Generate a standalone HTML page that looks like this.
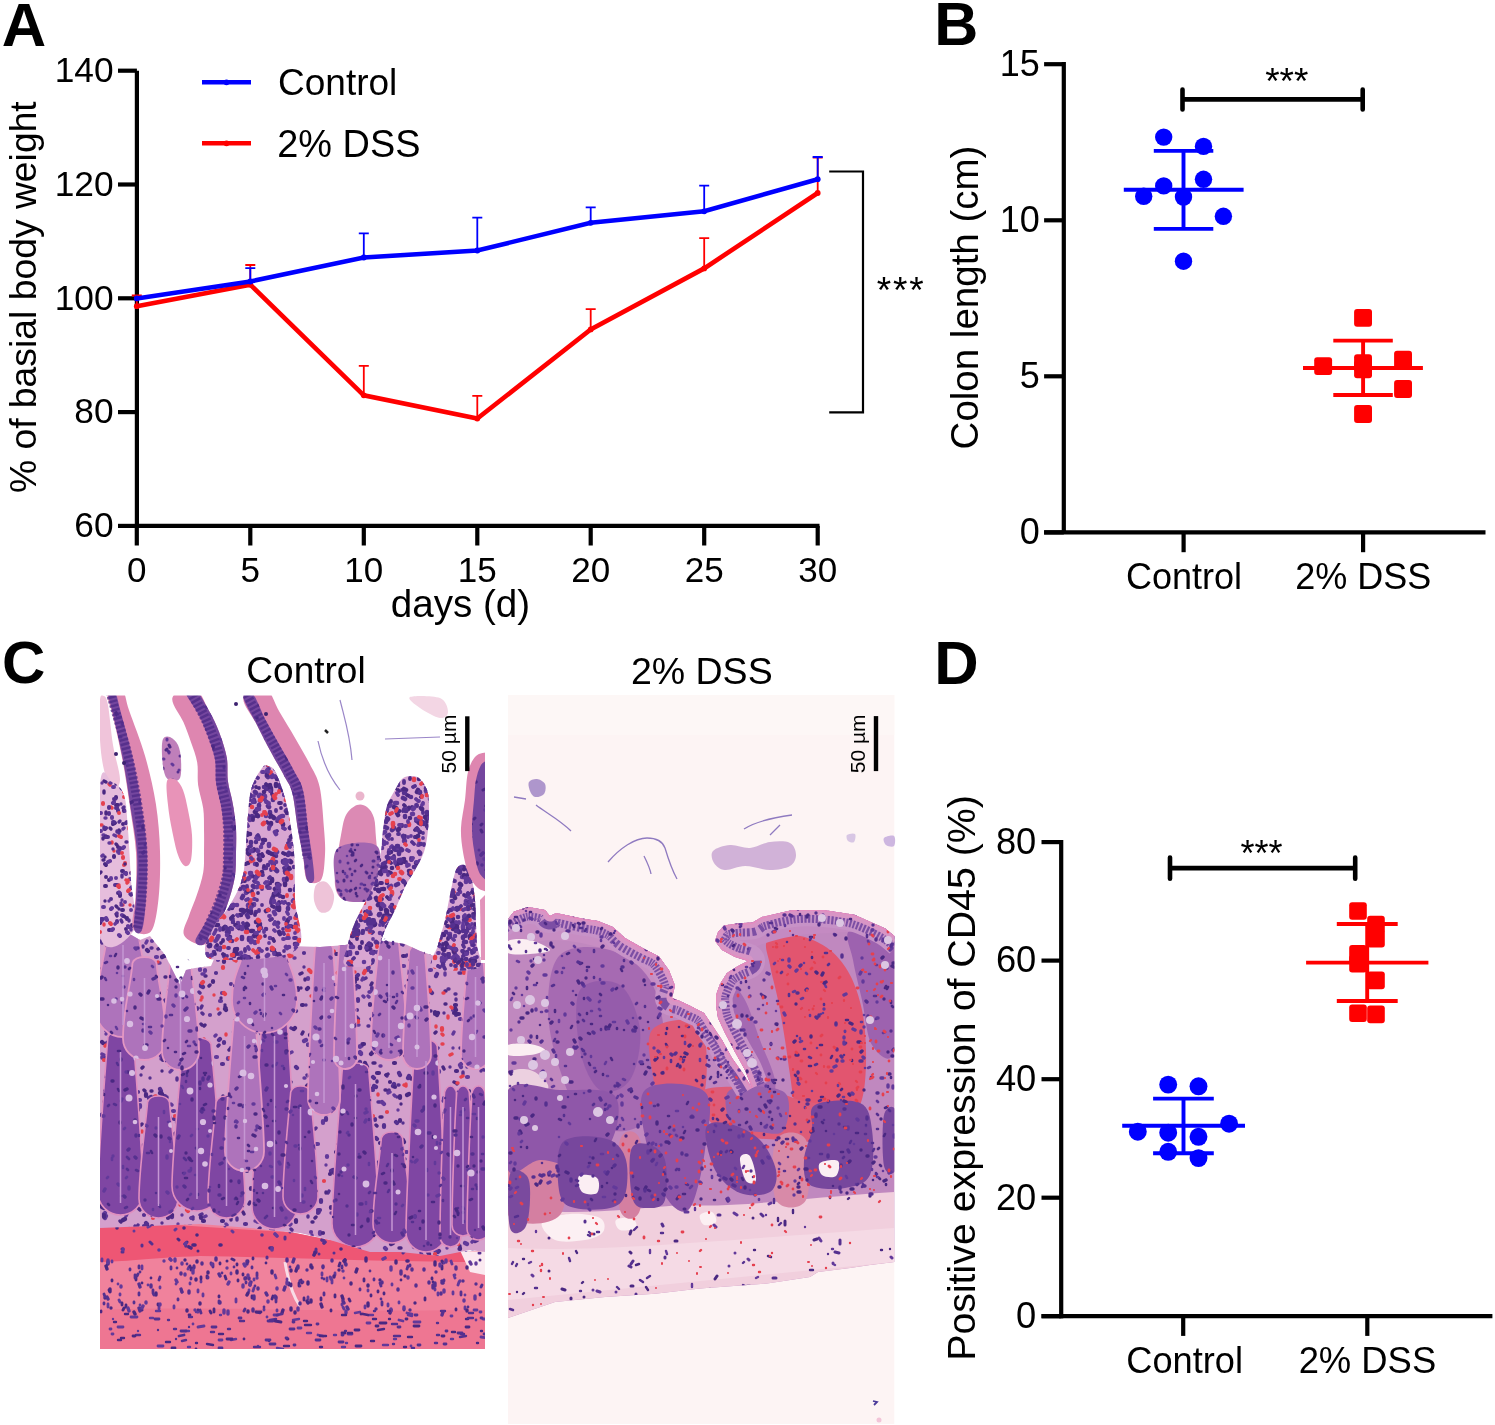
<!DOCTYPE html>
<html><head><meta charset="utf-8"><title>Figure</title>
<style>
html,body{margin:0;padding:0;background:#fff;width:1495px;height:1425px;overflow:hidden}
svg{display:block;will-change:transform}
text{font-family:"Liberation Sans",sans-serif;fill:#000}
</style></head>
<body>
<svg width="1495" height="1425" viewBox="0 0 1495 1425">
<rect width="1495" height="1425" fill="#fff"/>
<defs><clipPath id="c1"><path d="M100 1226L150 1225L200 1222L250 1226L290 1232L330 1240L380 1246L430 1249L485 1252L485 1349L100 1349Z"/></clipPath><clipPath id="c2"><path d="M100 930L128 933L140 940L150 936L165 955L180 985L186 970L195 968L211 966L220 945L240 938L270 940L290 946L320 947L345 945L360 942L385 941L405 944L420 951L440 958L460 963L485 963L485 1252L470 1250L440 1256L400 1252L370 1252L330 1240L300 1233L250 1228L200 1224L150 1226L100 1228Z"/></clipPath><clipPath id="c3"><path d="M107.9 1037C105.9 1062 98 1162.5 98 1192.5C98 1204.9 108.1 1215 120.5 1215C132.9 1215 143 1204.9 143 1192.5C143 1162.5 135.1 1062 133.1 1037C130.1 1029 110.9 1029 107.9 1037Z"/><path d="M147.6 1102C145.6 1127 139 1168.5 139 1198.5C139 1209.3 147.7 1218 158.5 1218C169.3 1218 178 1209.3 178 1198.5C178 1168.5 171.4 1127 169.4 1102C166.4 1094 150.6 1094 147.6 1102Z"/><path d="M183 1044C181 1069 172 1156 172 1186C172 1199.8 183.2 1211 197 1211C210.8 1211 222 1199.8 222 1186C222 1156 213 1069 211 1044C208 1036 186 1036 183 1044Z"/><path d="M216.1 1102C214.1 1127 208 1169.5 208 1199.5C208 1209.7 216.3 1218 226.5 1218C236.7 1218 245 1209.7 245 1199.5C245 1169.5 238.9 1127 236.9 1102C233.9 1094 219.1 1094 216.1 1102Z"/><path d="M261.9 1021C259.9 1046 252 1176.5 252 1206.5C252 1218.9 262.1 1229 274.5 1229C286.9 1229 297 1218.9 297 1206.5C297 1176.5 289.1 1046 287.1 1021C284.1 1013 264.9 1013 261.9 1021Z"/><path d="M290.7 1092C288.7 1117 283 1166.5 283 1196.5C283 1206.2 290.8 1214 300.5 1214C310.2 1214 318 1206.2 318 1196.5C318 1166.5 312.3 1117 310.3 1092C307.3 1084 293.7 1084 290.7 1092Z"/><path d="M342.3 1069C340.3 1094 332 1193.5 332 1223.5C332 1236.5 342.5 1247 355.5 1247C368.5 1247 379 1236.5 379 1223.5C379 1193.5 370.7 1094 368.7 1069C365.7 1061 345.3 1061 342.3 1069Z"/><path d="M381.4 1138C379.4 1163 373 1194 373 1224C373 1234.5 381.5 1243 392 1243C402.5 1243 411 1234.5 411 1224C411 1194 404.6 1163 402.6 1138C399.6 1130 384.4 1130 381.4 1138Z"/><path d="M414.8 1046C412.8 1071 406 1202 406 1232C406 1243 415 1252 426 1252C437 1252 446 1243 446 1232C446 1202 439.2 1071 437.2 1046C434.2 1038 417.8 1038 414.8 1046Z"/><path d="M444.6 1092C442.6 1117 440 1206.5 440 1236.5C440 1242.3 444.7 1247 450.5 1247C456.3 1247 461 1242.3 461 1236.5C461 1206.5 458.4 1117 456.4 1092C453.4 1084 447.6 1084 444.6 1092Z"/><path d="M456.8 1092C454.8 1117 452 1195 452 1225C452 1231.1 456.9 1236 463 1236C469.1 1236 474 1231.1 474 1225C474 1195 471.2 1117 469.2 1092C466.2 1084 459.8 1084 456.8 1092Z"/><path d="M472.1 1092C470.1 1117 467 1198.5 467 1228.5C467 1234.9 472.1 1240 478.5 1240C484.9 1240 490 1234.9 490 1228.5C490 1198.5 486.9 1117 484.9 1092C481.9 1084 475.1 1084 472.1 1092Z"/><path d="M107.9 930C105.9 955 96 980 96 1010C96 1024.9 108.1 1037 123 1037C137.9 1037 150 1024.9 150 1010C150 980 140.1 955 138.1 930C135.1 922 110.9 922 107.9 930Z"/><path d="M132.5 963C130.5 988 123 1008.5 123 1038.5C123 1050.4 132.6 1060 144.5 1060C156.4 1060 166 1050.4 166 1038.5C166 1008.5 158.5 988 156.5 963C153.5 955 135.5 955 132.5 963Z"/><path d="M170.1 963C168.1 988 162 1021.5 162 1051.5C162 1061.7 170.3 1070 180.5 1070C190.7 1070 199 1061.7 199 1051.5C199 1021.5 192.9 988 190.9 963C187.9 955 173.1 955 170.1 963Z"/><path d="M233.6 1021C231.6 1046 225 1121.5 225 1151.5C225 1162.3 233.7 1171 244.5 1171C255.3 1171 264 1162.3 264 1151.5C264 1121.5 257.4 1046 255.4 1021C252.4 1013 236.6 1013 233.6 1021Z"/><path d="M246.3 938C244.3 963 232 970.5 232 1000.5C232 1018.4 246.6 1033 264.5 1033C282.4 1033 297 1018.4 297 1000.5C297 970.5 284.7 963 282.7 938C279.7 930 249.3 930 246.3 938Z"/><path d="M315 948C313 973 308 1069 308 1099C308 1107.8 315.2 1115 324 1115C332.8 1115 340 1107.8 340 1099C340 1069 335 973 333 948C330 940 318 940 315 948Z"/><path d="M339.1 946C337.1 971 334 1027.5 334 1057.5C334 1063.9 339.1 1069 345.5 1069C351.9 1069 357 1063.9 357 1057.5C357 1027.5 353.9 971 351.9 946C348.9 938 342.1 938 339.1 946Z"/><path d="M378.9 944C376.9 969 371 1012 371 1042C371 1051.9 379.1 1060 389 1060C398.9 1060 407 1051.9 407 1042C407 1012 401.1 969 399.1 944C396.1 936 381.9 936 378.9 944Z"/><path d="M409.2 951C407.2 976 403 1025 403 1055C403 1062.7 409.3 1069 417 1069C424.7 1069 431 1062.7 431 1055C431 1025 426.8 976 424.8 951C421.8 943 412.2 943 409.2 951Z"/><path d="M467.4 962C465.4 987 461 1024.5 461 1054.5C461 1062.5 467.5 1069 475.5 1069C483.5 1069 490 1062.5 490 1054.5C490 1024.5 485.6 987 483.6 962C480.6 954 470.4 954 467.4 962Z"/></clipPath><clipPath id="c4"><path d="M100 785C102 759.3 108 780.3 112 782C116 783.7 121.3 787 124 795C126.7 803 126.8 815.8 128 830C129.2 844.2 130 863.3 131 880C132 896.7 139.2 920.7 134 930C128.8 939.3 105.7 960.2 100 936C94.3 911.8 98 810.7 100 785Z"/></clipPath><clipPath id="c5"><path d="M108.3 693.9C108 697.8 110.8 703.9 113.3 715.2C115.8 726.5 120.4 746.1 123.3 761.5C126.2 777 128.4 792.7 130.6 807.9C132.9 823 136.1 837.6 137 852.5C137.9 867.4 136.5 884.4 136 897.2C135.5 909.9 133.1 923.3 134.1 928.8C135.1 934.2 140 935.1 142 930C144 924.9 145.2 910.9 146 897.9C146.8 884.9 147.7 867.3 147 852C146.3 836.8 143.8 821.7 141.5 806.2C139.2 790.8 136.4 774.8 133 759.2C129.6 743.7 124 724.2 121 713C118 701.8 117.1 695.2 115 692C112.9 688.8 108.6 690.1 108.3 693.9Z"/></clipPath><clipPath id="c6"><path d="M163 739C164.3 736 167.5 736 170 737C172.5 738 176.2 741.2 178 745C179.8 748.8 180.7 754.5 181 760C181.3 765.5 181.5 774.5 180 778C178.5 781.5 174.5 781.5 172 781C169.5 780.5 166.7 779.3 165 775C163.3 770.7 162.3 761 162 755C161.7 749 161.7 742 163 739Z"/></clipPath><clipPath id="c7"><path d="M184.8 691C185.6 695.8 194.9 707.2 198.7 714.7C202.5 722.2 205.1 728.5 207.8 736C210.5 743.4 213.6 751.7 215 759.5C216.3 767.3 215 774.9 216 782.6C217 790.3 219.6 797.8 221 805.5C222.3 813.3 223.5 821.1 224 828.8C224.5 836.6 224.2 844.3 224 852.1C223.8 859.9 224.3 867.5 222.9 875.7C221.6 883.9 218.6 893.6 215.8 901.3C212.9 909.1 209.1 915.7 205.7 922.2C202.3 928.8 195.7 936.9 195.4 940.6C195 944.4 199.9 946.7 203.5 944.5C207 942.2 212.7 933.7 216.7 927.2C220.6 920.6 224.1 913.5 227.1 905.3C230.1 897 233.3 886.4 234.8 877.6C236.3 868.8 235.8 860.6 236 852.3C236.2 844.1 236.5 836.4 236 828.3C235.5 820.2 234.2 811.6 232.8 803.7C231.5 795.9 228.9 788.8 227.9 781.1C226.9 773.3 228.2 765.6 226.8 757.4C225.3 749.2 222.1 739.8 219.1 731.9C216.1 723.9 212.8 717.4 208.6 709.9C204.3 702.3 197.5 689.4 193.6 686.3C189.6 683.2 183.9 686.3 184.8 691Z"/></clipPath><clipPath id="c8"><path d="M262 768C264.8 764 265.7 765.2 268 766C270.3 766.8 272.8 766.3 276 773C279.2 779.7 284 792.8 287 806C290 819.2 292.7 836.3 294 852C295.3 867.7 294.7 883.7 295 900C295.3 916.3 308.5 940 296 950C283.5 960 235.2 960 220 960C204.8 960 205.8 955.8 205 950C204.2 944.2 210.8 932.5 215 925C219.2 917.5 225.3 913.3 230 905C234.7 896.7 240.2 887.7 243 875C245.8 862.3 245.7 843.2 247 829C248.3 814.8 248.5 800.2 251 790C253.5 779.8 259.2 772 262 768Z"/></clipPath><clipPath id="c9"><path d="M243.4 697.7C244.2 702.9 252 715.2 256.6 724.2C261.2 733.3 266.1 743.1 270.8 751.8C275.4 760.5 280.9 769.5 284.5 776.4C288.1 783.3 290.1 784.2 292.4 793.2C294.6 802.3 296.3 820.2 298.1 830.6C299.9 841 301.5 847.4 303 855.6C304.5 863.9 305.2 875.9 307 880C308.8 884.1 313.2 884.1 314 880C314.8 875.9 313 863.6 312 855.1C311 846.7 309.5 840.1 308 829.4C306.5 818.6 305.4 800.4 303.1 790.7C300.8 781 298.1 778.7 294.3 771.4C290.5 764 285.2 755.1 280.4 746.5C275.6 737.8 270.1 728.4 265.4 719.4C260.7 710.5 255.9 696.6 252.2 692.9C248.6 689.3 242.7 692.5 243.4 697.7Z"/></clipPath><clipPath id="c10"><path d="M338 848C345 842.3 370.2 839.8 377 846C383.8 852.2 379.7 876.2 379 885C378.3 893.8 376.8 896.2 373 899C369.2 901.8 361.3 902.2 356 902C350.7 901.8 344.5 901.7 341 898C337.5 894.3 335.5 888.3 335 880C334.5 871.7 331 853.7 338 848Z"/></clipPath><clipPath id="c11"><path d="M410 776C412.8 775.8 416.2 775.7 419 778C421.8 780.3 425.3 785.3 427 790C428.7 794.7 428.8 799.3 429 806C429.2 812.7 428.8 822.3 428 830C427.2 837.7 426.2 845.3 424 852C421.8 858.7 418.2 864.2 415 870C411.8 875.8 408.3 880.3 405 887C401.7 893.7 398.3 902.8 395 910C391.7 917.2 387.8 923.3 385 930C382.2 936.7 380.2 944.2 378 950C375.8 955.8 377.5 962.5 372 965C366.5 967.5 349.2 967.8 345 965C340.8 962.2 345.8 953.8 347 948C348.2 942.2 349.8 936 352 930C354.2 924 357 918.2 360 912C363 905.8 367.2 899.2 370 893C372.8 886.8 375.2 881.8 377 875C378.8 868.2 380 859.5 381 852C382 844.5 382 837.7 383 830C384 822.3 385 812.7 387 806C389 799.3 392.5 794.5 395 790C397.5 785.5 399.5 781.3 402 779C404.5 776.7 407.2 776.2 410 776Z"/></clipPath><clipPath id="c12"><path d="M461 865C462.8 864.5 465.2 864.5 467 867C468.8 869.5 470.7 874.5 472 880C473.3 885.5 474.3 892.5 475 900C475.7 907.5 475.7 917.5 476 925C476.3 932.5 476.7 937.8 477 945C477.3 952.2 485.3 964.2 478 968C470.7 971.8 439.7 971.8 433 968C426.3 964.2 436 953 438 945C440 937 443.2 927.5 445 920C446.8 912.5 447.8 905.8 449 900C450.2 894.2 450.8 890 452 885C453.2 880 454.5 873.3 456 870C457.5 866.7 459.2 865.5 461 865Z"/></clipPath><clipPath id="c13"><path d="M488 760C486.8 760.8 483 761.7 481 765C479 768.3 477.2 774.2 476 780C474.8 785.8 474.7 792 474 800C473.3 808 472 819.7 472 828C472 836.3 472.8 842.7 474 850C475.2 857.3 476.7 866.7 479 872C481.3 877.3 486.5 880.3 488 882Z"/></clipPath><clipPath id="c14"><path d="M508 919L514 911.6L528 907L545 910L550 916L556 913L582 918.6L598 921L613 927L625 938L644 948.7L659 956.4L669 970.3L675 985.8L672 998L680 1001L690 1005.8L704 1013L712 1025L722 1040L732 1058L742 1072L752 1088L745 1070L735 1052L725 1033L718 1018L716 1005L716 995L720 984L727 973L738 966L748 961L735 957L722 950L715 941L718 932L724 925.5L738.6 923.2L752.5 922.4L761.8 917L792.7 910L823.6 910L854.4 914.7L885.3 928.6L894.3 936L894.3 1262L870 1265L850 1268L818 1272L810 1277L767 1283.6L700 1288.6L655 1293.7L605 1297L555 1302L508 1318Z"/></clipPath></defs>
<path d="M100 1226L150 1225L200 1222L250 1226L290 1232L330 1240L380 1246L430 1249L485 1252L485 1349L100 1349Z" fill="#f0829c"/>
<g clip-path="url(#c1)"><path d="M100 1220L485 1245L485 1262C400 1262 300 1258 200 1256C150 1258 120 1262 100 1262Z" fill="#ee5674"/><path d="M100 1310C200 1306 300 1312 485 1310L485 1349L100 1349Z" fill="#ee7692"/><path d="M458 1246L485 1244L485 1275L470 1272Z" fill="#fbe9f0"/><path d="M285 1262C288 1280 292 1295 300 1306" stroke="#f8dce6" stroke-width="3" fill="none"/></g>
<g clip-path="url(#c1)" fill="none" stroke-linecap="round"><path stroke="#62399a" stroke-width="3" d="M225 1226l-0 0M241 1222l0 0M232 1231l1 1M467 1235l1 2M176 1229l-1 1M408 1224l-2 1M150 1226l-2 1M134 1231l-0 0M114 1221l1 1M420 1250l0 1M290 1232l-0 0M443 1246l-2 2M388 1241l2 0"/><path stroke="#4a2882" stroke-width="3" d="M127 1224l2 1M314 1226l-0 1M232 1259l2 1M420 1228l-0 0M187 1242l-2 2M480 1260l0 0M316 1230l-0 2M178 1239l1 1M122 1249l1 0M442 1261l1 2M227 1261l-0 0M198 1251l0 0"/><path stroke="#55308f" stroke-width="3.6" d="M186 1246l0 0M124 1223l0 2M323 1239l-1 1M389 1240l1 2M316 1252l-1 0M358 1238l-2 1M473 1229l2 1M262 1235l-0 0M400 1231l-1 2M121 1225l1 0M254 1222l1 1M325 1242l-1 1M384 1231l-0 0"/><path stroke="#55308f" stroke-width="3" d="M316 1249l-0 1M381 1232l1 1M123 1252l-1 0M189 1223l2 0M335 1233l-1 0M285 1237l0 2M142 1245l-0 1M465 1246l1 1M404 1252l-1 1M379 1227l-0 0M311 1226l-1 0M267 1257l0 1M334 1253l-0 0M479 1253l1 0M150 1242l2 2M353 1230l1 0M319 1254l0 0M451 1232l0 0"/><path stroke="#4a2882" stroke-width="3.6" d="M221 1245l-1 0M315 1253l-1 2M357 1221l0 0M291 1227l-2 1M433 1232l1 2M197 1235l-0 0M482 1240l0 0M348 1224l1 2M408 1261l-1 0M193 1245l2 0M333 1228l-1 1M270 1221l1 0M272 1248l-2 0M117 1228l0 0M184 1228l0 0M345 1260l-1 1M341 1249l-0 0M189 1247l2 1"/><path stroke="#62399a" stroke-width="3.6" d="M369 1230l-1 1M123 1249l0 1M466 1249l0 1M186 1243l-1 1M282 1228l-1 0M411 1226l1 1M385 1258l-2 1M146 1223l2 1M295 1230l-2 1M159 1250l-0 0M357 1229l1 2M464 1237l2 0M275 1234l2 2M170 1259l1 1M272 1248l-0 2M356 1236l-1 1"/></g>
<g clip-path="url(#c1)" fill="none" stroke-linecap="round"><path stroke="#62399a" stroke-width="2.8" d="M203 1294l0 2M120 1294l0 1M343 1307l1 2M194 1267l0 1M148 1285l-0 0M142 1266l-0 3M277 1310l0 1M451 1261l1 3M231 1273l-0 1M388 1304l0 2M194 1266l0 1M198 1290l-0 2M160 1287l0 1M365 1306l-0 2M176 1284l-0 0M174 1306l0 2M455 1275l0 0M118 1284l0 0M444 1263l-0 0M102 1259l0 2M327 1278l-0 3M465 1307l-0 2M345 1262l0 2M254 1279l-0 1M190 1283l0 1M332 1280l0 3M438 1293l-0 2M275 1275l1 3M108 1304l0 3M308 1297l-0 2M399 1302l-0 1M159 1307l-0 2M368 1290l-0 1M249 1290l0 1M119 1300l1 2M112 1261l0 1M201 1281l0 1M287 1279l0 1M330 1277l0 0M435 1289l-0 1M264 1309l0 1M189 1267l-1 2M140 1305l0 0M344 1278l0 0M453 1292l0 2M459 1282l-1 3M322 1273l0 2M236 1299l-0 3M335 1273l-0 2M392 1284l0 1M454 1275l1 3M465 1295l0 0M254 1288l-1 3M342 1304l0 1"/><path stroke="#4a2882" stroke-width="2.8" d="M299 1283l-0 3M220 1263l0 1M225 1276l1 3M384 1293l-0 1M349 1299l1 2M253 1258l-0 1M214 1309l0 3M109 1290l1 2M273 1296l-1 3M124 1308l-1 2M433 1282l-0 0M291 1284l-0 2M480 1294l-0 1M238 1280l0 1M101 1311l-0 1M266 1263l0 0M198 1310l-0 2M207 1276l0 2M237 1264l0 1M151 1278l-0 0M401 1280l-0 0M425 1298l0 2M456 1309l-0 1M141 1308l1 2M201 1277l0 2M112 1280l-0 1M243 1274l-0 1M192 1268l-1 2M378 1291l-0 1M321 1298l-0 2M301 1280l1 3M371 1295l-0 1M340 1263l-1 3M122 1303l0 2M304 1298l0 2M190 1266l-0 1M335 1295l0 2M432 1278l0 1M219 1296l0 1M331 1310l-0 1M252 1296l0 2M442 1266l0 3M142 1283l0 0M404 1309l0 1M342 1268l-0 0M290 1285l0 0M210 1311l1 2M126 1305l-0 2M158 1304l0 1M364 1279l0 2M136 1278l0 2M345 1260l0 2M289 1283l-0 2M248 1261l-0 1"/><path stroke="#4a2882" stroke-width="3.4" d="M295 1312l-0 1M380 1280l0 0M105 1298l0 0M435 1262l0 3M297 1268l-1 3M312 1267l0 1M291 1270l-0 1M248 1293l-1 2M246 1278l0 0M308 1282l0 2M283 1310l-1 3M334 1276l-0 1M272 1271l-0 2M208 1272l0 1M339 1270l0 0M196 1279l0 1M415 1303l0 0M396 1261l-0 2M368 1303l0 3M248 1311l0 1M467 1310l0 1M187 1310l0 1M311 1265l0 2M368 1285l0 1M197 1261l0 1M405 1276l-0 0M134 1312l1 2M342 1296l1 3M467 1267l-0 1M106 1266l1 3M311 1300l-0 2M200 1303l0 1M185 1260l-0 0M111 1308l0 0M351 1283l0 1M108 1262l0 2M110 1289l0 2M391 1310l-1 3M156 1293l0 2M321 1304l1 3M237 1271l-0 2M276 1297l-0 1M307 1301l1 2M291 1308l0 2M366 1258l-0 3M357 1269l-1 3"/><path stroke="#55308f" stroke-width="3.4" d="M181 1289l1 3M416 1285l-0 1M287 1259l0 2M382 1282l-0 1M412 1269l-0 1M181 1273l-0 1M401 1271l-0 3M441 1293l0 1M220 1302l-0 1M151 1285l-0 2M285 1287l-1 3M202 1263l-0 1M139 1284l1 3M463 1281l0 0M347 1307l1 2M410 1310l-0 0M476 1284l-0 0M245 1278l0 1M189 1291l0 2M219 1274l1 2M424 1269l0 1M307 1270l0 0M398 1289l-0 1M346 1264l0 1M429 1282l0 1M254 1296l0 3M376 1309l-0 0M247 1261l-0 3M216 1258l-0 2M139 1308l1 3M266 1293l1 2M107 1297l1 2M249 1278l0 1M443 1312l-1 3M435 1283l-0 3M251 1282l-1 3M442 1282l0 1M343 1301l1 2M300 1303l-0 1M433 1285l0 3M436 1272l-0 0M253 1309l-0 2M332 1260l0 1M294 1259l-1 3M300 1281l0 0M275 1296l-0 1M456 1267l0 2M258 1288l-0 1M442 1281l1 2M298 1266l0 2M323 1266l0 1"/><path stroke="#55308f" stroke-width="2.8" d="M252 1267l-0 1M303 1282l0 0M324 1279l0 0M208 1277l-0 1M219 1301l0 2M222 1273l0 0M130 1269l-0 1M482 1285l-1 2M213 1264l0 3M322 1278l-0 0M234 1267l0 0M160 1277l-1 3M245 1309l-1 2M382 1302l0 3M468 1307l0 0M191 1278l-0 1M194 1266l-0 2M290 1267l0 0M171 1267l-0 2M187 1264l-0 0M182 1292l0 0M153 1293l1 2M374 1279l0 1M211 1263l0 1M178 1299l0 1M323 1267l0 1M200 1310l1 3M104 1303l0 1M360 1289l0 1M324 1293l0 2M139 1266l0 2M370 1271l0 0M276 1299l0 3M139 1293l0 2M104 1294l1 3M380 1283l1 3M134 1302l0 1M255 1286l-0 0M177 1268l-0 0M135 1275l-0 3M246 1282l-0 1M408 1266l-1 3M342 1266l0 1M138 1274l-1 2M257 1273l0 3M381 1299l-0 0M410 1265l0 1M140 1272l-0 0M153 1290l0 2M461 1292l-0 3M264 1307l-0 0M444 1280l-0 1M300 1286l-0 0"/><path stroke="#62399a" stroke-width="3.4" d="M108 1260l0 3M128 1308l1 3M195 1310l0 0M243 1285l0 2M227 1268l-0 0M343 1271l0 0M257 1278l0 0M250 1283l0 2M391 1267l0 3M440 1264l0 2M346 1311l-0 2M185 1274l0 1M444 1290l0 2M176 1280l1 2M268 1301l-0 1M331 1278l-0 1M224 1310l-0 3M160 1304l0 1M298 1308l0 2M408 1277l0 1M476 1263l-0 1M470 1262l1 2M446 1260l0 2M228 1311l-0 3M404 1307l-0 2M146 1302l0 1M464 1300l0 1M475 1296l-0 3M182 1263l-0 1M244 1264l1 2M391 1309l0 2M212 1264l0 1M175 1259l-0 2M229 1282l-1 2M121 1286l0 1M164 1261l-0 0M277 1288l0 1M193 1270l0 3M460 1281l0 0M248 1275l0 1M287 1282l-0 2M143 1306l-1 2"/></g>
<g clip-path="url(#c1)" fill="none" stroke-linecap="round"><path stroke="#62399a" stroke-width="2.4" d="M196 1312l2 0M150 1318l3 -0M156 1311l4 0M451 1339l2 0M342 1347l3 0M369 1315l4 -0M346 1343l1 0M277 1348l6 1M383 1345l5 0M408 1315l4 1M231 1340l5 -1M138 1331l0 0M188 1347l2 0M220 1315l1 0M334 1335l2 -0M293 1320l6 -1M394 1339l2 0M307 1333l4 0M258 1346l0 -0M113 1319l0 0M186 1331l3 0M355 1313l5 -1"/><path stroke="#62399a" stroke-width="2.8" d="M414 1322l6 -0M274 1315l4 -0M198 1327l6 -1M267 1317l0 0M348 1334l4 -0M318 1335l5 1M112 1334l1 -0M298 1328l3 0M193 1324l0 0M158 1346l5 0M131 1317l6 -0M118 1327l5 0M110 1329l1 0M407 1313l5 1M480 1312l1 -0M219 1340l3 -0M399 1320l4 1M411 1346l0 0M451 1316l1 -0M481 1337l6 1M367 1323l3 -0M474 1310l3 0M483 1319l2 -0M476 1320l0 0"/><path stroke="#4a2882" stroke-width="2.4" d="M466 1319l2 -0M305 1325l6 -0M452 1332l3 -0M481 1331l1 0M408 1337l4 0M196 1343l1 -0M114 1322l2 0M371 1341l3 0M342 1315l4 -0M477 1343l1 -0M388 1311l2 -0M219 1334l4 -0M477 1343l1 -0M121 1338l3 0M320 1347l2 -0M389 1319l1 0M373 1319l3 0M269 1341l0 -0M348 1333l4 -0M320 1336l6 0M304 1321l3 -0M373 1319l2 -0M207 1344l6 1M284 1346l5 -0M118 1340l3 -0M125 1314l3 -0M404 1347l2 -0M378 1330l6 -1M166 1342l4 0"/><path stroke="#55308f" stroke-width="2.4" d="M374 1311l1 -0M189 1317l3 -0M394 1336l6 0M345 1331l1 -0M136 1335l4 -0M211 1332l3 0M441 1311l4 -0M270 1320l6 -1M174 1329l2 0M256 1312l4 1M158 1330l0 0M229 1329l1 0M240 1321l4 -0M176 1339l0 0M437 1323l1 0M437 1335l2 0M254 1347l6 0M412 1348l2 0M461 1334l3 -0M435 1343l2 0M182 1341l4 -1M228 1329l2 0M468 1318l5 0M460 1337l6 -1M189 1327l0 0M469 1313l4 -0M168 1320l1 -0M393 1344l1 0M392 1324l5 -0"/><path stroke="#4a2882" stroke-width="2.8" d="M172 1348l3 -0M406 1319l1 -0M342 1333l3 -0M361 1314l0 0M414 1326l5 -0M466 1327l3 0M287 1339l1 -0M189 1315l1 -0M133 1336l2 -0M244 1339l0 0M196 1349l0 -0M380 1323l6 -0M256 1312l5 0M442 1336l2 0M227 1339l5 0M363 1314l5 1M275 1321l6 1M376 1326l2 -0M356 1346l5 -0M355 1330l4 -0"/><path stroke="#55308f" stroke-width="2.8" d="M268 1321l5 -0M293 1322l1 -0M342 1335l1 -0M266 1340l4 0M484 1334l3 -0M179 1336l5 -1M286 1338l1 0M239 1318l2 -0M219 1348l3 0M290 1329l4 0M155 1319l4 -0M418 1345l2 -0M317 1324l1 -0M339 1342l4 -0M277 1315l5 -1M481 1318l1 0M316 1340l4 0M294 1345l1 -0M458 1333l4 -0M398 1327l2 -0M446 1331l1 -0M181 1331l5 -0M270 1344l5 -0M444 1344l2 0M415 1315l2 -0M212 1327l4 0"/></g>
<path d="M100 930L128 933L140 940L150 936L165 955L180 985L186 970L195 968L211 966L220 945L240 938L270 940L290 946L320 947L345 945L360 942L385 941L405 944L420 951L440 958L460 963L485 963L485 1252L470 1250L440 1256L400 1252L370 1252L330 1240L300 1233L250 1228L200 1224L150 1226L100 1228Z" fill="#d4a0cc"/>
<g clip-path="url(#c2)" fill="none" stroke-linecap="round"><path stroke="#55308f" stroke-width="3.4" d="M167 1097l-0 1M199 992l1 1M316 1192l-1 1M180 959l-2 0M122 1157l1 2M171 1036l0 0M389 1090l-1 1M330 1105l0 0M403 1123l-0 0M306 1005l0 0M402 1162l0 0M364 1161l0 2M291 1184l-0 0M290 1182l-0 1M217 943l-1 1M154 1097l-0 1M339 1234l1 2M340 1092l1 2M202 1006l-1 2M112 1104l1 1M475 1174l0 0M162 1223l0 0M380 1102l-2 0M237 1218l0 2M329 1191l-1 2M412 1078l-2 0M192 1218l1 1M362 1208l-0 0M192 1039l-0 0M368 1026l1 0M438 1232l2 2M104 988l-1 2M220 1013l-1 1M122 1010l0 0M444 1013l0 0M314 1089l-1 0M450 1067l0 0M202 1233l0 0M369 930l-1 1M177 947l-0 0M449 989l-1 0M204 1239l-0 0M202 1013l1 1M379 1030l2 1M150 989l-0 2M363 1145l-1 2M109 969l-1 1M482 1069l2 1M456 994l-1 0M463 1072l-0 2M424 1140l-0 0M291 1238l0 0M147 1248l-1 0M134 1233l0 0M115 944l-0 0M440 930l1 1M155 983l2 0M265 1236l0 0M131 1188l0 1M142 1020l-1 1M101 941l1 2M210 938l-1 1M135 1226l2 1M247 1149l0 0M150 932l0 0M468 1045l-0 0M163 945l2 0M195 1156l0 0M291 1229l1 1M467 988l-0 1M193 1217l-2 1M416 995l-0 1M459 973l2 0M407 955l-1 1M149 1195l-0 1M137 1145l-1 1M465 998l-0 1M473 1049l-1 2M107 1085l-1 0M354 1091l-0 0M204 1089l2 0M434 1200l-1 2M368 1149l-1 1M270 956l0 0M369 967l0 1M346 1085l0 2M379 953l-0 1M416 1026l-1 1M341 1018l0 1M343 1049l1 1M426 1020l1 1M172 1162l1 0M113 1232l1 2M458 1168l1 1M361 1157l1 0M310 1194l1 2M133 1253l1 1M350 1204l2 1M276 1174l-0 1M258 1111l2 1M445 1163l0 0M358 1206l-0 0M309 1210l-2 1M141 1075l0 0M473 1218l-0 1M122 1147l-0 0M126 1251l-1 1M103 992l-1 1M257 1114l0 0M309 1168l-2 2M241 1198l-1 2M152 1239l0 0M256 964l0 1M180 987l-1 1M250 969l2 2M419 1036l-0 1M287 1252l-1 0M369 992l0 0M120 1031l0 0M472 1221l0 0M105 1128l0 2M456 999l0 1M396 1155l2 2M202 1214l-2 1M316 1128l-1 1M397 1097l-0 0M186 1180l1 1M293 937l1 0M297 1161l-0 1M129 1092l1 1M240 1082l1 1M482 1047l0 2M283 1236l-0 0M464 1204l0 0M182 1240l-0 0M308 1216l-0 1M304 967l0 0M295 1105l-1 1M178 973l-0 0M355 1089l1 2M143 1145l0 2M338 1050l-1 1M128 1157l0 0M450 1132l-2 1M102 1013l1 1M380 939l1 2M193 1083l-0 0M183 1245l1 2M115 1109l0 0M346 1156l-2 1M299 1181l0 0M180 1194l-2 1M138 1225l-1 2M268 1100l1 0M270 1064l-0 1M150 1078l-0 0M386 1075l1 1M107 968l-0 1M294 1168l-0 1M483 1151l0 1M155 1002l-0 1M242 1186l1 0M371 1019l1 1M366 978l-2 1M177 1078l-0 2M197 1124l1 1M297 1208l1 0M348 1041l-2 1M239 1176l-0 0M188 997l0 0M313 1106l1 2M399 1085l-1 0M342 1022l-1 1M289 1159l1 1M307 1075l1 1M325 998l-0 1M267 978l-1 1M397 999l1 1M281 935l1 0M320 1026l0 1M438 1048l-1 1M282 1089l-2 0M165 1000l1 2M151 948l1 0M146 1009l1 2M169 1064l1 1M285 1116l2 0M164 951l0 0M252 1085l-0 2M143 946l0 1M362 1044l-0 2M117 1185l1 0M185 1095l-0 0M142 1195l1 1M347 935l-1 0M481 1071l-0 0M429 987l0 0M228 1118l-2 1M291 1028l2 1M401 944l2 1M378 1180l0 0M237 1093l-1 1M123 1173l-0 0M251 1155l1 0M269 1025l-0 1M433 1213l-0 0M202 964l2 1M165 956l1 0M256 957l1 0M311 1240l-0 0M256 1193l1 0"/><path stroke="#62399a" stroke-width="4.2" d="M191 1048l-0 1M453 1010l-0 0M255 939l-1 1M248 1146l0 1M260 1144l2 1M273 1007l-0 0M406 1152l1 0M351 1203l2 0M318 1144l-2 0M383 1176l-0 0M239 1145l-2 1M443 1168l0 0M360 1052l1 1M239 1156l0 2M105 1213l-1 1M318 1030l-0 0M197 1055l-2 0M320 1232l-0 2M270 1160l2 0M231 1106l-0 0M391 1220l1 0M129 1111l-0 2M203 1235l1 1M242 1170l-0 0M222 993l-0 0M292 1126l-0 0M388 1048l0 1M252 964l-1 2M405 1168l-0 0M326 989l-2 1M189 956l1 1M185 1022l-1 0M179 1029l0 0M278 1038l-0 1M461 1064l-1 1M200 1172l-1 0M316 973l0 2M472 1059l-1 1M284 1094l-1 2M223 1177l-0 0M349 1017l-1 0M468 1077l-1 0M483 1133l-0 0M312 1045l1 1M257 1104l1 1M437 1257l-1 2M190 1186l-1 1M205 945l-0 0M228 1058l-0 1M477 1178l-2 1M212 1103l2 1M269 1201l-1 1M188 955l-1 1M176 1243l-2 1M390 1173l1 0M271 1230l2 0M386 957l1 0M231 1048l1 2M244 1157l-0 1M421 1218l1 1M342 1120l-1 1M159 1105l1 1M139 1036l-2 0M218 958l-0 2M390 955l0 0M385 996l-1 0M318 1212l1 0M439 1203l-0 2M464 1136l0 0M344 1005l0 1M121 978l-2 1M161 1179l2 1M327 1156l0 1M322 983l-0 0M157 957l-1 0M461 1019l-1 0M173 1111l1 0M140 1105l0 2M181 961l-1 1M106 1216l-1 2M205 970l-0 1M153 1139l-0 0M313 935l-0 0M393 1156l1 0M287 1191l-1 2M258 1011l1 0M305 1157l-0 0M233 933l0 0M457 1102l-2 2M269 1253l0 1M140 1173l2 1M483 1110l-0 1M384 1008l0 1M475 1203l-1 0M420 1149l1 1M364 1127l-2 0M187 1033l2 0M192 1040l-2 0M430 970l1 0M460 1065l1 2M439 1071l-0 1M235 1031l-1 1M126 1173l1 1M481 1093l2 1M181 1187l-1 0M131 961l1 1M170 1119l0 0M340 934l0 1M162 1055l-1 1M435 1106l1 2M308 978l0 1M368 968l-0 2M351 1126l-1 0M277 1244l2 2M360 1046l-0 1M186 1119l1 1M433 1049l-0 0M210 1015l-0 0M343 1004l-1 0M280 951l2 0M149 1033l1 1M202 1175l-0 2M320 1244l-0 0M364 1073l-1 2M427 1103l1 0M406 1175l0 1M239 1098l-1 2M116 1118l-2 1M373 1201l1 0M188 997l2 0M188 1032l-2 1M261 1198l-0 0M183 928l1 2M441 948l-1 1M347 1238l-0 0M210 1056l-0 0M341 943l1 2M141 1025l-0 0M484 1132l-0 0M418 1231l0 0M443 1116l-1 1M292 1096l0 2M337 1179l-0 1M240 1065l0 0M114 960l-1 0M152 941l-0 0M306 1040l-2 1M344 1058l1 1M372 1198l-0 1M154 1204l-2 0M245 1155l2 0M339 1185l0 1M121 943l-0 0M439 1175l0 1M373 1020l1 1M227 1156l0 0M242 994l1 0M420 1150l0 2M324 952l-1 0M224 1154l0 0M388 969l-1 1M127 1002l-1 1M311 1232l-0 0M266 996l0 1M120 968l1 0M399 935l0 1M252 1079l1 2M310 1123l-1 2M444 1098l-0 2M323 1121l0 2M212 1177l1 2M318 1038l-1 2M360 1053l1 1M200 969l0 1M404 966l-1 0M145 1025l0 2M415 1246l-1 1M350 1239l1 1M261 1213l0 1M269 1066l-2 0M382 1102l2 2M220 1001l1 0M404 1203l-0 1M472 1060l-1 0M111 947l0 0M210 1118l-0 1M194 1067l1 1M139 1100l1 0M327 968l0 0M465 1243l2 1M115 933l-0 0M102 986l0 0M119 982l0 0M379 1164l0 1M461 1164l-1 1M303 1198l-0 0M217 1057l-1 0M385 1248l1 1M155 1008l-0 1"/><path stroke="#4a2882" stroke-width="3.4" d="M100 1011l-0 1M125 1057l-1 1M396 964l1 0M279 1088l-1 1M177 1231l2 0M246 1138l0 0M225 1007l1 1M176 1059l-1 2M405 1159l0 0M412 1079l-1 0M316 1217l-1 1M276 1037l-1 0M257 1104l-0 0M437 1188l-2 0M219 1045l-1 1M460 1246l-0 0M338 989l0 0M392 950l1 1M133 1185l1 2M115 956l0 0M193 1235l-1 2M276 1148l-0 0M465 1128l-1 1M283 1011l-1 1M260 1228l-1 1M122 1003l0 1M326 1192l-0 1M127 927l2 0M126 1193l-1 1M332 1060l-1 1M104 1179l-2 0M120 1221l1 1M182 1038l0 0M432 1143l-0 1M404 1044l-1 0M401 1104l0 0M260 1032l1 2M395 1007l0 0M338 1026l1 0M328 973l-0 0M343 962l-0 0M372 983l-1 2M352 1073l-0 2M409 1187l1 2M430 1011l1 0M216 1248l1 1M417 929l2 1M122 1066l-1 0M456 1126l0 0M297 1237l0 0M174 1060l-1 1M160 948l-2 1M129 1192l-1 0M162 1071l-0 0M230 1049l-1 1M443 1067l1 2M144 1032l1 1M108 1150l1 0M299 1252l0 1M243 1212l1 2M348 970l-2 1M205 1025l-1 1M168 1201l-0 0M454 1082l2 1M147 1019l-1 0M170 1117l-0 1M446 991l-1 0M270 1033l1 0M351 1012l-1 1M206 976l-1 0M445 1004l1 0M414 1109l-0 0M143 1067l-1 1M199 1196l-0 0M166 977l-1 0M302 973l-2 1M138 1161l0 0M444 968l1 1M252 1140l-0 1M457 1114l-1 0M370 1180l2 1M477 1181l-2 2M246 1235l1 1M457 1084l0 0M199 1155l2 0M157 1101l1 1M288 991l0 2M124 1148l2 0M385 995l-1 2M138 1208l2 2M290 1177l0 0M201 1024l1 1M144 1090l1 1M450 1228l-1 1M372 1187l1 1M444 955l-0 2M213 1158l0 1M261 1118l1 0M419 1057l2 0M180 1004l0 1M242 1129l-0 1M221 998l0 0M136 1162l-1 0M432 1219l2 0M307 1187l-0 0M301 988l-0 0M319 980l-0 0M264 1102l2 1M223 1145l-0 1M110 956l0 0M150 1113l-0 2M431 1243l-0 1M299 1187l-1 0M416 967l-1 1M471 1118l-1 1M148 1226l-0 0M445 1208l2 0M291 1011l-1 0M223 1096l-0 0M285 1041l-2 2M357 1089l0 1M175 941l0 0M357 1105l-0 2M250 1202l-1 2M242 1092l-1 0M138 956l0 1M310 1244l0 0M456 955l-2 0M312 1222l1 0M165 1204l-1 0M479 1047l2 1M444 1113l0 0M185 990l-1 1M254 1091l0 2M308 934l2 0M369 1215l0 1M356 1198l-1 1M428 1159l2 0M183 1151l0 0M426 1026l2 1M145 1236l-1 2M225 1005l0 0M332 951l2 1M247 1162l2 0M135 1241l0 2M237 1128l1 1M331 1035l-1 0M174 1134l1 1M365 1239l1 0M219 1184l-1 0M142 1124l-1 1M436 1032l-1 1M298 1256l-2 0M188 953l1 1M214 1154l-1 0M365 1179l1 1M357 956l-1 0M310 940l2 1M388 1074l-2 1M284 1203l1 2M130 1031l-2 0M375 1063l-2 0M201 1228l-0 1M138 1201l1 2M265 1174l0 0M434 1093l-0 1M269 938l-0 0M483 1181l1 1M303 1032l-1 2M255 926l0 1M291 1082l-1 2M269 1172l1 1M371 947l0 2M386 1090l-1 0M480 1114l-1 2M380 1047l-0 0M460 1048l0 0M436 976l-0 0M203 1092l0 0M390 1051l1 2M329 1037l2 0M474 1047l-1 1M466 1027l-2 1M122 997l-1 2M290 1146l1 2M202 935l0 0M237 1145l-1 0M354 1123l-0 2M231 1141l-0 0M210 985l-1 1M231 1218l0 2M401 1248l-2 0M436 1051l-1 2M189 966l-0 1M377 1081l0 1M152 1091l-1 0M342 1202l1 0M391 1257l0 1M478 967l2 0M260 972l1 0M376 1125l1 1M116 1026l0 1M419 1232l0 0M455 1143l-1 1M122 1255l0 0M433 1160l0 1M409 1186l-1 2M305 979l-0 1M421 989l0 0M275 1099l0 1M382 1117l-2 0"/><path stroke="#55308f" stroke-width="4.2" d="M431 992l1 1M431 952l0 1M460 1158l2 1M374 1086l2 1M424 1257l1 1M426 1187l-1 1M288 930l-0 1M338 1022l-0 0M245 1224l1 0M123 1143l2 0M437 1221l-1 1M223 1189l-0 0M159 1177l1 1M259 1194l0 0M378 1172l-1 0M386 1039l1 2M151 1038l0 0M321 1003l-0 0M153 1017l-0 1M134 962l-1 0M347 1117l-2 1M366 1065l1 2M430 1046l-2 1M481 1164l1 1M163 1096l2 0M242 1019l1 0M352 1096l-0 1M350 979l-2 1M327 991l1 1M223 1064l-1 0M174 1119l0 0M333 1021l-1 1M477 1240l-2 1M385 991l0 1M445 948l-0 0M280 956l2 1M396 1122l1 1M152 1226l0 2M206 1099l-1 1M225 1237l-0 1M318 1210l2 0M412 1134l1 2M372 988l0 1M288 1017l-2 2M144 1215l0 0M281 1029l0 1M317 958l-0 0M319 928l-1 2M321 1112l1 0M193 956l0 1M358 999l0 2M138 1092l-0 0M282 972l-0 0M146 1134l1 1M456 1095l-1 0M373 1077l1 1M146 1226l-2 0M182 1029l0 0M284 1254l-0 1M167 1125l-0 0M171 927l-0 1M468 1048l-0 2M356 1074l-0 0M155 1158l0 2M201 986l2 1M144 1175l-2 0M251 1029l-0 2M439 1251l-1 1M385 1223l-1 0M349 1202l-1 2M474 1021l-0 0M399 1073l1 2M466 1257l-1 2M428 1211l-2 1M326 1118l0 2M356 1017l2 2M355 1216l0 0M177 1121l-0 2M211 1074l-2 1M185 1050l-1 0M300 1119l-0 2M485 1169l1 1M191 1185l1 0M186 940l-0 0M338 1031l0 2M220 1039l-1 1M266 1224l-0 1M296 1067l1 1M299 1198l-0 1M201 985l2 2M456 1015l-0 0M324 969l2 0M261 944l-2 1M207 953l1 2M437 1226l0 0M472 1167l2 0M318 1213l0 0M482 1180l-0 2M169 1237l1 0M298 1173l-0 2M210 930l-2 1M210 938l-0 0M484 1191l-2 0M426 1032l0 0M360 1062l-1 2M263 987l-1 0M227 949l0 0M455 1102l0 1M376 1138l1 1M373 1088l-1 1M368 939l-1 1M349 1088l-0 1M208 1080l0 0M355 1161l1 2M394 1084l-1 2M109 1042l-2 1M349 1055l-0 2M349 1143l-0 0M304 953l0 0M429 1092l0 1M146 1223l1 1M373 1090l-1 0M326 1079l-0 0M409 1076l-1 2M477 1005l0 2M105 1058l1 2M321 1200l-0 2M203 952l-0 1M288 979l2 0M422 1159l1 1M357 927l2 1M196 1092l-0 2M191 1129l0 0M402 1151l1 1M231 984l-0 0M320 969l-1 1M357 1010l-2 0M134 1183l1 0M262 1254l-1 1M401 1234l0 1M229 1176l-0 2M246 970l-0 0M375 1119l-0 1M286 998l-0 0M357 1241l-0 0M168 933l-1 2M188 1037l-0 1M188 1100l-0 0M333 1170l-2 1M242 1100l1 2M132 1144l1 2M187 982l-0 1M151 1128l0 0M267 1126l2 0M249 1254l-2 1M357 986l2 1M449 928l1 1M358 975l-1 1M353 1090l-0 2M331 1109l0 2M423 1030l-0 0M432 932l1 2M461 1157l1 0M263 1222l0 0M217 929l1 1M228 956l0 0M337 1256l0 2M304 1205l-1 1M360 1211l0 1M302 1207l-1 2M328 1061l0 2M216 973l-0 0M320 1002l1 1M170 1216l2 1M379 1162l1 1M168 1148l-1 0M462 933l-1 0M420 1179l0 0M208 1046l-0 0M364 963l-0 1M233 1109l-1 0M248 1243l1 1M282 1250l-0 1M160 1089l1 2M255 947l1 2M471 1252l1 0M272 1161l0 1M330 1032l0 0M428 1062l1 0M309 939l1 0M122 1125l-1 0M404 1039l1 1M243 1064l0 0M334 1020l1 1M345 1109l0 2M186 1065l0 0M377 1182l-0 1M224 1042l-0 1M278 1128l0 0M308 1045l1 0M231 938l1 0M437 974l-1 2M180 1245l1 0M234 1149l2 0M303 1242l1 0M365 950l-2 1M473 1224l2 1M384 1125l0 2M371 972l0 0M406 1036l2 1M319 1255l-1 0M185 993l-0 0M295 1010l1 1M386 1214l-0 2M197 1008l-0 1M151 1097l-2 1M160 1210l2 1M270 1151l1 0"/><path stroke="#62399a" stroke-width="3.4" d="M117 1072l1 1M257 942l1 0M190 1119l1 1M353 995l0 1M319 965l-0 1M402 1215l-0 0M153 1242l-0 0M390 1092l-2 1M128 1204l-0 0M412 1014l2 2M371 991l-1 1M292 1052l-2 1M102 1114l-1 1M140 1249l-0 0M129 963l0 1M257 1128l-2 2M483 1176l-0 0M221 1134l-1 0M162 1102l1 2M452 1155l1 1M390 1008l-0 0M347 1131l-0 2M432 1078l-0 0M271 1005l0 0M448 1139l1 1M311 1054l1 1M257 1221l-2 0M140 931l-1 0M363 996l1 1M240 1257l2 1M221 1195l-1 1M189 1013l0 0M214 931l2 1M263 1103l-0 0M218 1183l0 1M191 983l1 1M220 950l0 2M252 956l-0 0M358 1101l-1 0M476 1130l-2 1M338 1056l2 0M230 1198l-2 1M154 1237l-2 1M423 1171l-1 0M216 1035l-1 1M406 986l1 2M332 1011l-0 1M436 1250l-1 1M327 966l-1 1M160 1142l2 1M384 972l0 1M381 1066l-1 0M359 1248l1 2M483 995l-1 2M282 964l1 2M332 1213l-1 0M377 1168l-1 2M417 1245l1 0M248 1107l0 1M176 1244l-0 1M127 1096l1 1M204 974l-2 0M228 955l1 1M292 1255l-2 1M291 1194l-2 1M369 1118l-2 1M112 1011l-2 1M302 1148l0 1M269 1065l2 1M161 1019l-1 0M224 937l1 0M220 1215l-0 0M276 1202l0 0M470 1152l0 1M176 983l1 1M460 1249l-1 0M178 1224l0 0M450 932l-0 0M359 1025l-2 0M269 1190l-1 2M401 1027l2 1M304 1177l-2 1M411 963l1 2M400 1230l-1 1M456 961l1 2M225 1108l-0 0M259 1222l-2 0M423 1005l-2 0M413 1114l1 2M484 992l-0 0M322 1051l-0 1M117 1021l-0 0M422 1152l1 0M421 1253l1 2M293 930l-0 1M483 1168l-0 0M125 1147l-1 0M359 1102l0 1M468 929l1 0M467 971l1 1M356 989l-1 0M382 939l0 1M106 1034l0 0M299 1112l-0 2M411 1188l-1 0M394 968l1 1M267 948l-0 0M172 1070l-1 1M470 1097l-1 0M213 1208l1 1M127 1214l-1 2M153 1149l2 0M128 1157l0 0M162 1059l-1 0M171 959l-1 0M259 1245l1 1M147 941l-1 2M131 1082l0 2M163 1203l1 0M453 1048l0 0M102 1057l-0 1M422 956l0 0M120 1013l-2 1M288 996l0 0M342 1021l-0 1M422 1225l-0 1M363 978l-1 2M322 986l-1 2M339 1086l1 1M439 948l-0 2M447 1248l0 0M434 1223l-0 0M417 1194l2 0M120 1079l1 1M449 1210l-0 2M255 1098l2 1M151 1108l2 0M460 1178l-0 1M371 937l-1 1M473 1241l-1 1M143 1156l1 1M394 1095l1 1M368 996l1 1M409 1256l-1 2M161 1038l-0 1M353 1209l-0 0M182 1215l-0 0M438 1193l-0 1M395 984l0 0M258 1007l1 0M256 926l1 0M209 1066l-1 1M454 1188l2 1M309 1191l-0 0M467 1067l0 0M308 1044l1 1M174 983l-0 0M156 1205l-2 2M321 968l-0 0M231 1104l-2 0M483 1164l1 0M477 1142l1 1M123 1135l-1 0M344 1032l1 2M454 1032l-1 2M427 1002l1 1M326 1165l-0 0M213 1118l2 1M102 1157l0 1M287 1004l1 0M445 1100l-2 1M304 1092l-2 2M385 1045l1 2M166 1021l1 1M132 1230l1 1M429 1110l-1 2M452 944l1 2M109 1146l-1 1M115 1070l-0 0M156 982l-0 0M398 1110l0 0M366 1114l-1 1M340 1011l-1 0M267 1055l-0 0M367 1258l0 1M434 1047l0 1M312 1235l-0 2M192 1069l1 1M165 1177l-1 2M363 1103l-0 0M376 999l0 2M173 962l0 0M371 1147l-1 0M171 1104l1 1M240 997l-0 2M349 1004l-0 0M337 1051l-1 1M170 1072l-0 0M150 1115l-0 0M206 1216l-2 1M102 1054l2 1M183 927l2 1M371 1131l0 0M349 1009l0 0M213 1096l-1 2M343 1107l1 1M327 1114l-1 0M291 1224l-1 1M472 1097l-1 2M273 1234l0 1M295 958l-1 0M402 1000l0 1M191 1218l-0 0M133 972l0 0M477 1226l-0 1M424 1191l1 1M368 1084l1 1M445 973l0 2M352 1169l0 0M107 1029l-1 2M189 1049l-0 0M450 1211l-0 1M215 1146l-2 1M369 1179l-2 1M439 942l-1 0M450 938l0 1M244 1040l1 1M158 963l2 0M186 1100l-0 1M226 1224l1 1M305 1078l-1 0"/><path stroke="#e5404f" stroke-width="4.2" d="M257 1141l0 1M120 1026l-2 1M126 1242l0 0M153 1218l-0 0M228 1205l1 1M164 1042l0 1M126 1126l-1 0M174 1018l-1 1M187 1210l1 1M387 1112l-0 0M464 1172l-1 1M204 1250l0 0M422 977l0 2M198 1052l0 2M114 1144l1 0M226 1208l1 2M353 1052l-0 0M374 1016l2 0M241 1209l-1 1M242 937l-0 0M392 1140l1 0M343 1102l0 1M203 982l-1 1M245 938l-1 0M223 967l-0 1M403 1151l-1 1M157 999l1 0M180 937l-1 0M358 1021l-0 1M373 1116l-1 0M435 1254l-0 0M273 1206l2 0M183 1238l1 0M363 1153l0 0M309 970l2 2M365 971l-1 2M230 1058l0 0M232 1199l2 1M224 993l1 1M373 1174l0 1M159 1034l0 0M157 1209l-2 1M273 1112l2 0M438 1209l2 1M227 1164l-0 0M232 1061l1 0M267 968l0 0M442 1028l-0 2M175 1116l-0 0M481 1258l-2 1M148 1189l2 2M370 1173l0 0M290 1214l-2 1M324 1181l0 0M421 977l0 0M301 929l-2 0M217 1162l2 0M269 1046l-2 1M423 1176l2 2M154 1052l-0 0M449 1137l-1 1M430 937l2 1M473 1009l-1 2M241 984l1 2M329 1249l1 1M223 1232l0 0M411 975l1 0M201 1165l-1 2M288 955l2 1M438 937l-0 1M458 1243l0 1M364 1081l-1 0M231 1094l-1 0M413 1133l-0 0M484 1144l-1 1M194 1155l-1 1M253 1254l0 1M299 1174l0 1M104 1060l-0 0M245 972l0 2M182 930l1 1M437 1200l2 2M344 983l1 2M397 963l-0 2M283 948l-0 0M464 971l0 2M133 1172l-1 1M233 1147l-0 1M324 1036l2 0M430 990l-0 1M108 971l1 0M432 1147l-1 2M413 1240l1 0M123 1117l0 1"/><path stroke="#4a2882" stroke-width="4.2" d="M323 1233l0 0M291 1207l-0 0M478 987l1 0M269 992l-1 1M178 993l2 1M444 1207l-0 0M472 1040l0 0M215 948l-0 0M137 1140l1 1M244 1146l-0 0M141 1004l-0 1M198 1064l-1 0M296 1257l1 1M398 934l-1 1M362 1227l-2 2M240 1231l2 1M273 929l-1 0M172 1215l-2 1M350 1218l1 1M483 1193l1 1M377 1212l-1 1M454 1013l-0 0M336 954l2 0M394 974l2 0M247 979l-2 1M252 1157l-2 1M436 1228l-2 0M112 1141l2 1M302 1005l1 0M190 1084l1 1M259 1161l1 1M435 1065l-2 1M393 1243l-2 1M190 1068l1 0M296 1220l0 2M275 1036l-1 1M460 1248l-0 1M146 1094l0 2M373 1046l2 1M409 934l-1 2M110 1190l0 0M246 1138l0 1M187 994l-1 2M104 1215l-0 2M231 1240l1 1M250 1009l-2 0M323 1251l2 1M157 1178l-1 2M207 1048l-1 2M185 1227l-2 2M223 1221l-1 0M242 1245l-1 0M181 966l1 2M482 934l-0 0M459 960l-1 2M266 1003l2 1M465 1113l0 1M377 1170l0 0M445 939l-2 1M480 1056l-1 1M429 1228l-0 1M229 1130l1 0M467 1048l1 0M425 1082l-0 1M247 1070l1 2M260 1009l2 0M207 1090l0 0M239 1155l-1 1M365 939l0 1M298 988l0 2M403 956l1 0M167 1249l0 0M400 1120l0 1M469 1091l0 0M344 1118l-1 0M466 1007l2 1M409 1094l-2 1M293 1181l0 0M180 1136l-1 1M350 1124l0 2M370 1004l0 1M245 1026l-1 0M179 1040l-0 0M456 1071l1 0M381 994l2 1M262 1069l1 1M379 1073l-2 0M196 1237l0 2M477 1014l-1 1M437 1166l1 2M428 1252l1 2M455 1008l1 2M312 1034l-2 1M443 1141l1 0M163 1059l-0 1M363 1044l1 0M266 938l-0 1M102 1204l-1 1M147 950l1 1M272 951l-0 1M148 1040l-1 2M373 1052l-2 2M123 1109l-0 0M400 926l-2 1M106 1136l0 0M166 1013l0 0M308 1085l-1 1M346 1206l-0 0M295 1028l-1 1M308 988l-1 1M166 1040l1 0M319 1071l2 1M102 969l0 0M284 1011l-0 0M451 1140l0 0M351 1182l-0 0M242 1070l-1 2M435 1012l0 2M325 959l1 2M176 1133l1 1M259 1150l0 0M315 1243l2 1M141 957l-0 0M421 1206l0 0M314 1179l-0 1M242 1234l-0 2M285 1172l-0 1M125 1219l-2 1M437 940l2 0M338 1162l1 0M225 1146l-1 1M386 975l-0 0M398 1256l-1 2M243 1075l2 1M469 1151l-2 1M120 1103l-1 0M394 1199l2 1M400 1096l-0 2M373 945l-0 2M369 1233l1 2M149 1170l1 0M168 1216l-0 2M132 1099l-0 0M201 1170l-0 1M257 1088l1 1M330 1174l-0 0M390 1082l0 0M334 1173l1 0M201 1217l-0 1M415 1022l1 0M251 1188l0 1M263 1029l-2 1M284 1120l-1 1M112 1206l-0 2M394 1157l1 1M102 1207l2 1M179 972l-0 0M392 973l-1 1M265 1253l-2 1M207 1087l1 2M443 1166l-2 2M130 1144l1 1M175 1179l1 1M431 1121l-2 1M318 939l-0 0M123 992l1 1M380 1143l-0 0M164 1125l2 1M164 956l-2 1M267 1223l-0 1M219 1234l-1 0M160 1093l2 1M247 1171l0 0M265 1030l-0 1M440 1179l-2 1M224 961l-0 1M353 982l2 0M421 1232l-0 0M336 1152l-0 0M403 1140l1 2M211 932l-1 1M139 1160l1 0M170 1065l1 0M459 1014l-2 0M138 1109l0 1M354 1142l-0 0M455 1005l1 0M153 1054l-0 0M222 1157l1 0M203 1221l1 0M395 1087l0 0M166 938l0 0M270 1098l0 1M389 1035l-1 1M278 1192l-2 1M197 1058l0 2M213 981l-0 1M160 1242l-1 0M153 1023l-0 1M248 1012l-0 0M235 1021l2 0M388 1033l-0 1M246 998l-1 2M355 979l2 0M352 1027l1 1M365 1063l-1 2M394 1063l1 0M104 1102l1 0M452 1109l-1 2M202 1162l2 0M304 1105l-1 1M273 1222l-1 0M232 1234l-2 0M344 1109l-2 0M190 1068l-2 1M312 1183l-2 2M236 1145l1 1M385 938l-2 0M102 1042l1 1M307 1195l0 0M331 1207l0 1M177 1123l-0 0M438 1013l-1 2M225 1009l1 1M477 953l-2 1"/><path stroke="#e5404f" stroke-width="3.4" d="M460 1139l-0 0M214 995l-0 0M311 996l1 0M138 997l1 2M403 936l-0 0M164 1191l-0 0M409 1175l-0 1M251 928l0 0M162 1117l1 2M402 1151l-0 0M180 1205l0 0M406 1084l-0 2M315 1079l0 0M428 1110l-0 1M407 1229l2 0M210 1250l0 1M468 1011l2 0M344 1160l-1 0M481 1193l1 2M455 969l-0 0M360 1177l-1 2M252 1239l-0 2M458 1083l-1 0M158 962l-0 0M116 1250l-0 1M226 1034l0 1M378 1043l0 1M436 1026l-0 1M341 967l-1 0M269 1093l-0 0M177 938l1 1M234 960l2 1M218 1009l-0 0M194 1111l0 0M242 1191l-1 2M142 1131l-0 1M201 1169l-1 1M291 1217l1 0M375 1195l-0 0M479 1051l-1 1M442 1034l1 1M472 1000l1 0M204 1039l0 0M156 1096l-1 0M313 1059l-0 1M420 1078l0 1M104 1004l-1 0M308 1087l2 0M250 1167l0 1M452 1054l-2 1M109 1207l-1 0M404 1085l2 1M105 956l1 1M179 1165l0 2M355 972l-1 0M263 1105l-0 2M443 1044l-1 0M160 1185l-0 0M485 1229l-1 0M449 1187l1 1M352 978l-1 0M459 943l-0 0M190 1205l0 2M393 1233l-1 0M271 962l-0 0M201 1000l-0 0M472 1014l-2 2M422 1008l-1 0M408 1191l-1 0M378 1094l0 1M379 1044l-0 0M468 999l0 1M202 997l0 1M397 1001l0 0M280 1011l0 0M292 956l0 0M261 1147l-1 2M444 993l-1 0M139 1149l2 0M447 1157l1 1M106 1045l-1 1M262 964l1 1M411 1226l2 1M257 983l-0 1M420 969l1 1M192 1136l-0 1M130 1110l0 0M325 930l1 1M391 958l1 2M334 951l-1 1M339 1057l-1 0M233 1086l-2 0M338 972l-1 1M333 1067l1 1M475 1174l-0 2M145 961l1 2M415 1143l1 0M208 1101l0 0M331 1028l2 1M136 1012l-1 0M338 1063l0 1M118 1198l-1 2M448 1016l0 2M290 1250l1 1M483 997l-0 0M401 1235l-0 0M419 1155l2 0M463 1076l-2 1M295 1175l0 0M270 1075l1 1M451 1007l1 1"/></g>
<g clip-path="url(#c2)"><path d="M107.9 1037C105.9 1062 98 1162.5 98 1192.5C98 1204.9 108.1 1215 120.5 1215C132.9 1215 143 1204.9 143 1192.5C143 1162.5 135.1 1062 133.1 1037C130.1 1029 110.9 1029 107.9 1037Z" fill="#7f46a3" stroke="#e08fbf" stroke-width="1.6"/><path d="M147.6 1102C145.6 1127 139 1168.5 139 1198.5C139 1209.3 147.7 1218 158.5 1218C169.3 1218 178 1209.3 178 1198.5C178 1168.5 171.4 1127 169.4 1102C166.4 1094 150.6 1094 147.6 1102Z" fill="#7f46a3" stroke="#e08fbf" stroke-width="1.6"/><path d="M183 1044C181 1069 172 1156 172 1186C172 1199.8 183.2 1211 197 1211C210.8 1211 222 1199.8 222 1186C222 1156 213 1069 211 1044C208 1036 186 1036 183 1044Z" fill="#7f46a3" stroke="#e08fbf" stroke-width="1.6"/><path d="M216.1 1102C214.1 1127 208 1169.5 208 1199.5C208 1209.7 216.3 1218 226.5 1218C236.7 1218 245 1209.7 245 1199.5C245 1169.5 238.9 1127 236.9 1102C233.9 1094 219.1 1094 216.1 1102Z" fill="#7f46a3" stroke="#e08fbf" stroke-width="1.6"/><path d="M261.9 1021C259.9 1046 252 1176.5 252 1206.5C252 1218.9 262.1 1229 274.5 1229C286.9 1229 297 1218.9 297 1206.5C297 1176.5 289.1 1046 287.1 1021C284.1 1013 264.9 1013 261.9 1021Z" fill="#7f46a3" stroke="#e08fbf" stroke-width="1.6"/><path d="M290.7 1092C288.7 1117 283 1166.5 283 1196.5C283 1206.2 290.8 1214 300.5 1214C310.2 1214 318 1206.2 318 1196.5C318 1166.5 312.3 1117 310.3 1092C307.3 1084 293.7 1084 290.7 1092Z" fill="#7f46a3" stroke="#e08fbf" stroke-width="1.6"/><path d="M342.3 1069C340.3 1094 332 1193.5 332 1223.5C332 1236.5 342.5 1247 355.5 1247C368.5 1247 379 1236.5 379 1223.5C379 1193.5 370.7 1094 368.7 1069C365.7 1061 345.3 1061 342.3 1069Z" fill="#7f46a3" stroke="#e08fbf" stroke-width="1.6"/><path d="M381.4 1138C379.4 1163 373 1194 373 1224C373 1234.5 381.5 1243 392 1243C402.5 1243 411 1234.5 411 1224C411 1194 404.6 1163 402.6 1138C399.6 1130 384.4 1130 381.4 1138Z" fill="#7f46a3" stroke="#e08fbf" stroke-width="1.6"/><path d="M414.8 1046C412.8 1071 406 1202 406 1232C406 1243 415 1252 426 1252C437 1252 446 1243 446 1232C446 1202 439.2 1071 437.2 1046C434.2 1038 417.8 1038 414.8 1046Z" fill="#7f46a3" stroke="#e08fbf" stroke-width="1.6"/><path d="M444.6 1092C442.6 1117 440 1206.5 440 1236.5C440 1242.3 444.7 1247 450.5 1247C456.3 1247 461 1242.3 461 1236.5C461 1206.5 458.4 1117 456.4 1092C453.4 1084 447.6 1084 444.6 1092Z" fill="#7f46a3" stroke="#e08fbf" stroke-width="1.6"/><path d="M456.8 1092C454.8 1117 452 1195 452 1225C452 1231.1 456.9 1236 463 1236C469.1 1236 474 1231.1 474 1225C474 1195 471.2 1117 469.2 1092C466.2 1084 459.8 1084 456.8 1092Z" fill="#7f46a3" stroke="#e08fbf" stroke-width="1.6"/><path d="M472.1 1092C470.1 1117 467 1198.5 467 1228.5C467 1234.9 472.1 1240 478.5 1240C484.9 1240 490 1234.9 490 1228.5C490 1198.5 486.9 1117 484.9 1092C481.9 1084 475.1 1084 472.1 1092Z" fill="#7f46a3" stroke="#e08fbf" stroke-width="1.6"/><path d="M107.9 930C105.9 955 96 980 96 1010C96 1024.9 108.1 1037 123 1037C137.9 1037 150 1024.9 150 1010C150 980 140.1 955 138.1 930C135.1 922 110.9 922 107.9 930Z" fill="#ae73bb" stroke="#e397c3" stroke-width="1.8"/><path d="M132.5 963C130.5 988 123 1008.5 123 1038.5C123 1050.4 132.6 1060 144.5 1060C156.4 1060 166 1050.4 166 1038.5C166 1008.5 158.5 988 156.5 963C153.5 955 135.5 955 132.5 963Z" fill="#ae73bb" stroke="#e397c3" stroke-width="1.8"/><path d="M170.1 963C168.1 988 162 1021.5 162 1051.5C162 1061.7 170.3 1070 180.5 1070C190.7 1070 199 1061.7 199 1051.5C199 1021.5 192.9 988 190.9 963C187.9 955 173.1 955 170.1 963Z" fill="#ae73bb" stroke="#e397c3" stroke-width="1.8"/><path d="M233.6 1021C231.6 1046 225 1121.5 225 1151.5C225 1162.3 233.7 1171 244.5 1171C255.3 1171 264 1162.3 264 1151.5C264 1121.5 257.4 1046 255.4 1021C252.4 1013 236.6 1013 233.6 1021Z" fill="#ae73bb" stroke="#e397c3" stroke-width="1.8"/><path d="M246.3 938C244.3 963 232 970.5 232 1000.5C232 1018.4 246.6 1033 264.5 1033C282.4 1033 297 1018.4 297 1000.5C297 970.5 284.7 963 282.7 938C279.7 930 249.3 930 246.3 938Z" fill="#ae73bb" stroke="#e397c3" stroke-width="1.8"/><path d="M315 948C313 973 308 1069 308 1099C308 1107.8 315.2 1115 324 1115C332.8 1115 340 1107.8 340 1099C340 1069 335 973 333 948C330 940 318 940 315 948Z" fill="#ae73bb" stroke="#e397c3" stroke-width="1.8"/><path d="M339.1 946C337.1 971 334 1027.5 334 1057.5C334 1063.9 339.1 1069 345.5 1069C351.9 1069 357 1063.9 357 1057.5C357 1027.5 353.9 971 351.9 946C348.9 938 342.1 938 339.1 946Z" fill="#ae73bb" stroke="#e397c3" stroke-width="1.8"/><path d="M378.9 944C376.9 969 371 1012 371 1042C371 1051.9 379.1 1060 389 1060C398.9 1060 407 1051.9 407 1042C407 1012 401.1 969 399.1 944C396.1 936 381.9 936 378.9 944Z" fill="#ae73bb" stroke="#e397c3" stroke-width="1.8"/><path d="M409.2 951C407.2 976 403 1025 403 1055C403 1062.7 409.3 1069 417 1069C424.7 1069 431 1062.7 431 1055C431 1025 426.8 976 424.8 951C421.8 943 412.2 943 409.2 951Z" fill="#ae73bb" stroke="#e397c3" stroke-width="1.8"/><path d="M467.4 962C465.4 987 461 1024.5 461 1054.5C461 1062.5 467.5 1069 475.5 1069C483.5 1069 490 1062.5 490 1054.5C490 1024.5 485.6 987 483.6 962C480.6 954 470.4 954 467.4 962Z" fill="#ae73bb" stroke="#e397c3" stroke-width="1.8"/></g>
<g clip-path="url(#c3)" fill="none" stroke-linecap="round"><path stroke="#55308f" stroke-width="2.6" d="M363 1008l-1 1M239 1183l0 0M374 1232l-1 1M192 1224l1 1M284 1068l0 1M200 1227l0 1M119 936l-1 2M196 1148l1 1M236 1198l-1 1M210 955l2 1M466 983l1 1M477 1187l0 2M333 1217l0 0M135 1216l-0 1M198 1194l-0 1M225 936l0 1M254 1203l-0 1M261 1013l0 1M483 1154l-1 0M199 1230l-1 2M151 1217l-2 1M310 1054l-1 2M429 949l-0 0M381 1105l1 2M371 1100l1 0M407 1114l-2 0M118 1247l0 1M384 1107l1 0M388 1164l-1 2M159 1205l1 2M374 950l-2 0M263 1193l0 0M286 1142l1 1M107 962l-2 1M224 1030l-1 0M184 1158l2 2M101 1090l2 0M159 930l0 0M294 1048l1 0M480 1094l2 1M122 1003l0 0M284 934l-2 0M472 1189l1 0M268 1104l0 1M154 1077l-0 0M186 1081l0 1M424 1246l0 0M397 1001l-1 2M389 1190l-1 2M267 1230l0 0M147 1216l0 0M321 1152l1 1M248 966l-0 0M467 1118l1 0M127 1157l2 2M347 1112l1 2M458 1208l-0 0M463 1212l-0 1M217 996l0 0M380 928l-0 0M405 925l-2 1M139 1064l0 2M434 995l1 1M367 1072l-1 0M272 1028l0 0M255 1046l1 1M443 1200l0 1M475 1230l-0 0M244 1105l-1 2M136 1170l2 1M291 1040l-1 1M466 1099l-1 1M295 1041l-0 0M254 1190l-0 1M172 1015l-2 0M139 1135l-0 1M213 926l-1 1M306 971l1 1M186 996l1 1M393 942l0 2M187 1075l-0 1M261 1166l-0 0M402 992l1 1M206 1032l0 2M321 1147l-1 1M441 1185l-1 1M195 1044l1 1M109 1105l-1 1M412 1222l1 0M183 1173l1 0M117 1063l1 2M370 1192l-1 1M127 1011l0 0M225 1158l-1 1M288 1163l1 2M127 1207l-2 1M359 1047l-0 0M147 1153l2 0M381 1050l-1 2M455 1057l0 0M172 1223l0 1M464 1110l0 0M456 983l1 1M275 1107l0 0M203 1108l1 2M418 940l1 0M105 978l1 2M156 1193l-0 0M280 931l-0 0M397 1115l-2 2M471 1250l2 1M380 1014l-1 1M369 1119l-0 1M198 1004l0 1M267 1216l-2 2M399 1051l1 0M426 1254l-1 1M127 1169l1 1M114 1104l2 1M140 1070l0 0M288 1101l-1 1M329 1238l-1 2M390 1044l2 1M402 1164l0 0M335 1038l1 1M284 1234l-0 0M144 1218l-1 1M299 1145l-0 0M221 1053l-0 0M230 1096l1 1M323 1045l-2 1M361 1001l1 1M284 1255l-0 0M477 1118l0 1M477 1071l0 0M149 1027l2 0M242 977l2 1M257 1050l-1 1M376 1193l-2 0M260 1010l0 0M228 1108l0 1M214 933l0 1M170 976l-0 1M379 1223l0 0M249 1168l-2 0M445 1098l-0 0M181 996l2 2M147 1094l-2 2"/><path stroke="#4a2882" stroke-width="3.4" d="M447 950l-2 1M392 1170l-0 1M385 1183l1 0M367 1047l0 0M412 1217l-2 1M448 1154l1 1M128 1072l-0 0M230 1237l1 1M214 1117l0 2M220 958l-1 1M147 1045l-2 0M265 1116l1 1M181 978l-0 0M373 930l-2 1M402 1018l-0 0M439 1222l-0 1M161 1136l-0 1M229 1255l0 1M185 1221l-0 0M302 968l-0 0M296 1238l0 2M394 1248l-0 0M120 1122l-0 1M312 1251l-1 1M343 1086l-0 2M464 1244l0 1M286 1034l-1 0M186 1153l0 0M483 944l-2 1M394 1089l-0 0M263 984l-0 0M225 1117l-0 1M242 1217l-1 1M419 1087l-0 0M463 1245l-0 1M458 1213l-0 0M254 1057l2 0M214 1210l-0 1M176 987l-0 0M339 1154l0 0M383 1035l-0 1M476 1079l2 1M357 1024l0 1M427 1073l-2 0M339 1175l-0 0M176 980l1 1M103 999l-2 0M173 1109l0 1M366 1050l0 2M223 942l-0 1M325 933l-2 0M358 1023l-1 1M118 967l-0 1M265 1014l-1 2M189 1158l1 1M478 1074l0 1M356 1096l-0 0M478 1172l-0 0M330 1243l-1 2M173 1256l1 0M474 1166l-0 0M309 1132l-0 0M112 1081l1 0M141 1018l2 1M348 1042l-0 1M301 1072l2 1M219 1230l2 0M279 1132l-0 1M255 1114l1 0M105 1221l-0 1M307 1076l0 0M352 1124l-0 1M267 1065l-1 0M447 1035l-2 0M135 1120l0 1M226 1075l0 0M276 929l1 1M247 1255l0 0M368 1219l0 2M364 1152l1 1M435 1105l0 1M322 1017l-1 1M135 1007l-0 1M196 1052l1 0M425 1007l2 0M320 1191l-1 0M102 977l-1 1M427 1019l-1 1M349 1235l0 0M179 950l1 0M441 1061l-1 1M149 991l-1 2M303 958l-0 0M141 1238l2 2M483 1227l1 2M456 1209l1 2M343 1113l-1 1M282 1155l2 0M427 952l-1 1M354 1247l-1 0M300 1148l0 1M485 1102l-1 2M360 1157l-1 0M393 1007l1 1M299 1016l-0 1M393 1182l1 2M340 1132l0 0M459 1003l-0 1M456 936l0 1M401 1051l0 2M359 975l-0 1M192 1099l0 1M182 1067l-0 2M202 1109l-0 0M386 942l1 1M360 1090l-1 0M253 1135l2 1M227 1095l1 0M481 1161l-0 0M258 1127l2 1M305 1062l-1 1M440 1234l-0 1M140 994l1 1M404 1165l-0 1M287 1051l-1 0M439 1032l-1 2M471 1238l-1 2M248 1207l-0 1M160 999l-2 0M239 1105l2 0M164 970l0 1M259 1244l-1 0M388 946l1 1M258 1200l1 1M371 1211l1 0M423 1221l-0 1M127 1089l-2 1M295 1210l-1 0M381 1053l-0 0M126 1219l1 0M401 1056l1 0M394 1071l-1 1M154 941l-0 0M155 1135l1 1M464 1051l0 0M322 997l-1 2M229 1094l0 1M231 1181l-0 0M211 1239l-0 0M102 948l-0 0M458 1166l0 0M182 1059l-1 1M435 1056l1 0M456 1131l-2 0M441 990l0 0"/><path stroke="#4a2882" stroke-width="2.6" d="M205 1075l0 0M120 1051l-2 0M283 995l1 0M472 1199l-2 1M206 1104l-2 1M245 973l-0 1M311 1206l0 0M374 1095l0 0M151 1151l1 2M431 1245l-0 0M249 1169l0 1M256 1205l-1 0M407 980l0 0M468 998l-2 1M336 997l2 1M108 1204l1 1M245 987l1 1M272 1034l1 1M349 1058l0 1M305 938l-1 1M481 955l-0 1M461 1186l2 0M316 1103l1 0M111 1032l1 1M215 1123l-1 0M190 959l-1 0M170 977l0 0M474 1104l-0 0M366 959l-0 0M374 1236l2 0M130 968l-1 1M398 1065l0 0M395 1155l2 1M188 1071l-1 2M395 1118l1 1M311 1181l1 2M266 1248l-1 0M355 1118l1 0M287 940l-2 0M250 1003l0 1M244 988l0 2M350 943l0 1M330 1017l-1 0M362 1226l-1 1M156 976l1 1M184 1074l-2 1M393 997l1 0M258 935l2 0M469 1020l-1 1M244 1207l0 0M187 1041l-1 1M255 1170l-2 0M314 1001l-0 0M228 1254l0 0M164 1243l1 1M448 928l2 2M175 1052l1 0M399 1137l-1 0M301 1054l1 1M468 1166l-1 1M374 1031l1 2M305 1137l-0 0M458 1214l-0 1M118 1089l1 2M405 935l1 1M177 967l1 0M241 1076l-2 1M388 999l0 1M420 1085l0 2M312 1161l-0 0M201 1058l-0 0M212 1015l-1 2M248 1151l1 0M352 1225l2 0M479 957l1 0M433 1136l0 2M406 1166l-1 1M168 1048l-0 0M265 1032l-1 1M304 1041l0 2M384 1173l0 0M420 1228l-0 1M190 1160l2 1M185 1053l-2 1M204 1010l-0 1M399 1090l1 1M166 986l0 0M116 954l-1 2M274 1208l-1 0M454 1216l1 1M468 1076l-1 0M200 1088l-0 1M133 1217l1 0M458 1045l1 0M273 1121l2 0M286 1038l-1 0M219 1185l0 2M258 943l-0 0M294 1107l2 0M224 1198l-2 1M192 977l-0 2M266 936l1 2M207 1238l-0 0M267 1126l1 0M173 1092l1 0M248 1145l1 1M257 1193l0 0M378 1244l-2 0M187 1178l-2 0M287 1232l0 1M298 1013l-1 0M223 936l0 1M413 1157l0 0M259 1229l-1 0M434 1202l-2 0M384 1001l2 1M238 1202l-1 2M307 1074l-1 0M316 1228l-1 0M134 1252l1 0M206 1073l-2 0M242 957l-0 2M271 1100l-0 1M252 1023l1 2M339 1194l-0 0M188 1199l-1 1M357 990l1 1M384 1173l-2 1M141 939l-0 2M396 1212l-1 2M335 1144l-1 1M322 1185l-1 1M104 1094l0 1M443 953l0 2M419 1211l1 0M305 1020l0 0M472 1137l-1 0M236 1198l1 1M275 1141l1 2M162 992l-1 1M263 1109l1 2M436 964l-0 0M239 1138l-1 0M397 1067l0 0M108 1005l-0 0M284 1225l2 1M166 990l-1 2M387 985l0 0M251 1179l2 0M256 934l-1 1M165 1040l-1 1M309 1067l-2 0"/><path stroke="#62399a" stroke-width="2.6" d="M477 1031l-1 2M233 985l0 1M108 1231l2 2M239 1002l-1 1M247 1161l-1 0M103 1075l1 2M253 1152l-2 0M218 933l-2 2M235 1122l-0 0M223 930l1 1M366 1202l0 2M463 1076l-1 2M196 1236l0 1M460 1115l1 0M475 1114l-2 0M280 1013l1 1M185 1173l-1 1M224 1254l0 0M332 1061l-0 0M131 1025l-0 0M370 1013l2 0M450 1066l0 1M384 1035l-0 1M125 1128l-1 1M188 1255l0 1M411 1161l1 1M103 1091l-0 1M381 1077l0 2M219 1212l0 0M383 936l1 2M389 996l0 0M462 1059l0 0M242 1195l-1 1M227 1009l1 1M465 1254l-0 1M134 979l-0 1M289 953l-0 2M432 943l2 1M348 1132l-1 1M467 983l0 0M108 1177l-1 1M229 1169l-0 0M320 1228l0 0M283 1066l-1 0M298 1067l1 0M378 1218l2 0M198 1129l-1 0M378 929l-1 0M402 1075l-1 1M342 1176l0 0M165 1062l-0 0M270 1236l1 0M395 1108l-1 2M437 1142l0 2M112 1158l0 2M369 1163l0 2M297 963l0 0M403 1124l-1 1M303 1091l-2 0M276 986l-1 0M223 930l-0 0M246 1223l1 1M186 1246l2 0M170 1122l-2 0M116 1027l1 2M457 1091l-0 0M117 973l-0 0M464 1221l-0 1M464 1109l0 1M324 988l-0 1M298 991l-0 0M459 942l-0 0M457 973l0 0M105 946l0 0M397 994l0 2M210 1187l-0 0M160 1086l1 1M170 1142l-0 0M262 1050l-0 1M127 1177l-1 1M373 1096l-1 1M305 1188l-0 2M192 1135l-1 1M282 1188l0 0M399 1113l1 1M190 1046l-2 0M383 1117l2 2M457 1238l-0 0M257 1032l-0 1M293 1115l-0 0M391 1090l0 2M191 1194l-1 1M408 1068l1 0M286 974l1 1M123 976l0 0M440 1143l-0 1M335 984l0 1M111 956l-1 0M304 1063l-2 0M459 959l1 2M234 966l-0 1M404 1154l-1 1M263 1040l1 1M241 1220l1 1M205 1223l2 1M182 1086l1 2M180 1104l-0 0M121 1196l-0 0M300 1223l-0 0M442 1140l-1 0M157 1222l1 1M373 1015l-1 1M195 1175l1 0M277 1188l0 1M323 990l1 1M435 1162l0 2M301 934l-1 0M206 1021l1 1M403 1205l-1 1M233 1103l1 0M153 1209l0 1M115 1227l0 0M463 1207l1 2M307 927l-1 1M201 1233l-1 1M180 1063l-1 2M427 1169l0 2M113 929l-0 1M270 1166l2 1M191 1168l-0 2M197 1003l-1 1M447 1248l-1 2M359 1154l-0 0M315 1177l1 1M371 1211l-1 1M409 1101l-2 1M295 1047l-1 2M177 1213l0 1M215 1031l0 0M350 1077l-1 1M123 1166l0 2M371 1067l-1 1M152 966l1 1M164 1111l-0 2M442 1152l-1 1M245 998l-1 0M193 1208l-1 1M378 1090l0 0M212 1154l-0 1M294 1180l-0 1M277 1063l-1 2M214 1029l-0 1M192 1233l-2 2M261 940l-0 1M143 1024l1 0"/><path stroke="#55308f" stroke-width="3.4" d="M249 942l0 0M483 980l0 2M443 1081l0 0M474 1016l-0 0M176 1093l-2 1M482 1169l2 0M257 1227l-1 0M393 972l0 1M387 994l1 2M209 1077l-1 2M442 927l-0 0M223 1099l-1 0M179 1136l-1 2M201 1111l1 1M367 937l0 0M355 1057l1 1M177 1249l-0 0M293 1010l1 1M296 1226l1 1M187 1008l-2 2M238 961l-0 0M284 944l1 1M396 1133l1 0M106 1213l-0 0M203 1078l0 2M138 948l-0 0M473 1095l1 2M158 1087l0 0M346 1254l0 1M218 1011l0 0M373 943l2 1M396 1095l1 1M216 1026l1 1M141 1081l2 0M239 1181l0 1M422 1146l-1 1M261 936l0 0M224 934l2 1M171 1238l1 1M376 1221l1 2M479 1002l1 1M374 944l1 1M136 1135l-0 1M183 930l-1 2M222 1163l-2 1M289 959l0 2M402 1233l1 2M336 1200l-0 0M188 953l0 0M283 954l1 2M357 1010l1 2M381 1119l-1 0M455 1045l1 1M242 1193l1 0M129 1149l-1 1M450 1237l0 0M135 1157l1 1M200 1082l0 2M264 1035l1 2M484 1037l1 0M273 1066l-0 0M394 1253l-1 0M197 1028l-0 2M428 1243l-0 1M478 949l2 2M125 967l0 0M223 1241l0 0M308 1219l-0 0M279 1182l1 2M124 987l0 0M349 1135l-0 0M310 1101l-0 0M169 1138l1 1M355 1026l-0 0M281 1208l1 2M440 1238l0 0M145 1200l-0 0M416 1017l1 1M347 1206l-0 0M228 989l-0 0M212 954l0 0M220 1195l-1 0M483 978l-1 1M320 1029l-1 0M331 1162l-2 1M458 1012l0 0M432 960l2 1M380 996l1 1M243 1219l-1 2M378 1081l1 1M271 987l1 2M184 1186l1 1M428 1133l2 0M214 1111l-1 0M461 1019l0 1M286 1052l-0 1M466 1077l-0 0M236 1126l0 1M147 1236l-1 1M359 1011l0 0M405 1249l-1 1M286 1109l1 0M468 1078l-1 0M228 1033l1 2M265 940l-0 0M300 1106l-1 1M121 1059l0 1M354 1177l2 1M395 1109l-1 1M222 1148l-1 0M209 1190l-0 1M341 1172l0 0M293 1228l0 0M423 1110l-1 1M143 1030l0 1M424 1107l-0 2M396 1204l-0 0M476 1185l-0 0M235 1215l-2 1M109 1223l-0 1M452 1256l-2 1M155 978l-2 1M278 1250l-1 1M189 1031l2 0M292 1040l2 1M237 1088l-1 1M455 1135l1 0M233 1220l1 0M286 1240l-0 0M415 1216l0 1M339 1245l-2 1M430 949l0 1M249 1046l-1 1M332 998l-1 1M360 1204l2 0M298 957l-1 1M101 1233l-1 0M321 1155l0 0M267 1088l-1 2M124 1196l1 1M473 1154l-1 0M316 988l0 2"/><path stroke="#62399a" stroke-width="3.4" d="M441 1003l1 0M262 1233l1 0M270 1153l-0 1M156 930l1 1M166 1016l0 1M393 930l-1 2M406 1017l0 2M173 1005l1 1M291 1111l-1 1M374 1054l-1 1M443 1178l1 1M145 1125l2 1M220 961l-1 0M127 1224l-1 0M471 1018l-0 0M483 1137l0 0M445 1110l-1 2M263 951l0 2M372 1048l2 1M438 990l-1 1M462 1112l-1 0M330 957l1 1M411 1249l0 0M164 952l0 0M472 1036l1 0M184 1216l-2 1M484 1010l1 1M315 1146l1 2M417 1160l-2 2M295 1047l-0 0M290 980l1 0M209 1205l0 0M104 1116l-2 0M444 933l-0 2M178 948l-1 1M162 1026l0 0M333 1108l1 1M357 1214l-0 1M371 1058l1 0M288 1167l0 0M286 1218l0 0M266 955l1 0M428 930l-0 0M406 959l1 1M329 1017l0 0M374 1082l1 0M370 1067l1 0M329 929l2 1M264 994l-1 1M304 1202l-1 0M380 940l1 2M256 1130l0 0M409 1025l-0 1M315 1027l1 1M226 1005l-0 1M208 965l-1 0M256 1012l-1 1M113 1156l-0 0M324 1060l-0 0M256 1049l1 0M160 1058l0 0M105 942l0 0M116 999l-1 2M156 1128l0 0M302 1219l-0 0M467 1076l0 1M104 1234l0 0M279 1162l1 2M114 1248l-0 0M152 954l-0 0M273 1177l-1 0M380 1148l-1 1M136 948l0 1M349 1039l-1 1M118 1184l1 1M194 1042l0 0M271 1255l1 0M295 1146l1 0M420 1008l1 2M203 953l-1 1M439 1031l-1 1M469 1169l-1 1M412 988l1 0M257 1126l-0 1M348 1165l0 0M275 1042l2 0M208 1136l0 0M358 970l0 1M189 1171l1 0M418 1121l-2 0M254 1222l-1 1M394 1108l-1 1M224 1139l0 0M350 926l0 0M238 1014l-1 1M167 1156l0 2M433 1072l-0 2M307 1022l-0 0M439 1195l-2 1M200 1039l-0 0M407 971l-0 2M315 1249l1 1M122 1099l-1 2M296 998l0 1M404 1230l1 2M399 1131l0 0M414 1125l1 1M282 1253l1 1M221 971l1 0M219 1008l-0 0M167 1192l1 1M367 1112l-2 1M366 1120l-1 2M434 1032l0 0M253 1232l2 1M176 995l0 1M320 1041l0 1M452 989l0 0M218 944l-0 1M333 1113l-0 2M381 1250l-0 1M177 1187l0 0M129 1187l0 2M412 971l1 2M209 1012l1 1M207 1228l-1 0M172 1211l-2 1M479 1244l1 0M105 1189l-1 2M334 1201l0 0M415 1216l-0 0M398 1037l-2 1M236 1121l1 1M330 936l-1 0M302 1195l0 1M439 1173l-0 0M150 1032l1 1M451 1009l-0 1M415 1216l0 1M254 1104l-1 0M391 1052l0 0M126 1072l-0 0M428 1195l0 0M378 1034l-1 2M135 948l1 1M470 1063l-2 1M404 1148l-2 1M366 1109l0 0"/></g>
<g clip-path="url(#c3)"><path d="M120.5 1052L120.5 1203" stroke="#c597d3" stroke-width="1.5"/><path d="M158.5 1117L158.5 1206" stroke="#c597d3" stroke-width="1.5"/><path d="M197 1059L197 1199" stroke="#c597d3" stroke-width="1.5"/><path d="M226.5 1117L226.5 1206" stroke="#c597d3" stroke-width="1.5"/><path d="M274.5 1036L274.5 1217" stroke="#c597d3" stroke-width="1.5"/><path d="M300.5 1107L300.5 1202" stroke="#c597d3" stroke-width="1.5"/><path d="M355.5 1084L355.5 1235" stroke="#c597d3" stroke-width="1.5"/><path d="M392 1153L392 1231" stroke="#c597d3" stroke-width="1.5"/><path d="M426 1061L426 1240" stroke="#c597d3" stroke-width="1.5"/><path d="M450.5 1107L450.5 1235" stroke="#c597d3" stroke-width="1.5"/><path d="M463 1107L463 1224" stroke="#c597d3" stroke-width="1.5"/><path d="M478.5 1107L478.5 1228" stroke="#c597d3" stroke-width="1.5"/><path d="M123 945L123 1025" stroke="#c597d3" stroke-width="1.5"/><path d="M144.5 978L144.5 1048" stroke="#c597d3" stroke-width="1.5"/><path d="M180.5 978L180.5 1058" stroke="#c597d3" stroke-width="1.5"/><path d="M244.5 1036L244.5 1159" stroke="#c597d3" stroke-width="1.5"/><path d="M264.5 953L264.5 1021" stroke="#c597d3" stroke-width="1.5"/><path d="M324 963L324 1103" stroke="#c597d3" stroke-width="1.5"/><path d="M345.5 961L345.5 1057" stroke="#c597d3" stroke-width="1.5"/><path d="M389 959L389 1048" stroke="#c597d3" stroke-width="1.5"/><path d="M417 966L417 1057" stroke="#c597d3" stroke-width="1.5"/><path d="M475.5 977L475.5 1057" stroke="#c597d3" stroke-width="1.5"/></g><g clip-path="url(#c3)" fill="#d9bde2"><circle cx="242" cy="1170" r="2.3"/><circle cx="259" cy="1042" r="2.9"/><circle cx="380" cy="958" r="2.4"/><circle cx="132" cy="1073" r="3.0"/><circle cx="403" cy="1131" r="2.3"/><circle cx="482" cy="954" r="2.3"/><circle cx="343" cy="1111" r="2.6"/><circle cx="362" cy="1063" r="2.5"/><circle cx="221" cy="1057" r="2.2"/><circle cx="375" cy="992" r="2.9"/><circle cx="457" cy="1153" r="3.3"/><circle cx="171" cy="1151" r="2.0"/><circle cx="187" cy="1019" r="3.1"/><circle cx="478" cy="1003" r="2.8"/><circle cx="210" cy="1131" r="2.0"/><circle cx="449" cy="1025" r="2.3"/><circle cx="418" cy="1132" r="3.3"/><circle cx="438" cy="1063" r="2.7"/><circle cx="405" cy="1074" r="2.4"/><circle cx="336" cy="1059" r="3.2"/><circle cx="436" cy="1148" r="2.1"/><circle cx="313" cy="1062" r="2.1"/><circle cx="211" cy="952" r="3.1"/><circle cx="182" cy="994" r="3.4"/><circle cx="203" cy="1122" r="3.1"/><circle cx="344" cy="969" r="2.3"/><circle cx="417" cy="1047" r="2.5"/><circle cx="291" cy="959" r="3.1"/><circle cx="398" cy="1192" r="2.5"/><circle cx="366" cy="1184" r="3.4"/><circle cx="278" cy="1189" r="2.9"/><circle cx="317" cy="1094" r="2.3"/><circle cx="251" cy="1076" r="3.3"/><circle cx="316" cy="1037" r="3.6"/><circle cx="130" cy="994" r="2.6"/><circle cx="477" cy="1067" r="2.6"/><circle cx="417" cy="1008" r="3.3"/><circle cx="129" cy="1098" r="3.5"/><circle cx="332" cy="1011" r="2.3"/><circle cx="410" cy="1016" r="3.5"/><circle cx="265" cy="975" r="3.2"/><circle cx="384" cy="1118" r="2.0"/><circle cx="243" cy="1073" r="3.5"/><circle cx="136" cy="1058" r="2.6"/><circle cx="341" cy="1063" r="2.5"/><circle cx="286" cy="1086" r="2.1"/><circle cx="223" cy="1013" r="2.4"/><circle cx="237" cy="1019" r="2.6"/><circle cx="363" cy="1008" r="3.5"/><circle cx="130" cy="1024" r="3.2"/><circle cx="352" cy="1026" r="2.5"/><circle cx="375" cy="1044" r="3.3"/><circle cx="450" cy="988" r="3.1"/><circle cx="190" cy="1091" r="3.4"/><circle cx="344" cy="1169" r="2.5"/><circle cx="210" cy="1085" r="2.6"/><circle cx="302" cy="1013" r="2.3"/><circle cx="334" cy="978" r="2.4"/><circle cx="135" cy="1122" r="2.3"/><circle cx="205" cy="1164" r="2.8"/><circle cx="280" cy="1032" r="2.8"/><circle cx="399" cy="1040" r="2.2"/><circle cx="171" cy="1125" r="2.8"/><circle cx="458" cy="1005" r="3.1"/><circle cx="250" cy="1021" r="3.1"/><circle cx="223" cy="1005" r="2.7"/><circle cx="264" cy="971" r="3.6"/><circle cx="254" cy="1041" r="2.2"/><circle cx="157" cy="996" r="2.1"/><circle cx="311" cy="1112" r="3.4"/><circle cx="201" cy="1151" r="3.2"/><circle cx="122" cy="999" r="2.3"/><circle cx="435" cy="1137" r="2.1"/><circle cx="193" cy="991" r="3.0"/><circle cx="265" cy="1186" r="3.3"/><circle cx="210" cy="1018" r="2.8"/><circle cx="256" cy="1149" r="2.3"/><circle cx="434" cy="1097" r="2.6"/><circle cx="472" cy="1037" r="3.2"/><circle cx="471" cy="1173" r="3.6"/><circle cx="270" cy="1144" r="3.3"/><circle cx="215" cy="1063" r="3.5"/><circle cx="401" cy="1026" r="3.2"/><circle cx="145" cy="1048" r="2.9"/><circle cx="218" cy="953" r="2.9"/><circle cx="336" cy="1116" r="2.3"/><circle cx="127" cy="961" r="2.9"/><circle cx="114" cy="1001" r="2.8"/><circle cx="245" cy="1121" r="2.2"/><circle cx="299" cy="1056" r="2.3"/></g>
<path d="M100 700C100.7 692.7 102.7 695.2 104 696C105.3 696.8 106.5 696.8 108 705C109.5 713.2 111 732.5 113 745C115 757.5 120.2 772.5 120 780C119.8 787.5 114.7 791.7 112 790C109.3 788.3 106 778.3 104 770C102 761.7 100.7 751.7 100 740C99.3 728.3 99.3 707.3 100 700Z" fill="#f0c4da"/>
<path d="M100 785C102 759.3 108 780.3 112 782C116 783.7 121.3 787 124 795C126.7 803 126.8 815.8 128 830C129.2 844.2 130 863.3 131 880C132 896.7 139.2 920.7 134 930C128.8 939.3 105.7 960.2 100 936C94.3 911.8 98 810.7 100 785Z" fill="#e6bddc"/>
<g clip-path="url(#c4)" fill="none" stroke-linecap="round"><path stroke="#4a2882" stroke-width="4" d="M132 925l0 1M124 810l-0 1M116 797l-0 1M133 792l-0 1M120 894l-0 2M114 856l-0 1M132 798l-1 1M123 910l-1 0M118 847l0 0M105 864l1 1M122 871l1 0M123 824l-0 0M129 799l1 2M101 921l-1 2M133 824l-0 0M109 880l-0 0M127 918l-0 1M106 877l-0 0M115 823l-2 1M118 893l1 0M109 930l1 0M116 805l2 0M126 873l-1 0M131 809l0 0M126 929l-0 0M131 839l0 0M117 806l0 1M106 886l-1 0"/><path stroke="#62399a" stroke-width="4" d="M125 902l-0 0M111 878l0 1M134 844l1 1M125 873l1 1M113 787l-0 0M122 915l1 1M100 813l1 0M130 879l1 0M103 907l1 0M131 910l-0 0M119 852l0 1M128 926l1 1M106 918l1 2M112 908l-1 1M118 851l-0 1M112 817l0 1M116 878l-0 0M127 932l1 1M100 831l1 0M132 887l-1 1M103 919l-1 1M114 787l0 0M135 886l-1 1M124 847l-1 1M119 935l1 1M110 861l-2 1M128 793l-1 0M133 782l-1 0M114 802l-1 1M113 929l-1 1"/><path stroke="#e5404f" stroke-width="3.4" d="M101 825l1 0M126 880l2 1M128 880l-1 1M111 807l1 1M132 872l-0 0M132 782l-0 0M118 885l1 0M130 905l0 0M112 842l-0 1M109 784l1 1M128 882l-1 1M129 786l-1 1M131 799l-0 0M114 851l0 0M104 924l-0 1M123 905l-0 0M134 783l-1 1M129 827l0 2M131 816l0 0M135 791l-1 1"/><path stroke="#55308f" stroke-width="4" d="M117 921l-0 1M109 813l-0 1M108 837l-2 0M114 799l1 0M109 807l-0 1M127 822l-1 1M120 848l-0 1M111 899l0 0M117 808l-1 0M130 819l0 1M115 885l2 0M102 919l-1 0M131 873l0 0M106 828l-1 1M118 810l-0 1M132 894l-0 0M133 828l2 0M113 822l1 0"/><path stroke="#62399a" stroke-width="3.4" d="M133 792l-0 0M134 810l-0 0M121 905l1 0M121 903l0 0M116 923l-1 1M131 929l0 1M103 855l-1 1M102 783l0 0M133 810l-2 0M125 811l-0 0M105 818l1 0M110 783l1 0M109 843l1 0M134 861l-1 1M122 900l-0 0M114 835l2 1M124 828l-1 1M119 892l1 1M109 901l0 0M104 835l-1 0M134 906l-0 0"/><path stroke="#e5404f" stroke-width="4" d="M122 853l0 0M118 886l1 1M100 932l0 0M123 784l0 0M119 813l-0 0M129 890l-1 1M125 863l0 1M124 865l-0 0M103 803l-0 1M119 836l2 1M123 857l0 1M124 797l-0 0M124 792l0 0M124 792l0 0M110 923l1 1"/><path stroke="#4a2882" stroke-width="3.4" d="M101 872l-1 1M110 828l1 1M116 914l1 2M131 840l1 0M120 831l-1 0M116 844l1 1M125 864l-0 0M119 909l-0 0M103 860l1 0M119 830l0 0M104 781l2 1M105 901l-0 0M116 784l0 0M127 794l1 0M104 791l-0 2M106 836l-1 1M116 906l1 1M105 857l-0 0M128 804l0 1M124 916l1 1M103 838l0 1M121 788l1 1M106 812l-0 2"/><path stroke="#55308f" stroke-width="3.4" d="M129 920l-0 1M117 831l0 1M104 827l-0 2M119 833l-0 0M130 894l1 1M117 913l-0 1M124 807l-1 1M120 821l-1 1M126 842l1 0M121 804l0 0M113 849l0 0M129 796l-1 1M122 875l-0 2M106 837l0 0M121 920l1 2"/></g>
<path d="M107.8 694.1C106.2 698.3 110.3 704.1 112.8 715.3C115.3 726.6 119.9 746.2 122.8 761.6C125.7 777.1 127.9 792.8 130.1 807.9C132.3 823.1 135.1 837.7 136 852.5C136.9 867.4 136 884.4 135.5 897.1C135 909.8 130.5 922.9 133.1 928.6C135.7 934.3 146.7 936.3 150.9 931.4C155.1 926.4 157 912.2 158.5 898.9C160 885.6 160.4 867.3 160 851.5C159.6 835.7 158.3 819.9 155.9 804.1C153.4 788.2 149.6 771.9 145.2 756.4C140.7 740.8 133 721.7 129.2 710.7C125.3 699.6 125.8 692.7 122.2 689.9C118.6 687.2 109.4 689.8 107.8 694.1Z" fill="#de86b0"/>
<path d="M108.3 693.9C108 697.8 110.8 703.9 113.3 715.2C115.8 726.5 120.4 746.1 123.3 761.5C126.2 777 128.4 792.7 130.6 807.9C132.9 823 136.1 837.6 137 852.5C137.9 867.4 136.5 884.4 136 897.2C135.5 909.9 133.1 923.3 134.1 928.8C135.1 934.2 140 935.1 142 930C144 924.9 145.2 910.9 146 897.9C146.8 884.9 147.7 867.3 147 852C146.3 836.8 143.8 821.7 141.5 806.2C139.2 790.8 136.4 774.8 133 759.2C129.6 743.7 124 724.2 121 713C118 701.8 117.1 695.2 115 692C112.9 688.8 108.6 690.1 108.3 693.9Z" fill="#74469e"/>
<g clip-path="url(#c5)" fill="none" stroke-linecap="round"><path stroke="#4a2882" stroke-width="3.6" d="M159 795l0 0M166 724l0 0M153 829l-0 1M105 788l1 1M120 700l1 1M125 934l1 1M101 727l-0 2M112 826l-2 1M126 908l0 0M164 856l-0 0M132 802l-2 1M146 762l-1 2M116 713l1 2M143 826l-0 2M116 747l-1 1M101 798l-0 0"/><path stroke="#62399a" stroke-width="3.6" d="M160 871l-1 1M120 717l-2 0M109 880l0 0M166 727l1 1M153 897l-0 2M143 723l2 1M105 699l0 0M163 788l-1 2M103 931l-0 2M152 708l-1 2M135 858l-0 0M157 838l-0 0M123 895l-0 0M126 762l1 2"/><path stroke="#62399a" stroke-width="3" d="M121 830l-2 1M165 771l1 2M102 873l-2 0M127 876l-1 2M135 912l-2 1M112 845l-0 1M166 774l1 0M118 814l0 1M149 857l1 1M161 899l-0 1M168 917l1 0M101 702l-0 0M157 708l1 2M114 909l-0 0M104 847l0 2M143 817l-2 1M153 806l-0 1M140 823l-1 2M142 766l-1 0M137 755l1 0"/><path stroke="#4a2882" stroke-width="3" d="M134 891l-0 1M163 821l-1 2M149 838l0 0M142 765l1 1M141 800l1 2M129 875l1 0M159 776l-1 2M157 787l-1 0M105 692l1 0M101 786l-0 2M106 768l-0 2M102 710l-1 1M166 829l0 1"/><path stroke="#55308f" stroke-width="3.6" d="M142 801l-2 1M169 718l1 0M144 852l-1 1M145 732l2 0M167 773l2 0M121 779l-2 1M108 901l-0 1M114 922l-1 2M163 920l-0 0M128 903l-0 0M134 721l-0 1M106 884l1 1"/><path stroke="#55308f" stroke-width="3" d="M147 742l-0 0M123 723l-1 1M150 712l2 1M151 767l-0 2M160 857l-0 1M108 706l-0 1M127 890l-2 1M100 769l-0 0M113 800l2 0M124 708l-0 1M145 691l-0 0M146 844l-1 1M168 916l0 0M112 753l-1 1M119 737l2 0"/></g>
<path d="M110 692C111 695.5 112.8 701.8 116 713C119.2 724.2 125.3 743.5 129 759C132.7 774.5 135.7 790.5 138 806C140.3 821.5 142.3 836.7 143 852C143.7 867.3 143 885 142 898C141 911 137.8 924.7 137 930" fill="none" stroke="#4e2a86" stroke-width="9" stroke-dasharray="2.4 2" opacity="0.75"/>
<path d="M163 739C164.3 736 167.5 736 170 737C172.5 738 176.2 741.2 178 745C179.8 748.8 180.7 754.5 181 760C181.3 765.5 181.5 774.5 180 778C178.5 781.5 174.5 781.5 172 781C169.5 780.5 166.7 779.3 165 775C163.3 770.7 162.3 761 162 755C161.7 749 161.7 742 163 739Z" fill="#bf7fba"/>
<g clip-path="url(#c6)" fill="none" stroke-linecap="round"><path stroke="#4a2882" stroke-width="3" d="M167 749l-1 1M173 780l-1 0M163 768l0 1M169 745l1 2M161 780l-1 1"/><path stroke="#62399a" stroke-width="3" d="M161 764l0 1M160 775l-0 2M164 759l-1 0M179 770l0 0M167 739l-0 1M169 752l0 1M172 764l1 1"/><path stroke="#55308f" stroke-width="3" d="M168 751l1 1M180 756l1 0M165 782l-1 1M178 772l0 0"/></g>
<path d="M167 781C168.3 776.8 173.3 778.5 176 780C178.7 781.5 181 785 183 790C185 795 186.5 802.5 188 810C189.5 817.5 191.5 826.7 192 835C192.5 843.3 192.2 854.8 191 860C189.8 865.2 187.2 866.8 185 866C182.8 865.2 180.2 861 178 855C175.8 849 173.7 838.3 172 830C170.3 821.7 168.8 813.2 168 805C167.2 796.8 165.7 785.2 167 781Z" fill="#e893b8"/>
<path d="M172.4 697.7C170.8 703.7 180.3 714.7 183.4 722.1C186.5 729.6 188.6 735.4 190.9 742.1C193.2 748.9 196 755.4 197.2 762.6C198.4 769.7 197.1 777.3 198.1 784.9C199.1 792.6 202.2 800.8 203.2 808.3C204.2 815.7 203.9 822.5 204 829.7C204.2 836.9 204.1 844.5 204 851.7C203.9 858.8 204.4 865.2 203.2 872.4C202 879.6 199.2 887.7 196.9 894.7C194.6 901.8 191.5 908.1 189.3 914.8C187.2 921.6 181.6 930.3 184.1 935.3C186.5 940.3 198.5 946.1 203.9 944.7C209.4 943.4 212.8 933.7 216.7 927.2C220.5 920.6 224.1 913.5 227.1 905.3C230.1 897 233.3 886.4 234.8 877.6C236.3 868.8 235.8 860.6 236 852.3C236.2 844.1 236.5 836.4 236 828.3C235.5 820.2 234.2 811.6 232.8 803.7C231.5 795.9 228.9 788.8 227.9 781.1C226.9 773.3 228.2 765.6 226.8 757.4C225.3 749.2 222.1 739.8 219.1 731.9C216.1 723.9 212.8 717.4 208.6 709.9C204.3 702.3 199.6 688.3 193.6 686.3C187.5 684.3 174.1 691.7 172.4 697.7Z" fill="#de86b0"/>
<path d="M184.8 691C185.6 695.8 194.9 707.2 198.7 714.7C202.5 722.2 205.1 728.5 207.8 736C210.5 743.4 213.6 751.7 215 759.5C216.3 767.3 215 774.9 216 782.6C217 790.3 219.6 797.8 221 805.5C222.3 813.3 223.5 821.1 224 828.8C224.5 836.6 224.2 844.3 224 852.1C223.8 859.9 224.3 867.5 222.9 875.7C221.6 883.9 218.6 893.6 215.8 901.3C212.9 909.1 209.1 915.7 205.7 922.2C202.3 928.8 195.7 936.9 195.4 940.6C195 944.4 199.9 946.7 203.5 944.5C207 942.2 212.7 933.7 216.7 927.2C220.6 920.6 224.1 913.5 227.1 905.3C230.1 897 233.3 886.4 234.8 877.6C236.3 868.8 235.8 860.6 236 852.3C236.2 844.1 236.5 836.4 236 828.3C235.5 820.2 234.2 811.6 232.8 803.7C231.5 795.9 228.9 788.8 227.9 781.1C226.9 773.3 228.2 765.6 226.8 757.4C225.3 749.2 222.1 739.8 219.1 731.9C216.1 723.9 212.8 717.4 208.6 709.9C204.3 702.3 197.5 689.4 193.6 686.3C189.6 683.2 183.9 686.3 184.8 691Z" fill="#74469e"/>
<g clip-path="url(#c7)" fill="none" stroke-linecap="round"><path stroke="#62399a" stroke-width="3" d="M162 734l1 0M227 789l-1 1M194 859l0 0M175 722l2 0M169 855l-0 2M240 873l1 0M201 898l0 0M185 701l-1 0M196 920l0 1M220 739l2 1M187 705l-1 1M221 787l-1 1M228 838l0 0M208 835l-0 2M185 879l-0 1M223 832l-2 1M205 875l1 0M225 691l-1 2M171 792l0 0M187 796l-0 0"/><path stroke="#55308f" stroke-width="3.6" d="M176 787l-1 1M236 817l-2 2M215 940l0 0M239 703l-0 0M243 839l0 1M237 726l2 2M235 888l1 0M188 787l0 1M189 850l-1 0M203 902l-0 0M217 860l-2 0M198 803l1 1M197 765l-1 0M217 799l2 0M208 707l-2 0M230 859l-0 0M191 889l1 0M192 822l1 1M203 827l-1 1M185 737l-2 1M171 793l-2 2"/><path stroke="#4a2882" stroke-width="3.6" d="M200 740l0 0M168 779l1 1M210 844l-2 1M162 936l0 2M197 851l-0 0M195 798l-1 0M240 877l-0 0M160 919l-2 1M182 748l-1 1M225 868l-2 0M196 692l1 2M220 895l0 0M213 746l0 2M192 755l-1 0M227 935l1 1M235 827l-1 2M204 800l1 0M211 693l1 0M209 746l-1 1"/><path stroke="#4a2882" stroke-width="3" d="M198 924l0 2M244 860l-1 1M211 913l0 0M187 790l0 0M219 946l-1 1M167 778l-1 1M186 890l1 2M242 839l0 0M237 789l-1 0M189 825l0 2M204 729l1 1M214 871l0 2M200 737l0 1M196 788l-0 0"/><path stroke="#55308f" stroke-width="3" d="M181 866l-1 0M226 908l-1 2M169 834l2 2M230 946l0 1M187 843l0 1M244 940l2 0M241 767l-1 0M229 936l0 0M224 767l-0 1M170 758l0 1M179 947l-2 0M232 826l-0 1M196 843l-1 0M234 776l0 1M175 700l0 0M196 819l1 1M216 815l-0 0M235 743l-0 0M202 895l2 0M233 874l2 2M200 938l1 1M168 820l-0 2M235 808l-0 0"/><path stroke="#62399a" stroke-width="3.6" d="M241 878l0 0M211 715l2 1M232 880l-0 0M206 824l0 2M233 774l0 2M233 848l-0 1M243 719l1 0M237 705l-0 2M196 774l0 0M212 709l-1 0M224 692l-0 0M198 887l1 0M243 746l1 0"/></g>
<path d="M191 692C193.2 696 200.3 708.5 204 716C207.7 723.5 210.3 729.7 213 737C215.7 744.3 218.7 752.3 220 760C221.3 767.7 220 775.3 221 783C222 790.7 224.8 798.3 226 806C227.2 813.7 227.7 821.3 228 829C228.3 836.7 228.2 844.3 228 852C227.8 859.7 228.3 867 227 875C225.7 883 222.7 892.3 220 900C217.3 907.7 214 914.3 211 921C208 927.7 203.5 936.8 202 940" fill="none" stroke="#4e2a86" stroke-width="10" stroke-dasharray="2.4 2" opacity="0.75"/>
<path d="M262 768C264.8 764 265.7 765.2 268 766C270.3 766.8 272.8 766.3 276 773C279.2 779.7 284 792.8 287 806C290 819.2 292.7 836.3 294 852C295.3 867.7 294.7 883.7 295 900C295.3 916.3 308.5 940 296 950C283.5 960 235.2 960 220 960C204.8 960 205.8 955.8 205 950C204.2 944.2 210.8 932.5 215 925C219.2 917.5 225.3 913.3 230 905C234.7 896.7 240.2 887.7 243 875C245.8 862.3 245.7 843.2 247 829C248.3 814.8 248.5 800.2 251 790C253.5 779.8 259.2 772 262 768Z" fill="#d9a6d2"/>
<g clip-path="url(#c8)" fill="none" stroke-linecap="round"><path stroke="#55308f" stroke-width="4.6" d="M210 798l-1 0M203 915l-0 0M297 886l0 0M200 787l0 1M292 774l-0 0M249 938l-0 2M278 884l0 0M254 800l-0 0M267 789l-1 0M240 843l-1 0M242 937l-0 2M280 896l0 0M203 869l1 1M268 865l-0 0M233 922l-0 0M219 764l-0 0M232 837l0 1M229 843l1 1M295 889l0 1M274 863l-1 1M268 806l1 1M237 856l-2 0M238 856l0 2M255 792l1 1M209 933l-0 0M210 946l-0 0M288 908l-0 1M243 896l-1 2M295 787l-1 1M234 872l0 0M218 769l-2 0M288 854l-0 1M226 761l-1 0M247 915l1 2M231 816l0 0M240 889l0 0M281 787l-1 0M247 929l0 2M231 791l-0 0M278 923l-1 1M266 929l-0 0M285 773l0 1M291 809l-1 2M242 957l1 1M244 835l-0 0M200 892l-0 1M272 950l2 0M273 897l-1 2M278 772l2 1M270 812l-0 1M253 781l1 1M259 805l0 1M228 863l-0 1M296 849l-0 1M209 826l-1 0M256 765l0 0M228 931l-1 1M224 811l-0 0M251 875l1 1M204 897l0 0M300 876l-0 1M243 843l-0 0M296 856l0 0M236 863l-1 1M268 852l2 1M223 770l-0 0M277 909l-0 0M202 765l1 1M266 868l-2 0M241 878l-2 0M280 785l1 1M251 785l-1 2M274 894l-0 0M252 816l-0 1M202 936l0 1M251 842l0 1M227 794l1 1M242 791l-0 1M288 926l-1 1M267 776l1 1M275 869l2 2M206 894l2 1M241 777l1 1M279 954l-0 2M296 772l-1 2M256 912l-0 0M282 761l-1 1M207 826l0 0M276 856l-0 0M287 810l-1 1M285 871l2 1M256 842l0 0M243 887l1 0M284 789l-2 1M264 787l2 0M253 886l1 1M214 952l-0 0M283 861l-0 1M289 853l2 1M238 789l-0 0M206 861l1 1M210 885l-0 0M227 833l-1 0M280 768l-1 1M210 892l0 1M232 941l-0 0M209 840l-0 2M201 945l0 0M208 890l2 2M250 795l1 1M209 862l2 0M273 799l-0 1M248 816l-2 1M200 889l0 1M237 845l0 0M234 954l0 2M294 867l0 0"/><path stroke="#4a2882" stroke-width="4.6" d="M298 834l1 0M296 836l0 2M210 945l-1 1M272 879l0 2M268 910l-2 1M248 911l2 1M214 767l2 2M216 784l1 1M274 894l-0 1M271 823l-0 1M244 784l1 0M298 789l2 1M221 896l-1 1M232 857l-0 0M225 927l-2 2M290 890l-0 0M273 817l1 1M258 957l-0 0M289 868l0 0M223 842l-0 0M256 811l-1 1M257 815l1 1M260 924l-0 0M240 927l-1 1M232 906l-0 2M279 932l1 2M217 774l-0 0M263 761l-0 0M230 896l0 0M229 937l1 0M289 768l0 0M255 935l-1 1M288 771l-1 0M277 884l0 0M274 862l-0 2M240 764l0 0M299 902l1 0M228 768l0 0M271 788l-1 0M203 856l-0 1M264 792l0 0M285 883l-0 2M220 948l-2 1M259 925l1 0M203 845l-2 1M259 855l2 1M237 812l1 0M292 836l-1 1M229 901l-2 2M274 854l-2 0M214 860l-0 2M244 764l-1 1M274 855l0 0M276 784l0 2M210 840l1 1M299 940l-0 0M235 816l-0 1M211 791l1 1M237 949l-0 0M248 863l-0 0M278 779l-1 0M211 857l-1 0M299 878l-1 0M297 944l-2 0M240 870l-2 1M237 875l-2 0M250 902l0 2M229 905l0 0M295 853l-2 1M240 959l-1 0M209 898l-2 0M253 931l-2 0M235 950l0 1M262 872l0 1M255 877l-0 0M216 905l0 1M201 924l-1 1M228 819l0 2M275 889l1 1M214 869l1 1M278 768l0 0M213 778l0 0M291 827l-1 1M270 785l-0 1M225 960l2 1M201 765l-0 1M267 774l0 1M288 920l-1 2M221 879l0 1M283 824l-0 1M225 802l1 0M247 924l-1 1M279 908l-0 2M270 883l-0 0M275 760l1 1M207 882l0 0M240 915l1 0M236 951l-1 1M248 853l1 1M279 907l-0 1M263 840l2 0M210 797l1 2M222 807l-0 0M216 917l-1 2M248 834l2 0M238 781l1 2M275 953l1 1M248 925l-2 0M290 861l1 1M287 813l0 0M241 910l2 0M278 906l-0 1M236 841l1 0M245 841l1 0M262 796l-0 0M258 922l-2 0M283 897l-0 0M294 801l1 1M271 789l0 2M247 833l-0 2M242 778l-1 1M202 838l0 1M242 807l-0 1M279 956l1 0M251 911l0 2M218 892l-0 0M259 859l1 1M216 925l2 0M225 839l1 2M208 830l0 0M287 787l-1 1M230 848l0 0"/><path stroke="#55308f" stroke-width="3.8" d="M268 769l1 0M283 932l1 2M205 808l-1 0M228 781l1 0M296 814l-0 0M224 780l1 1M218 902l2 1M269 910l0 0M251 846l-2 1M221 865l2 1M257 900l-0 0M296 938l-2 0M277 768l0 2M203 761l-0 0M245 949l0 2M287 872l-2 1M211 858l2 1M288 843l1 1M233 919l-2 0M221 829l-1 0M210 787l2 0M238 847l-1 1M247 886l-0 2M262 888l0 1M242 835l1 0M217 884l-1 1M230 928l1 0M224 818l1 1M257 876l1 0M228 888l0 0M206 891l-1 2M219 855l-0 0M254 881l1 1M245 768l0 0M268 886l0 2M294 824l1 1M243 913l-0 0M249 783l0 1M237 827l-1 1M270 877l-1 1M284 795l2 1M242 805l-0 1M290 840l-1 0M277 831l-1 1M258 835l-1 1M243 923l1 2M259 837l-0 2M207 954l-0 1M255 802l-1 0M298 767l-1 1M262 905l0 0M234 845l1 0M249 799l1 1M300 959l0 0M285 902l-0 0M284 868l1 2M288 904l1 0M270 826l0 0M271 901l-0 2M276 810l-0 1M222 805l-2 1M217 892l1 1M234 888l2 0M225 866l-0 0M275 777l1 0M248 794l1 0M238 772l-1 2M261 856l-1 1M285 805l0 0M234 783l1 1M246 796l-0 0M279 885l1 0M267 886l-0 1M201 941l1 2M267 802l-1 0M278 821l-1 0M228 803l0 0M206 827l-1 0M237 889l-2 0M241 816l-2 1M247 780l2 1M226 927l1 2M259 910l-0 1M272 919l-2 1M216 874l-2 1M298 834l-0 1M216 930l0 0M227 849l-2 1M229 948l-1 0M208 857l2 0M271 869l-0 1M256 777l2 1M204 919l-1 1M229 931l0 2M298 874l-0 2M286 870l2 0M233 921l-0 1M259 929l-0 2M216 796l-2 0M211 789l0 2M257 937l1 0M207 816l-1 1M284 951l-0 0M237 777l0 0M220 854l-1 2M263 875l-1 0M288 861l-1 1M201 957l-1 0M263 843l-1 1M235 856l-2 0M244 780l-0 1M227 956l0 0M211 882l-1 0M283 929l-0 0M229 909l0 0"/><path stroke="#62399a" stroke-width="4.6" d="M221 780l0 2M247 818l-2 0M284 863l2 1M253 801l0 1M231 873l-0 2M261 799l-1 2M274 862l2 0M251 959l-0 1M285 860l0 2M289 926l-1 0M232 796l-0 0M203 844l1 0M227 872l1 1M217 946l-1 1M250 770l-0 1M212 955l-2 1M278 885l-0 0M222 797l-0 1M239 775l-0 0M261 847l-0 0M201 864l1 1M233 885l-0 1M231 960l-1 1M252 941l-1 1M288 861l-1 0M277 852l-1 1M258 952l-0 1M290 918l0 0M297 885l-1 1M233 830l0 0M296 948l1 2M218 912l-2 0M209 780l0 0M233 905l-2 1M234 853l0 0M259 949l0 1M253 851l-2 0M217 920l-0 0M268 955l-1 1M246 775l2 2M246 892l0 1M201 771l2 0M297 792l-0 1M243 821l-0 1M237 905l-0 0M202 767l1 0M212 775l-2 1M269 844l0 2M282 816l1 0M274 912l1 2M224 955l-0 1M297 846l-2 0M259 886l-2 1M257 876l-1 2M255 942l0 1M257 850l1 1M241 953l-2 1M261 928l-0 0M284 879l0 1M272 862l1 2M245 956l2 1M214 792l-0 0M289 947l-0 0M250 819l0 1M245 839l0 0M207 763l-0 0M281 778l-1 1M256 864l-1 0M233 906l-1 0M296 924l-0 2M238 923l-0 1M272 775l-0 2M254 904l-0 1M279 892l0 0M280 817l-2 2M217 793l-0 0M216 830l1 2M211 837l-2 1M232 929l0 0M294 900l-1 1M228 899l-1 1M259 809l-2 0M207 954l0 0M248 905l0 1M278 890l1 0M276 761l2 1M262 856l-0 0M251 938l0 0M265 796l0 1M250 873l1 0M270 938l0 0M260 795l-1 1M224 828l2 0M236 852l-0 0M201 914l0 2M272 862l1 1M287 866l-0 0M274 901l-0 1M227 935l-0 0M252 787l-2 1M232 828l-1 2M203 798l-1 0M268 765l-0 0M204 814l1 2M200 900l-1 2M249 878l-1 1M266 815l-0 1M205 778l-0 2M286 947l1 1M218 937l-1 2M246 774l-0 0M252 906l-1 1M275 832l1 2M242 927l-0 2"/><path stroke="#4a2882" stroke-width="3.8" d="M217 831l-2 1M207 940l-0 2M247 850l1 0M231 823l-0 0M247 891l1 1M223 954l1 1M200 778l1 2M251 786l-2 0M235 953l2 1M211 921l1 0M291 926l2 1M234 777l-2 1M245 911l-1 1M211 877l0 0M240 790l2 0M215 862l0 0M250 904l2 1M254 849l-0 1M268 852l1 1M214 830l-0 0M256 816l1 0M223 940l0 1M267 949l-0 0M210 899l-0 0M273 939l1 2M272 906l2 1M257 864l0 1M207 859l0 0M238 801l-0 1M281 808l0 0M283 853l2 1M218 814l0 2M246 959l0 2M233 916l-2 2M255 914l-0 1M223 806l1 2M289 845l-2 1M258 926l1 1M242 876l1 1M257 935l-0 0M236 925l-1 0M203 763l-2 0M279 902l1 1M247 910l-0 0M240 852l1 0M271 815l-1 2M287 878l0 2M235 949l2 0M228 881l2 1M252 891l-0 1M266 784l1 1M264 866l-0 0M278 894l-1 1M297 914l-1 2M224 789l0 0M278 888l0 0M210 821l-1 2M245 881l-1 0M265 936l0 0M240 858l0 1M272 794l1 2M281 803l-2 0M216 861l2 1M203 779l-0 2M215 954l-0 0M225 815l-2 0M289 868l1 1M221 943l-0 0M246 864l-1 0M250 805l-2 0M259 788l0 0M211 940l0 0M299 834l1 2M262 854l1 2M229 860l-1 1M267 822l1 1M243 858l-1 1M258 893l0 0M256 787l-0 0M210 884l-0 0M253 818l0 2M223 781l-2 0M206 901l-0 2M228 895l-1 0M216 762l-1 0M249 957l0 2M208 805l-1 1M280 790l2 0M243 911l1 0M242 881l-1 1M213 877l0 1M288 764l-2 1M246 927l0 1M217 945l-0 0"/><path stroke="#e5404f" stroke-width="4.6" d="M299 940l-0 1M288 786l1 1M209 959l-1 2M299 922l1 2M236 886l1 1M247 932l-1 0M299 810l-1 1M278 764l0 0M261 887l1 0M299 862l-1 0M273 867l0 1M295 927l1 0M212 938l-1 2M260 937l-1 1M221 849l0 0M289 930l-2 0M258 951l-0 1M253 894l0 1M201 950l-2 0M292 765l-1 0M264 823l-1 1M236 865l-0 1M299 874l2 1M260 800l-0 0M287 846l-0 1M215 847l-0 1M225 960l2 0M222 915l2 2M232 955l1 0M258 920l1 1M257 872l2 2M253 860l-2 1M292 819l-1 0M204 834l1 1M238 828l0 2M291 876l-0 2M252 807l-0 0M282 821l-1 1M287 798l-1 2M224 947l-0 0M210 903l2 1M298 930l-1 1M287 873l1 1M293 906l1 1M273 859l-1 2M216 916l-1 1M213 882l1 0M244 878l-1 1M295 902l1 1M274 849l2 1M203 794l1 2M274 796l1 2M268 910l0 0M218 917l2 0M207 852l0 0M295 895l1 2M262 798l-1 2M272 948l1 1"/><path stroke="#e5404f" stroke-width="3.8" d="M219 821l-1 2M205 925l-1 0M250 906l-0 1M253 950l1 1M226 959l0 0M212 789l0 2M258 941l-0 1M227 895l1 2M247 818l-1 1M216 776l0 0M248 890l-0 0M280 772l1 1M238 769l0 1M287 895l0 1M251 857l0 0M279 791l-0 1M232 858l2 1M271 772l-1 1M245 873l-0 0M286 924l0 0M288 937l0 1M251 900l-1 2M247 782l-1 0M206 833l1 0M228 827l-1 0M226 781l2 1M220 869l-1 0M237 939l-1 1M201 910l0 0M264 812l0 1M260 928l-1 1M248 776l-0 0M287 848l-1 0M265 812l1 2M224 787l-0 1M280 767l1 1M262 815l-0 0M205 878l2 1M276 794l0 0M229 939l1 2M256 953l0 0M288 935l0 1M210 760l1 1M297 918l-2 0M202 866l0 2M267 764l1 1"/><path stroke="#62399a" stroke-width="3.8" d="M269 827l-0 2M272 862l-1 0M256 882l2 1M222 900l-1 1M215 941l1 0M223 781l-1 0M269 803l0 1M217 883l1 2M274 953l0 1M290 926l-2 1M210 768l-0 1M243 874l1 1M234 905l1 0M220 928l-0 2M204 911l-2 1M248 947l1 2M204 874l0 0M255 764l-1 0M290 788l0 0M216 805l-2 0M219 818l1 1M262 772l2 0M261 765l2 0M270 862l1 0M275 776l-0 0M220 948l0 2M204 909l0 0M212 880l1 0M228 812l0 0M200 792l-2 2M290 799l1 1M252 850l-2 1M201 899l1 2M287 912l1 2M205 765l-0 2M278 904l-1 0M208 956l-0 0M203 780l-0 0M295 933l0 0M247 958l1 0M282 902l2 1M230 778l-0 0M251 774l-1 0M268 882l0 0M209 871l1 0M213 854l-2 1M206 778l-1 1M299 764l1 2M230 837l-0 1M269 916l1 0M201 880l-0 2M225 787l-0 0M277 887l2 1M255 933l2 0M222 794l2 0M270 791l-0 0M295 952l1 0M275 922l-1 2M212 761l0 0M298 915l-1 1M265 800l2 2M251 907l-0 1M224 806l1 1M237 927l1 0M289 845l1 2M247 771l0 1M215 932l-1 2M218 936l1 0M247 824l1 2M297 957l-0 0M202 795l-1 0M267 770l1 2M204 941l0 0M226 783l1 1M293 844l-2 0M277 925l1 2M243 819l1 2M284 939l-1 0M203 848l-1 0M205 942l-1 2M255 899l-1 0M274 930l1 1M240 775l-2 0M269 943l-0 0M299 875l-0 1M283 828l2 1M260 950l2 1M287 938l2 0M242 880l-1 0M219 762l-2 0M281 780l-0 1M284 794l0 1M266 882l-1 1M237 915l1 1M240 830l2 1M227 825l-0 1M212 842l2 1M208 888l-1 0M297 944l-2 1M299 951l1 0M294 806l-2 0M256 838l2 1M244 889l-0 0M254 796l-0 0M248 899l-2 1M269 888l1 0M225 872l-1 2M239 852l0 2M276 892l-1 1M251 858l1 1M284 918l-0 1M233 773l-1 0M201 858l-0 1M207 941l-0 0M248 819l0 0M291 762l-2 1M275 769l-0 0M213 836l1 1M214 762l-2 1M299 886l-1 1M204 906l-1 1M230 938l-2 1M240 837l0 0M264 931l0 1"/></g>
<path d="M243.4 697.7C242.1 704 252 715.2 256.6 724.2C261.2 733.3 266.1 743.1 270.8 751.8C275.4 760.5 280.9 769.5 284.5 776.4C288.1 783.3 290.1 784.2 292.4 793.2C294.6 802.3 296.3 820.2 298.1 830.6C299.9 841 301.5 847.4 303 855.6C304.5 863.9 304 875.9 307 880C310 884.1 318 884.3 321 880C324 875.7 324.5 863.1 325 854.4C325.5 845.6 324.8 838.7 323.9 827.4C323 816.1 322 797.4 319.6 786.8C317.2 776.1 313.5 771.7 309.5 763.6C305.4 755.5 300.2 746.8 295.2 738.2C290.2 729.5 284.5 720.4 279.4 711.8C274.3 703.1 270.6 688.7 264.6 686.3C258.6 684 244.8 691.4 243.4 697.7Z" fill="#de86b0"/>
<path d="M243.4 697.7C244.2 702.9 252 715.2 256.6 724.2C261.2 733.3 266.1 743.1 270.8 751.8C275.4 760.5 280.9 769.5 284.5 776.4C288.1 783.3 290.1 784.2 292.4 793.2C294.6 802.3 296.3 820.2 298.1 830.6C299.9 841 301.5 847.4 303 855.6C304.5 863.9 305.2 875.9 307 880C308.8 884.1 313.2 884.1 314 880C314.8 875.9 313 863.6 312 855.1C311 846.7 309.5 840.1 308 829.4C306.5 818.6 305.4 800.4 303.1 790.7C300.8 781 298.1 778.7 294.3 771.4C290.5 764 285.2 755.1 280.4 746.5C275.6 737.8 270.1 728.4 265.4 719.4C260.7 710.5 255.9 696.6 252.2 692.9C248.6 689.3 242.7 692.5 243.4 697.7Z" fill="#74469e"/>
<g clip-path="url(#c9)" fill="none" stroke-linecap="round"><path stroke="#62399a" stroke-width="3.6" d="M301 783l1 2M264 794l2 0M268 778l1 0M242 719l1 2M243 717l2 1M280 832l-0 0M310 795l1 0M263 879l-0 0M259 849l0 1M277 803l1 1M247 758l-1 2M244 811l-1 1"/><path stroke="#55308f" stroke-width="3" d="M252 760l-1 2M300 697l-2 1M241 859l2 1M267 811l0 0M237 704l-2 0M304 713l-1 1M307 866l-1 1M312 735l-0 0M303 720l2 0M317 795l-0 0M284 820l-0 1M248 867l-0 1M316 817l0 0M285 856l-2 1M256 840l-0 1M311 777l-2 0M276 780l-1 0M280 718l-1 1"/><path stroke="#4a2882" stroke-width="3.6" d="M307 827l0 2M266 855l-0 0M242 815l-0 0M245 817l0 2M261 889l-0 0M290 789l0 0M243 692l0 0M319 806l-1 1M302 868l1 1M257 718l-0 0M258 788l-2 1M329 759l2 1M259 774l1 0M259 705l-0 0M321 830l-0 0M246 837l0 1M281 777l2 0"/><path stroke="#62399a" stroke-width="3" d="M294 820l-0 0M262 773l-1 1M255 805l0 1M289 863l-0 1M293 845l1 1M284 704l1 2M291 871l2 1M278 702l-1 0M252 793l0 1M285 711l0 0M299 854l1 0M314 778l0 1"/><path stroke="#4a2882" stroke-width="3" d="M263 857l0 0M322 803l-0 0M307 749l0 1M252 849l2 1M292 811l-0 1M286 757l1 2M281 712l-0 2M284 870l-0 1M310 694l0 0M309 739l1 2M286 717l-0 0M327 767l-0 0M283 833l2 1M239 843l-0 0M267 868l0 0M325 740l0 0M240 723l1 0"/><path stroke="#55308f" stroke-width="3.6" d="M316 714l-1 0M317 706l1 0M318 812l-0 0M290 827l1 0M249 830l-1 2M309 857l1 1M310 721l1 1M275 811l2 0M300 832l-0 0M299 795l-0 0M292 793l1 1M291 869l-1 2M263 740l-0 0M235 750l-0 0"/></g>
<path d="M247 695C249.3 699.3 256.2 712.2 261 721C265.8 729.8 271.2 739.3 276 748C280.8 756.7 286.2 765.5 290 773C293.8 780.5 296.7 783.2 299 793C301.3 802.8 302.7 821.2 304 832C305.3 842.8 306.5 853.7 307 858" fill="none" stroke="#4e2a86" stroke-width="9" stroke-dasharray="2.4 2" opacity="0.75"/>
<path d="M357 805C360.5 803.7 364.2 804.8 367 807C369.8 809.2 372.5 812.8 374 818C375.5 823.2 375.3 830.7 376 838C376.7 845.3 377.5 854.2 378 862C378.5 869.8 379.8 878.8 379 885C378.2 891.2 376.8 896.2 373 899C369.2 901.8 361.3 902.2 356 902C350.7 901.8 344.5 900.8 341 898C337.5 895.2 335.7 891.3 335 885C334.3 878.7 336 868.3 337 860C338 851.7 339.5 842.5 341 835C342.5 827.5 343.3 820 346 815C348.7 810 353.5 806.3 357 805Z" fill="#dc8ab4"/>
<path d="M338 848C345 842.3 370.2 839.8 377 846C383.8 852.2 379.7 876.2 379 885C378.3 893.8 376.8 896.2 373 899C369.2 901.8 361.3 902.2 356 902C350.7 901.8 344.5 901.7 341 898C337.5 894.3 335.5 888.3 335 880C334.5 871.7 331 853.7 338 848Z" fill="#a266b0"/>
<g clip-path="url(#c10)" fill="none" stroke-linecap="round"><path stroke="#62399a" stroke-width="3" d="M336 901l1 0M377 852l0 0M336 898l-0 0M340 861l-0 1M346 890l1 1M361 884l1 0M379 890l-0 1M347 876l-0 1M378 865l1 1M373 883l-1 1"/><path stroke="#62399a" stroke-width="2.6" d="M377 877l-0 0M335 903l1 0M345 873l-0 1M347 856l0 0M339 846l1 1M369 878l1 0M345 900l-0 0M360 888l0 0M340 891l1 0M351 849l-0 1M379 859l-1 0M337 881l1 1"/><path stroke="#55308f" stroke-width="3" d="M366 872l-0 0M350 869l0 0M348 863l-0 0M375 878l1 0M341 894l-0 1M373 861l1 0M368 890l-1 1M376 891l-0 0M365 889l1 0"/><path stroke="#4a2882" stroke-width="2.6" d="M344 898l-0 1M376 886l0 0M356 893l0 1M356 860l-1 1M355 850l0 0M356 888l-1 1M343 871l0 1M362 865l-1 1M377 888l1 0M353 854l-1 1M378 857l1 0M371 892l-0 0M338 845l-0 1M378 875l0 0"/><path stroke="#55308f" stroke-width="2.6" d="M357 845l1 0M365 885l-1 0M337 873l-0 0M370 876l-1 1M351 881l-0 0M352 874l-0 1M337 850l-0 1M378 874l-0 0M372 873l0 0"/><path stroke="#4a2882" stroke-width="3" d="M355 871l-0 0M352 844l0 1M341 903l-0 0M364 901l0 0M352 852l1 1M338 890l1 0M350 851l1 0M373 867l0 0M376 852l1 1M351 890l-1 1M357 896l-0 0M376 893l-0 1M344 880l-0 1M352 855l1 0M367 873l-0 0M344 881l0 0"/></g>
<circle cx="360" cy="796" r="4.5" fill="#eab5cc"/>
<path d="M316 885C318 882 323 880.3 326 882C329 883.7 333.3 890.3 334 895C334.7 899.7 332.3 907.2 330 910C327.7 912.8 322.7 913.7 320 912C317.3 910.3 314.7 904.5 314 900C313.3 895.5 314 888 316 885Z" fill="#eec3d8"/>
<path d="M410 776C412.8 775.8 416.2 775.7 419 778C421.8 780.3 425.3 785.3 427 790C428.7 794.7 428.8 799.3 429 806C429.2 812.7 428.8 822.3 428 830C427.2 837.7 426.2 845.3 424 852C421.8 858.7 418.2 864.2 415 870C411.8 875.8 408.3 880.3 405 887C401.7 893.7 398.3 902.8 395 910C391.7 917.2 387.8 923.3 385 930C382.2 936.7 380.2 944.2 378 950C375.8 955.8 377.5 962.5 372 965C366.5 967.5 349.2 967.8 345 965C340.8 962.2 345.8 953.8 347 948C348.2 942.2 349.8 936 352 930C354.2 924 357 918.2 360 912C363 905.8 367.2 899.2 370 893C372.8 886.8 375.2 881.8 377 875C378.8 868.2 380 859.5 381 852C382 844.5 382 837.7 383 830C384 822.3 385 812.7 387 806C389 799.3 392.5 794.5 395 790C397.5 785.5 399.5 781.3 402 779C404.5 776.7 407.2 776.2 410 776Z" fill="#d9a6d2"/>
<g clip-path="url(#c11)" fill="none" stroke-linecap="round"><path stroke="#4a2882" stroke-width="3.8" d="M423 822l-0 1M386 912l-0 0M422 928l-1 0M375 889l0 0M392 911l1 1M409 916l-1 0M420 910l0 0M362 942l-0 1M391 961l-1 0M407 795l2 1M365 912l2 1M385 800l2 1M365 806l0 1M353 888l0 2M412 953l-0 1M382 899l0 0M382 883l-2 0M417 828l-2 2M379 890l-1 1M416 871l2 0M359 786l1 0M429 783l-0 2M384 792l2 1M414 772l0 1M344 855l-2 0M352 857l-2 0M386 932l-0 0M397 938l-1 0M356 854l0 0M386 867l0 0M342 826l1 0M340 829l1 1M350 922l-0 0M391 801l-0 1M358 819l-1 0M404 805l1 1M389 872l2 1M356 818l0 0M409 957l-2 1M376 880l-1 1M369 949l-2 1M347 879l-1 1M430 907l-1 2M375 782l-1 2M405 836l0 0M394 856l-0 1M354 821l-0 2M431 946l1 1M416 829l0 0M353 775l-0 0M429 818l-1 1M417 894l-1 0M426 933l1 0M353 828l-0 0M381 806l-1 0M428 778l1 1M402 942l0 2M384 933l0 2M412 807l0 1M371 826l0 0M385 782l-0 1M416 837l-1 0M348 941l1 1M431 814l2 1M401 772l-0 0M385 812l-0 2M379 820l-1 2M362 773l0 1M343 815l2 1M390 862l1 1M389 804l-0 2M358 819l0 2M376 817l-0 1M392 961l1 1M387 811l-0 0M368 804l0 0M357 938l0 1M387 818l-0 2M396 863l1 0M347 932l0 0M389 964l-1 1M354 934l-2 0M417 806l-0 0M411 912l0 0M373 841l1 1M354 791l1 1M351 884l2 0M381 922l2 1M373 817l-1 1M364 793l-1 2M352 905l1 1M398 921l0 0M357 936l0 1M387 897l2 2M422 796l-1 1M342 806l0 0M404 882l1 1M419 921l-1 1M398 790l1 1M395 914l-2 1M382 870l-1 1M404 862l2 0M344 851l-0 0M419 939l0 0M379 914l-0 0M358 847l-1 0M412 897l1 2M426 822l1 0M342 853l-2 1M402 825l0 1M394 786l1 2M351 944l1 2M376 885l1 0M410 778l0 1M371 822l-2 0M384 949l-2 1"/><path stroke="#55308f" stroke-width="3.8" d="M419 771l1 1M359 778l-1 2M360 799l-1 1M386 920l-1 2M407 968l-1 1M369 794l1 1M347 772l-1 2M404 781l-0 2M341 821l0 1M409 928l-0 0M356 797l-0 0M393 858l-0 0M423 812l0 1M356 922l-0 0M415 914l0 0M368 873l1 1M370 870l0 0M426 903l-0 2M392 951l-0 0M341 859l-2 0M409 889l-0 0M340 784l-0 0M361 901l1 1M351 810l1 0M398 960l1 0M408 925l-1 1M359 791l-2 1M417 805l-1 0M347 884l-2 1M345 830l0 1M369 914l2 0M355 928l-1 1M384 948l-0 0M383 924l-0 1M417 837l-2 0M371 784l2 1M359 783l0 1M352 859l-0 1M374 920l-2 0M381 921l0 0M408 933l0 0M385 965l0 0M402 790l-0 0M426 923l1 0M366 856l1 2M396 783l0 1M410 873l-0 0M352 946l-1 1M365 813l2 1M362 825l-2 2M362 933l1 0M422 895l-0 0M392 839l0 0M374 924l1 1M380 839l2 1M371 836l1 0M403 859l-0 1M369 791l-1 0M343 895l0 0M411 858l-0 2M397 850l-2 0M381 889l-0 0M370 912l-0 0M376 882l-2 2M424 844l-0 1M359 786l2 0M369 782l1 1M412 842l2 2M423 833l0 0M352 854l-1 1M346 846l-0 0M410 885l2 1M415 786l-2 1M385 916l0 0M383 935l1 2M390 781l-2 1M373 964l0 1M347 777l-1 1M409 874l1 1M376 876l-0 0M375 868l-0 2M404 809l-1 2M341 920l-0 1M414 903l0 2M373 932l-1 1M367 920l-2 1M386 920l-0 0M353 839l-1 0M398 962l1 1M399 834l-1 0M369 796l0 0M374 882l1 1M344 823l-1 1M354 958l-1 1M368 923l-0 1M372 952l-1 1M370 801l-0 1M358 784l2 2M373 960l0 1M407 932l-1 1M416 821l2 1M385 867l-2 1"/><path stroke="#4a2882" stroke-width="4.6" d="M343 819l-2 1M370 796l1 1M428 814l-1 2M427 868l2 0M427 826l0 0M388 858l0 0M409 871l1 0M375 924l-1 1M397 813l1 2M349 872l-0 1M417 896l2 1M415 907l1 1M379 873l2 1M410 943l-2 1M363 883l1 0M421 808l1 1M346 930l2 0M346 853l0 0M391 932l2 0M357 837l0 2M369 948l1 1M378 839l-0 0M399 829l-1 1M412 958l0 0M374 873l-1 1M383 867l1 1M419 823l2 1M347 954l-0 1M387 915l-1 1M404 917l-1 2M410 818l-0 0M384 889l-1 0M411 770l1 0M431 802l1 0M379 860l-0 0M353 899l0 0M376 898l1 2M356 881l-1 1M404 948l-2 1M416 863l2 0M387 913l-0 1M425 960l-1 1M343 908l1 2M371 945l-0 0M384 866l-2 1M389 916l1 0M392 905l0 1M357 822l0 0M423 959l-0 0M365 797l1 1M360 947l0 1M374 811l0 1M361 918l0 2M388 861l0 0M428 917l-0 0M418 836l-1 1M388 926l-1 1M404 859l-0 0M412 947l1 0M368 870l-0 0M359 889l-0 0M409 919l-0 0M382 781l-0 1M369 816l0 1M378 890l1 1M377 817l0 1M420 832l0 0M374 861l-2 0M364 802l-1 0M353 936l-1 0M404 789l2 1M387 883l-0 0M409 927l0 0M409 808l-1 1M347 953l-2 1M383 940l0 0M430 793l0 2M340 849l-0 0M367 946l-0 1M341 959l0 0M401 862l0 1M342 847l0 0M429 851l-2 2M392 868l-0 0M406 885l-0 0M397 773l-0 0M397 811l2 0M373 952l1 0M425 817l1 1M386 910l1 1M398 934l-0 2M344 868l-1 1M397 864l-0 2M407 925l0 0M394 807l2 1M353 881l1 0M372 868l0 0M391 852l-2 0M419 893l1 1M360 871l0 2M384 916l1 1M420 931l2 1M427 789l0 0M386 804l-2 1M354 933l-0 2M350 965l1 1M419 779l0 0M421 906l-2 0M362 842l-1 0M381 908l0 1M359 782l2 0M427 903l1 0M354 830l0 0M379 904l-1 1M383 918l0 0M418 790l-1 2M423 901l0 0M358 931l-0 1"/><path stroke="#62399a" stroke-width="4.6" d="M350 802l-0 1M373 771l1 2M422 932l-0 0M372 952l1 1M364 962l-0 0M346 830l-1 1M370 783l-0 1M415 956l-1 1M362 898l-1 1M368 797l2 0M382 848l-0 0M388 918l2 0M419 906l-2 1M351 803l-0 0M404 894l-0 1M368 929l-1 0M350 856l1 1M431 891l1 2M386 808l1 1M346 854l-0 2M426 897l1 2M389 924l-1 2M360 916l1 1M427 795l0 0M340 966l-2 2M372 809l-1 2M350 952l0 2M397 920l0 1M428 900l2 1M409 905l-0 2M358 925l-0 1M386 871l-2 0M343 818l-1 1M429 855l-0 2M370 788l0 1M424 902l1 1M429 818l0 0M384 842l0 2M385 832l-2 1M418 819l-2 0M382 904l2 2M353 856l-1 2M385 950l1 0M417 943l-0 0M386 917l-0 1M398 782l-0 0M421 821l-0 0M353 918l2 0M414 808l-1 1M347 840l-1 1M397 847l0 1M355 912l1 1M409 907l1 1M426 791l1 2M353 947l-2 0M414 950l-1 2M346 845l0 1M364 855l-1 0M345 928l-1 0M423 897l-1 1M395 803l2 0M371 850l-0 0M430 908l0 0M357 790l2 0M347 933l-1 1M405 841l-1 0M352 895l-1 1M345 952l-0 2M377 774l-1 1M350 785l1 1M350 829l1 2M380 933l0 0M373 851l-1 2M340 906l0 1M402 948l0 1M388 919l0 0M354 932l1 1M431 915l2 1M430 896l-1 1M429 936l-0 0M347 781l1 1M363 885l-0 2M431 919l-1 0M389 788l0 0M421 861l-1 0M394 858l-2 0M406 810l0 1M427 771l0 0M397 942l0 1M354 847l0 1M426 901l2 0M391 886l-2 1M407 920l-0 1M352 797l-1 2M350 916l1 2M420 854l-0 0M351 827l2 1M370 926l1 1M381 800l0 1M362 788l-1 2M412 814l1 0M400 928l-0 1M364 830l0 0M357 771l0 2M345 805l-2 2M431 950l2 1M390 935l-2 1"/><path stroke="#e5404f" stroke-width="4.6" d="M345 870l-1 0M370 931l-0 1M371 829l1 0M346 891l1 2M360 911l-0 0M350 806l0 1M429 955l1 1M354 793l2 1M385 813l0 0M409 824l0 1M349 968l-1 0M411 895l-0 0M342 785l0 0M403 896l-1 0M419 960l2 0M345 806l2 1M365 821l1 1M364 845l2 2M345 852l2 0M341 855l1 1M401 872l1 1M398 868l0 0M414 779l0 1M353 797l1 2M428 963l-1 0M348 817l1 1M370 908l-0 0M393 876l-0 0M349 962l2 0M425 957l-2 0M395 874l0 0M428 795l-1 0M401 925l0 1M428 934l-1 1M401 918l-1 0M364 903l-0 0M364 918l-0 0M352 793l-0 1M416 912l-0 0M381 957l0 1M392 892l0 2M372 867l2 1M351 858l-0 1M382 812l0 2M348 932l2 1M431 794l-1 1M366 914l0 2M380 898l-0 2M397 772l-2 1M393 960l-1 0M428 927l-2 1M393 823l0 2M364 844l0 1M387 881l0 0M357 935l-0 0M374 821l-2 0"/><path stroke="#62399a" stroke-width="3.8" d="M406 911l-0 0M411 947l0 0M423 838l0 0M417 896l1 1M378 866l1 0M356 892l2 1M377 952l1 1M417 862l-1 0M368 899l-0 0M370 851l-1 0M395 861l0 2M364 891l-1 1M368 820l0 1M401 897l-1 1M430 779l0 0M370 931l1 0M418 845l1 0M390 899l-0 0M428 937l1 0M357 917l-0 0M389 932l1 2M361 899l-0 0M408 897l1 1M349 927l-1 1M408 837l-0 0M397 793l1 2M407 850l2 1M388 838l1 1M413 858l-1 2M345 945l-2 1M369 943l-1 1M387 843l-0 0M423 803l-1 2M421 928l2 0M423 959l-2 0M363 810l1 0M419 843l0 2M374 838l1 0M354 829l0 1M352 816l1 1M378 966l-0 2M349 917l-1 2M353 804l-1 0M388 874l0 1M391 948l-0 0M429 946l1 0M351 825l0 2M359 818l0 0M404 891l-2 1M419 801l-1 0M345 816l-1 1M391 896l-0 0M419 950l0 0M391 805l-1 1M423 803l0 1M415 966l1 0M423 783l2 0M361 771l1 1M355 901l-2 1M394 943l0 0M350 873l1 1M411 836l-0 0M408 933l0 0M423 929l1 0M373 921l0 0M405 826l1 0M428 949l0 0M361 851l1 2M387 964l-2 1M380 925l0 0M355 804l-1 0M431 936l1 1M396 964l-1 1M344 805l1 1M361 831l-1 0M420 872l-2 0M392 846l-1 1M367 911l1 1M348 963l1 1M373 939l-0 0M358 856l-0 0M427 912l2 0M373 866l-2 1M397 917l0 0M348 829l-0 0M391 906l-1 1M409 865l-0 0M425 892l-0 0M422 933l-0 1M430 878l-1 0M387 776l-0 1M389 836l-1 0M418 940l-1 0M371 893l0 0M401 825l-2 0M342 797l-1 1M389 850l0 0M367 948l-1 0M344 823l0 0M346 835l-2 1M355 780l-1 0M416 799l1 1M355 871l-2 0M361 843l0 0M408 896l-1 1M347 908l-0 1M358 898l-0 0M415 916l0 1M407 864l-0 2M416 894l0 1M408 821l-0 1"/><path stroke="#55308f" stroke-width="4.6" d="M381 829l-2 2M380 914l-1 1M347 828l0 1M347 870l-2 0M417 829l1 1M390 930l-1 0M389 853l-0 0M398 846l-1 0M343 923l0 0M395 937l1 1M357 865l2 1M371 923l1 0M394 828l-2 2M356 933l2 1M356 811l-1 0M403 881l1 1M403 964l0 2M387 857l1 1M427 920l1 2M403 798l2 1M422 881l-0 0M354 933l-0 2M385 863l-2 1M357 953l0 0M429 786l0 0M386 821l-0 1M367 878l0 0M385 827l2 1M364 848l-1 1M424 823l-0 1M392 909l-0 1M352 844l-1 1M416 935l1 2M424 964l0 0M355 909l0 0M355 815l2 1M357 930l-1 0M373 805l1 0M426 788l0 1M373 841l2 2M359 824l-1 1M405 816l0 1M369 896l1 2M394 966l2 0M354 873l-0 2M401 849l1 1M400 860l-1 0M357 835l-2 0M404 944l-2 0M376 881l-1 0M341 861l0 1M357 877l-1 1M376 942l1 1M381 809l1 0M403 836l1 2M354 806l-0 1M362 830l-1 1M416 892l0 1M369 919l-0 1M343 888l1 1M430 961l-1 1M368 896l-0 2M391 960l-0 0M411 797l-0 0M389 775l-1 1M406 906l0 0M392 908l1 0M401 860l-1 1M412 878l0 1M394 848l0 1M365 849l2 1M361 862l1 2M409 930l-2 1M362 790l-0 0M356 899l-0 2M370 922l-0 1M416 867l-2 0M360 868l-1 1M389 835l-2 1M345 897l2 1M366 773l2 0M343 933l-0 2M363 829l2 1M405 934l0 0M404 793l1 0M370 944l-1 0M356 841l-0 1M399 852l0 2M373 921l1 1M414 921l0 2M363 931l-0 0M386 958l1 0M426 782l0 0M421 844l-0 0M406 810l-0 1M371 808l-1 1M402 961l-0 0M388 819l-1 1M350 843l-0 0M355 921l-1 2M420 792l-0 1M430 799l-0 0M419 852l1 1M398 884l-2 1M367 855l2 0M367 778l2 1M427 812l-0 1M356 923l0 1M427 773l-0 0M370 778l0 0M357 897l0 0M411 875l0 0M355 925l-1 2M429 828l-1 0M355 844l1 1M397 785l1 0M356 932l1 2"/><path stroke="#e5404f" stroke-width="3.8" d="M347 968l0 1M347 936l-0 1M360 859l0 1M370 839l-1 1M359 787l0 0M353 798l-1 2M415 927l-2 1M352 866l-0 0M411 872l-0 1M421 822l0 2M401 955l-0 2M377 797l-1 0M419 817l2 1M400 879l-1 0M405 844l1 1M377 846l-0 1M365 835l-0 1M428 865l1 1M412 880l0 0M416 884l-1 0M397 809l-1 2M432 823l-0 0M354 773l-1 1M373 873l1 0M392 813l-2 1M357 799l-1 0M421 900l0 0M431 882l1 1M350 907l-2 1M395 907l1 1M383 895l-2 1M394 967l-1 1M389 862l-0 0M403 773l1 2M386 918l-1 2M371 833l-0 0M372 821l-0 1M414 904l-2 0M365 807l-0 0M369 842l1 2M357 853l1 1M360 857l-1 0M361 852l2 0M422 783l-1 1M391 959l-0 0M422 796l-0 1M371 967l1 0M430 790l0 0M391 888l-1 1M419 840l0 0M393 827l0 0M377 946l-0 1M425 919l2 0"/></g>
<path d="M461 865C462.8 864.5 465.2 864.5 467 867C468.8 869.5 470.7 874.5 472 880C473.3 885.5 474.3 892.5 475 900C475.7 907.5 475.7 917.5 476 925C476.3 932.5 476.7 937.8 477 945C477.3 952.2 485.3 964.2 478 968C470.7 971.8 439.7 971.8 433 968C426.3 964.2 436 953 438 945C440 937 443.2 927.5 445 920C446.8 912.5 447.8 905.8 449 900C450.2 894.2 450.8 890 452 885C453.2 880 454.5 873.3 456 870C457.5 866.7 459.2 865.5 461 865Z" fill="#d9a6d2"/>
<g clip-path="url(#c12)" fill="none" stroke-linecap="round"><path stroke="#62399a" stroke-width="4.6" d="M442 865l1 0M476 883l1 2M444 961l-2 0M467 920l-2 1M471 934l1 0M474 940l0 1M462 877l1 0M480 908l-2 0M475 958l-0 0M470 908l-1 0M468 870l0 0M466 901l2 1M438 891l-0 1M439 899l-1 2M442 958l0 1M459 960l-0 1M475 905l0 1M471 936l-0 2M473 890l1 0M438 886l0 0M466 881l-0 1M439 945l1 1M458 894l-0 0M475 918l0 0M460 892l0 0M455 936l0 0M455 954l-0 1M446 866l-0 1M444 878l0 0M477 912l-0 0M463 926l-0 2M437 883l0 1M450 934l-1 0M454 865l0 1M468 966l1 1M446 957l2 0M435 898l-1 0M466 896l-0 0M451 871l0 2M471 871l0 1M453 923l1 1M443 862l-0 0M472 959l-0 0M455 926l-0 1M435 925l1 2M436 888l0 0"/><path stroke="#4a2882" stroke-width="4.6" d="M475 899l1 1M432 922l-1 2M444 890l-1 1M449 884l-1 0M454 896l1 2M447 947l-0 0M440 895l-1 0M457 927l-0 1M466 959l0 0M478 891l1 1M475 961l0 0M443 949l1 1M455 929l-2 0M457 926l-0 0M477 910l-1 0M469 916l-1 1M445 913l-1 0M447 877l-1 1M464 875l0 1M479 891l-1 0M460 884l1 1M453 919l0 0M444 934l0 1M458 931l1 1M470 936l0 2M476 913l-1 1M455 950l-1 2M463 868l1 1M446 943l1 2M451 862l-1 0M449 866l0 0M472 880l0 1M441 889l0 0M452 922l2 1M470 870l1 2M444 892l1 2M437 913l-2 0M436 912l-0 1M439 902l1 1M454 926l0 0M457 908l-0 0M473 961l0 1M478 927l0 0"/><path stroke="#e5404f" stroke-width="3.8" d="M436 915l-2 0M460 863l-0 0M443 864l0 1M456 867l1 1M453 891l1 1M458 863l-0 0M469 965l-0 0M447 888l1 1M456 969l-1 2M454 945l-1 2M479 940l1 1M469 920l1 0M461 965l0 0M473 872l0 0M471 870l-0 0M472 938l-1 1M474 866l1 1M461 909l-0 0M479 873l-0 2M440 861l-1 2M432 918l-1 0M441 923l-1 0M469 908l-1 1M447 917l-0 0M438 939l2 1M435 881l1 0M454 960l-0 2M444 907l-0 0M479 921l1 0M439 925l1 1"/><path stroke="#e5404f" stroke-width="4.6" d="M440 880l-0 0M476 935l-1 1M475 896l1 0M466 963l0 2M475 894l-0 0M434 970l-1 2M450 927l-1 0M435 957l0 1M435 942l0 0M436 882l-0 1M473 964l-1 1M433 861l-1 1M436 935l-0 0M455 950l-0 0M443 917l0 1M453 915l-2 1M432 861l-2 0M470 879l-0 0M443 901l0 0M436 875l-1 1M469 867l0 1"/><path stroke="#4a2882" stroke-width="3.8" d="M470 960l-0 1M434 908l-0 0M448 912l-0 0M453 949l0 1M438 885l1 1M448 926l-1 0M472 943l-0 0M475 924l-0 1M463 963l-1 2M468 874l-1 2M459 962l-1 1M448 938l-0 1M463 863l2 1M431 888l-0 1M432 900l-0 1M473 905l-1 0M439 944l-2 1M456 909l1 1M446 895l-2 0M474 909l0 0M446 869l0 0M453 924l1 1M475 969l0 0M479 892l-2 1M446 922l-1 1M464 955l0 0M430 896l2 0M471 905l-0 0M442 902l0 0M462 965l-0 2M464 865l-0 1M449 954l-1 0M462 959l-0 1M442 934l1 1M437 927l1 0M455 960l-0 1M466 932l-0 1M440 933l2 1M480 933l0 1M464 895l0 0M458 871l2 0M473 914l1 0M472 892l1 1M443 944l-0 1M480 885l1 1M463 951l0 1M433 900l-1 1"/><path stroke="#55308f" stroke-width="3.8" d="M468 903l-1 0M463 945l1 2M444 876l2 0M430 935l-1 0M441 936l-0 2M466 959l-0 0M472 951l0 2M432 950l1 1M432 869l1 1M469 902l0 0M433 901l2 0M451 896l0 0M451 965l0 0M477 957l0 0M479 925l-1 0M466 933l-0 0M468 893l1 1M438 966l2 1M464 936l0 0M449 956l0 1M460 863l0 0M461 906l-1 1M463 951l-1 0M472 951l2 1M465 936l1 0M456 966l-1 0M470 880l0 2M435 884l2 1M455 865l1 0M443 954l2 1M432 881l-0 2M442 895l0 0M430 961l-0 1M437 895l0 2M474 945l-2 0M475 872l-1 1M438 966l0 0M460 888l-1 2M464 955l-1 1M455 881l-1 0M469 949l-0 0M453 880l-1 0M430 948l1 2M449 954l0 1M456 958l-1 1M473 916l-0 1M457 870l-1 0M453 890l0 2M444 967l1 2M436 893l-1 0M466 919l1 0M464 917l2 1"/><path stroke="#55308f" stroke-width="4.6" d="M452 901l0 0M432 880l-1 0M440 880l-2 1M468 894l-1 2M458 917l-0 0M430 944l2 0M439 927l-0 0M451 910l-1 0M456 931l1 0M453 925l-1 1M467 924l1 1M466 942l-2 0M453 893l-1 2M465 931l2 0M480 965l-2 0M458 908l0 1M469 928l-1 0M479 940l0 1M450 936l-0 1M448 881l0 0M464 970l-2 0M473 962l-0 2M463 937l-0 1M467 952l0 1M446 932l0 0M455 949l1 1M460 871l-0 2M443 964l0 1M442 903l1 0M464 920l-0 0M434 894l2 0M479 906l1 0M452 893l-2 0M476 949l0 0M463 931l-0 0M457 871l-0 0M477 901l2 0M478 941l1 1M436 929l-1 1M479 936l-2 1M478 866l-0 1M431 930l-1 1M437 943l-0 0M468 907l-0 2M459 868l0 0"/><path stroke="#62399a" stroke-width="3.8" d="M456 922l0 0M442 873l1 1M472 924l0 0M457 956l1 1M473 931l0 1M474 949l1 1M472 901l-2 1M470 881l0 0M465 915l-1 1M440 889l2 0M439 881l-0 0M463 923l-0 0M475 889l1 1M453 908l1 1M446 889l-1 0M470 898l-1 0M453 957l-1 1M454 949l2 0M471 942l1 0M465 909l-2 1M467 964l-0 1M477 896l-2 1M459 865l2 2M469 926l1 1M466 954l1 0M438 953l1 0M477 891l0 0M472 968l0 0M449 947l2 1M466 904l-1 0M453 939l1 1M433 908l-1 0M474 928l-1 0M475 949l-0 0M478 936l-0 0M448 919l2 1M465 878l1 2M453 902l-0 0M479 882l-0 0M446 885l-1 1M468 878l0 0M477 935l-0 0M472 875l-0 1M438 882l0 1M459 922l0 1M446 959l-0 0"/></g>
<path d="M488 752C486 752.7 479.3 752.7 476 756C472.7 759.3 469.8 764.7 468 772C466.2 779.3 466.2 790.7 465 800C463.8 809.3 461.3 819.3 461 828C460.7 836.7 461.7 844.2 463 852C464.3 859.8 466.5 869 469 875C471.5 881 474.8 885.2 478 888C481.2 890.8 486.3 891.3 488 892Z" fill="#de86b0"/>
<path d="M488 760C486.8 760.8 483 761.7 481 765C479 768.3 477.2 774.2 476 780C474.8 785.8 474.7 792 474 800C473.3 808 472 819.7 472 828C472 836.3 472.8 842.7 474 850C475.2 857.3 476.7 866.7 479 872C481.3 877.3 486.5 880.3 488 882Z" fill="#74469e"/>
<g clip-path="url(#c13)" fill="none" stroke-linecap="round"><path stroke="#4a2882" stroke-width="3.6" d="M468 819l-1 0M474 782l2 0M477 863l0 1M471 824l-1 1M486 806l-0 0M475 756l-0 0"/><path stroke="#4a2882" stroke-width="3" d="M475 885l0 0M485 789l-2 1M481 830l1 2M472 876l0 1M487 868l-1 2M475 818l-1 1M482 824l-1 1M487 855l-0 0"/><path stroke="#55308f" stroke-width="3.6" d="M467 783l-1 1M488 763l1 1M482 865l0 0M483 853l-2 2"/><path stroke="#62399a" stroke-width="3.6" d="M486 810l-1 0M468 783l0 0M466 830l-1 1M475 772l1 0M484 859l1 0M475 879l0 0"/><path stroke="#62399a" stroke-width="3" d="M470 779l1 2M465 828l0 1"/><path stroke="#55308f" stroke-width="3" d="M471 831l0 0M479 850l0 0M471 837l-2 1M469 797l0 1"/></g>
<path d="M480 900L485 895L485 960L481 960Z" fill="#e294bb"/>
<path d="M410 697C413.3 695.3 433.7 695.5 440 698C446.3 700.5 448 708.7 448 712C448 715.3 444.7 718.7 440 718C435.3 717.3 425 711.5 420 708C415 704.5 406.7 698.7 410 697Z" fill="#f3d6e4"/>
<path d="M340 700C345 720 350 735 352 760M385 739L440 737M318 741C322 760 328 775 340 790" stroke="#9a86c8" stroke-width="1.2" fill="none"/>
<path d="M325 730l3 3" stroke="#222" stroke-width="2.5" fill="none"/>
<circle cx="236" cy="704" r="2" fill="#3d2270"/>
<circle cx="266" cy="714" r="2" fill="#3d2270"/>
<circle cx="116" cy="754" r="2" fill="#3d2270"/>
<circle cx="124" cy="763" r="2" fill="#3d2270"/>
<path d="M485 680H507V1360H485ZM92 680H100V1360H92ZM92 1349H493V1360H92ZM92 680H493V695.5H92Z" fill="#fff"/>
<rect x="508" y="695" width="386.3" height="729" fill="#fdf4f4"/>
<rect x="508" y="695" width="386.3" height="40" fill="#fdf7f6"/>
<path d="M508 919L514 911.6L528 907L545 910L550 916L556 913L582 918.6L598 921L613 927L625 938L644 948.7L659 956.4L669 970.3L675 985.8L672 998L680 1001L690 1005.8L704 1013L712 1025L722 1040L732 1058L742 1072L752 1088L745 1070L735 1052L725 1033L718 1018L716 1005L716 995L720 984L727 973L738 966L748 961L735 957L722 950L715 941L718 932L724 925.5L738.6 923.2L752.5 922.4L761.8 917L792.7 910L823.6 910L854.4 914.7L885.3 928.6L894.3 936L894.3 1262L870 1265L850 1268L818 1272L810 1277L767 1283.6L700 1288.6L655 1293.7L605 1297L555 1302L508 1318Z" fill="#c088bf"/>
<g clip-path="url(#c14)"><path d="M508 905C516.7 898.3 541.3 902.5 560 905C578.7 907.5 600 910.8 620 920C640 929.2 668.3 946.7 680 960C691.7 973.3 693.3 995 690 1000C686.7 1005 670 996.7 660 990C650 983.3 641.7 967.5 630 960C618.3 952.5 603.3 948.3 590 945C576.7 941.7 563.7 940 550 940C536.3 940 515 950.8 508 945C501 939.2 499.3 911.7 508 905Z" fill="#c78dc3"/><path d="M508 1205C560 1218 620 1210 680 1205C740 1208 800 1198 894.3 1192L894.3 1300L508 1330Z" fill="#f1cfdd"/><path d="M508 1248C600 1252 700 1242 894.3 1228L894.3 1262L508 1300Z" fill="#f5dae5"/><path d="M542 1222C544.5 1217.7 560.3 1214.7 570 1214C579.7 1213.3 594.5 1215 600 1218C605.5 1221 605.5 1228.3 603 1232C600.5 1235.7 593 1238.7 585 1240C577 1241.3 562.2 1243 555 1240C547.8 1237 539.5 1226.3 542 1222Z" fill="#fcf0f3"/><path d="M616 1220C618 1218 628.7 1216.7 632 1218C635.3 1219.3 638 1226 636 1228C634 1230 623.3 1231.3 620 1230C616.7 1228.7 614 1222 616 1220Z" fill="#fcf0f3"/><path d="M700 1215C701.3 1212.8 709.3 1210.8 712 1212C714.7 1213.2 717.3 1219.8 716 1222C714.7 1224.2 706.7 1226.2 704 1225C701.3 1223.8 698.7 1217.2 700 1215Z" fill="#fcf0f3"/><path d="M560 955C570.3 945 595 945.8 610 950C625 954.2 640.8 965 650 980C659.2 995 663.3 1020 665 1040C666.7 1060 665.8 1085 660 1100C654.2 1115 642.5 1126.7 630 1130C617.5 1133.3 596.7 1130 585 1120C573.3 1110 566.2 1088.3 560 1070C553.8 1051.7 548 1029.2 548 1010C548 990.8 549.7 965 560 955Z" fill="#9f63af" opacity="0.8"/><path d="M580 990C586.7 979.2 610 978.3 620 985C630 991.7 638.3 1014.2 640 1030C641.7 1045.8 636.7 1070 630 1080C623.3 1090 608.3 1095 600 1090C591.7 1085 583.3 1066.7 580 1050C576.7 1033.3 573.3 1000.8 580 990Z" fill="#8f57a8" opacity="0.7"/><path d="M508 941C511.7 938.8 523 938.5 530 940C537 941.5 550 947.7 550 950C550 952.3 537 953.5 530 954C523 954.5 511.7 955.2 508 953C504.3 950.8 504.3 943.2 508 941Z" fill="#fbeef2"/><path d="M508 1045C511.7 1043.2 523.8 1043.2 530 1044C536.2 1044.8 545 1048.2 545 1050C545 1051.8 536.2 1054.2 530 1055C523.8 1055.8 511.7 1056.7 508 1055C504.3 1053.3 504.3 1046.8 508 1045Z" fill="#fbeef2"/><path d="M508 1075C511.7 1068.3 523.3 1068.3 530 1070C536.7 1071.7 546.3 1080 548 1085C549.7 1090 545.5 1095.8 540 1100C534.5 1104.2 520.3 1108.3 515 1110C509.7 1111.7 509.2 1115.8 508 1110C506.8 1104.2 504.3 1081.7 508 1075Z" fill="#ecd0e0"/><path d="M768 940C773 935.2 789.7 934.3 800 936C810.3 937.7 821.7 943.5 830 950C838.3 956.5 844.7 965 850 975C855.3 985 859.3 997.5 862 1010C864.7 1022.5 865.7 1036.7 866 1050C866.3 1063.3 865.7 1079.2 864 1090C862.3 1100.8 859.2 1107.5 856 1115C852.8 1122.5 851 1132.2 845 1135C839 1137.8 826.7 1133.7 820 1132C813.3 1130.3 809.2 1129.5 805 1125C800.8 1120.5 797.5 1113.3 795 1105C792.5 1096.7 791.7 1085.8 790 1075C788.3 1064.2 787 1052.5 785 1040C783 1027.5 780.5 1012.5 778 1000C775.5 987.5 771.7 975 770 965C768.3 955 763 944.8 768 940Z" fill="#e2556f"/><path d="M652 1030C658.3 1021.7 681.2 1018.3 690 1020C698.8 1021.7 702.5 1028.3 705 1040C707.5 1051.7 707.5 1078.3 705 1090C702.5 1101.7 697.2 1108.3 690 1110C682.8 1111.7 668.3 1106.7 662 1100C655.7 1093.3 653.7 1081.7 652 1070C650.3 1058.3 645.7 1038.3 652 1030Z" fill="#de5a76"/><path d="M700 1092C706.7 1085 743.3 1086.7 760 1088C776.7 1089.3 785 1096 800 1100C815 1104 840 1105.3 850 1112C860 1118.7 871.7 1135.3 860 1140C848.3 1144.7 803.3 1141.7 780 1140C756.7 1138.3 733.3 1138 720 1130C706.7 1122 693.3 1099 700 1092Z" fill="#de5c78"/><path d="M850 930C856.9 925.8 886.9 915 894.3 935C901.7 955 898 1031.7 894.3 1050C890.6 1068.3 877.4 1053.3 872 1045C866.6 1036.7 865.2 1014.2 862 1000C858.8 985.8 855 971.7 853 960C851 948.3 843.1 934.2 850 930Z" fill="#9d62af"/><path d="M716 940C716 934.5 726 929.7 740 925C754 920.3 781.7 913.7 800 912C818.3 910.3 840 912 850 915C860 918 868.3 926.7 860 930C851.7 933.3 816.7 932.5 800 935C783.3 937.5 770 941.2 760 945C750 948.8 747.3 958.8 740 958C732.7 957.2 716 945.5 716 940Z" fill="#c48ac2"/><path d="M716 1000C715.2 989.2 725.2 985 730 985C734.8 985 740 990.8 745 1000C750 1009.2 755 1026.7 760 1040C765 1053.3 773.3 1070 775 1080C776.7 1090 773.3 1098.3 770 1100C766.7 1101.7 760.8 1098.3 755 1090C749.2 1081.7 741.5 1065 735 1050C728.5 1035 716.8 1010.8 716 1000Z" fill="#a469b2"/><path d="M508 1140C516.7 1129.2 551.3 1137.5 560 1150C568.7 1162.5 568.7 1204.2 560 1215C551.3 1225.8 516.7 1227.5 508 1215C499.3 1202.5 499.3 1150.8 508 1140Z" fill="#d47fa1"/><path d="M620 1140C623.3 1128.3 636.7 1128.3 640 1140C643.3 1151.7 643.3 1198.3 640 1210C636.7 1221.7 623.3 1221.7 620 1210C616.7 1198.3 616.7 1151.7 620 1140Z" fill="#d47fa1"/><path d="M776 1140C781 1130 801 1130 806 1140C811 1150 811 1190 806 1200C801 1210 781 1210 776 1200C771 1190 771 1150 776 1140Z" fill="#d88aa8"/><path d="M508 1090C516.7 1076.7 542.3 1089.2 560 1090C577.7 1090.8 605.3 1086.7 614 1095C622.7 1103.3 617.7 1128.2 612 1140C606.3 1151.8 592 1162.7 580 1166C568 1169.3 552 1159.3 540 1160C528 1160.7 513.3 1181.7 508 1170C502.7 1158.3 499.3 1103.3 508 1090Z" fill="#8f57a9"/><path d="M645 1090C654.5 1080.3 695 1082 705 1092C715 1102 707.5 1130.7 705 1150C702.5 1169.3 696.2 1199.7 690 1208C683.8 1216.3 675 1209.7 668 1200C661 1190.3 651.8 1168.3 648 1150C644.2 1131.7 635.5 1099.7 645 1090Z" fill="#8c55a8"/><path d="M730 1090C738.7 1084.5 775 1085.3 784 1092C793 1098.7 788 1123.3 784 1130C780 1136.7 768.7 1132.8 760 1132C751.3 1131.2 737 1132 732 1125C727 1118 721.3 1095.5 730 1090Z" fill="#9660ad"/><path d="M510 1174C512.8 1165.3 523.7 1171.7 527 1176C530.3 1180.3 530.3 1191.3 530 1200C529.7 1208.7 528.3 1223.3 525 1228C521.7 1232.7 512.5 1237 510 1228C507.5 1219 507.2 1182.7 510 1174Z" fill="#7a4a9e"/><path d="M559 1150C561.5 1140.3 566.5 1138.7 575 1137C583.5 1135.3 601.5 1136.2 610 1140C618.5 1143.8 623.5 1150.8 626 1160C628.5 1169.2 627.7 1187 625 1195C622.3 1203 618.3 1205.8 610 1208C601.7 1210.2 583.3 1210.2 575 1208C566.7 1205.8 562.7 1204.7 560 1195C557.3 1185.3 556.5 1159.7 559 1150Z" fill="#77479d"/><path d="M631 1150C633.8 1140.8 644.3 1143.3 650 1145C655.7 1146.7 662.5 1150.8 665 1160C667.5 1169.2 667.5 1192 665 1200C662.5 1208 655.3 1208 650 1208C644.7 1208 636.2 1209.7 633 1200C629.8 1190.3 628.2 1159.2 631 1150Z" fill="#77479d"/><path d="M706 1128C708.5 1120.3 721 1122 730 1124C739 1126 752.3 1132.3 760 1140C767.7 1147.7 774.3 1161.3 776 1170C777.7 1178.7 776 1188.2 770 1192C764 1195.8 749.2 1196.7 740 1193C730.8 1189.3 720.7 1180.8 715 1170C709.3 1159.2 703.5 1135.7 706 1128Z" fill="#77479d"/><path d="M815 1105C823 1100.5 850.5 1098.8 860 1103C869.5 1107.2 870.3 1118 872 1130C873.7 1142 874.5 1165.3 870 1175C865.5 1184.7 855 1186.3 845 1188C835 1189.7 816.8 1189.7 810 1185C803.2 1180.3 803.7 1169.2 804 1160C804.3 1150.8 810.2 1139.2 812 1130C813.8 1120.8 807 1109.5 815 1105Z" fill="#77479d"/><path d="M884 1115C886 1106 894.2 1103.2 896.3 1112C898.3 1120.8 898.3 1159 896.3 1168C894.2 1177 886 1174.8 884 1166C882 1157.2 882 1124 884 1115Z" fill="#77479d"/><path d="M579 1176C581.5 1173.7 594 1175.2 597 1178C600 1180.8 599.5 1190.7 597 1193C594.5 1195.3 585 1194.8 582 1192C579 1189.2 576.5 1178.3 579 1176Z" fill="#fbeef3"/><path d="M740 1158C740.7 1153.8 747.3 1152.3 750 1156C752.7 1159.7 756.7 1175.8 756 1180C755.3 1184.2 748.7 1184.7 746 1181C743.3 1177.3 739.3 1162.2 740 1158Z" fill="#fbeef3"/><path d="M820 1163C822.7 1160.7 835.3 1158.8 838 1161C840.7 1163.2 838.7 1173.7 836 1176C833.3 1178.3 824.7 1177.2 822 1175C819.3 1172.8 817.3 1165.3 820 1163Z" fill="#fbeef3"/></g>
<g clip-path="url(#c14)" fill="none"><path d="M500 921C502.3 919.4 509.3 913.9 514 911.6C518.7 909.3 522.8 907.3 528 907C533.2 906.7 541.3 908.5 545 910C548.7 911.5 548.2 915.5 550 916C551.8 916.5 550.7 912.6 556 913C561.3 913.4 575 917.3 582 918.6C589 919.9 592.8 919.6 598 921C603.2 922.4 608.5 924.2 613 927C617.5 929.8 619.8 934.4 625 938C630.2 941.6 638.3 945.6 644 948.7C649.7 951.8 654.8 952.8 659 956.4C663.2 960 666.3 965.4 669 970.3C671.7 975.2 674.5 981.2 675 985.8C675.5 990.4 671.2 995.5 672 998C672.8 1000.5 677 999.7 680 1001C683 1002.3 686 1003.8 690 1005.8C694 1007.8 700.3 1009.8 704 1013C707.7 1016.2 709 1020.5 712 1025C715 1029.5 718.7 1034.5 722 1040C725.3 1045.5 728.7 1052.7 732 1058C735.3 1063.3 738.7 1067 742 1072C745.3 1077 750.3 1085.3 752 1088M752 1088C750.8 1085 747.8 1076 745 1070C742.2 1064 738.3 1058.2 735 1052C731.7 1045.8 727.8 1038.7 725 1033C722.2 1027.3 719.5 1022.7 718 1018C716.5 1013.3 716.3 1008.8 716 1005C715.7 1001.2 715.3 998.5 716 995C716.7 991.5 718.2 987.7 720 984C721.8 980.3 724 976 727 973C730 970 734.5 968 738 966C741.5 964 748.5 962.5 748 961C747.5 959.5 739.3 958.8 735 957C730.7 955.2 725.3 952.7 722 950C718.7 947.3 715.7 944 715 941C714.3 938 716.5 934.6 718 932C719.5 929.4 720.6 927 724 925.5C727.4 924 733.9 923.7 738.6 923.2C743.4 922.7 748.6 923.4 752.5 922.4C756.4 921.4 755.1 919.1 761.8 917C768.5 914.9 782.4 911.2 792.7 910C803 908.8 813.3 909.2 823.6 910C833.9 910.8 844.1 911.6 854.4 914.7C864.7 917.8 877.7 924.4 885.3 928.6C892.9 932.8 897.5 938.1 900 940" stroke="#c792c7" stroke-width="34"/><path d="M500 921C502.3 919.4 509.3 913.9 514 911.6C518.7 909.3 522.8 907.3 528 907C533.2 906.7 541.3 908.5 545 910C548.7 911.5 548.2 915.5 550 916C551.8 916.5 550.7 912.6 556 913C561.3 913.4 575 917.3 582 918.6C589 919.9 592.8 919.6 598 921C603.2 922.4 608.5 924.2 613 927C617.5 929.8 619.8 934.4 625 938C630.2 941.6 638.3 945.6 644 948.7C649.7 951.8 654.8 952.8 659 956.4C663.2 960 666.3 965.4 669 970.3C671.7 975.2 674.5 981.2 675 985.8C675.5 990.4 671.2 995.5 672 998C672.8 1000.5 677 999.7 680 1001C683 1002.3 686 1003.8 690 1005.8C694 1007.8 700.3 1009.8 704 1013C707.7 1016.2 709 1020.5 712 1025C715 1029.5 718.7 1034.5 722 1040C725.3 1045.5 728.7 1052.7 732 1058C735.3 1063.3 738.7 1067 742 1072C745.3 1077 750.3 1085.3 752 1088M752 1088C750.8 1085 747.8 1076 745 1070C742.2 1064 738.3 1058.2 735 1052C731.7 1045.8 727.8 1038.7 725 1033C722.2 1027.3 719.5 1022.7 718 1018C716.5 1013.3 716.3 1008.8 716 1005C715.7 1001.2 715.3 998.5 716 995C716.7 991.5 718.2 987.7 720 984C721.8 980.3 724 976 727 973C730 970 734.5 968 738 966C741.5 964 748.5 962.5 748 961C747.5 959.5 739.3 958.8 735 957C730.7 955.2 725.3 952.7 722 950C718.7 947.3 715.7 944 715 941C714.3 938 716.5 934.6 718 932C719.5 929.4 720.6 927 724 925.5C727.4 924 733.9 923.7 738.6 923.2C743.4 922.7 748.6 923.4 752.5 922.4C756.4 921.4 755.1 919.1 761.8 917C768.5 914.9 782.4 911.2 792.7 910C803 908.8 813.3 909.2 823.6 910C833.9 910.8 844.1 911.6 854.4 914.7C864.7 917.8 877.7 924.4 885.3 928.6C892.9 932.8 897.5 938.1 900 940" stroke="#6e429e" stroke-width="27" stroke-dasharray="2.2 1.8" opacity="0.85"/><path d="M500 921C502.3 919.4 509.3 913.9 514 911.6C518.7 909.3 522.8 907.3 528 907C533.2 906.7 541.3 908.5 545 910C548.7 911.5 548.2 915.5 550 916C551.8 916.5 550.7 912.6 556 913C561.3 913.4 575 917.3 582 918.6C589 919.9 592.8 919.6 598 921C603.2 922.4 608.5 924.2 613 927C617.5 929.8 619.8 934.4 625 938C630.2 941.6 638.3 945.6 644 948.7C649.7 951.8 654.8 952.8 659 956.4C663.2 960 666.3 965.4 669 970.3C671.7 975.2 674.5 981.2 675 985.8C675.5 990.4 671.2 995.5 672 998C672.8 1000.5 677 999.7 680 1001C683 1002.3 686 1003.8 690 1005.8C694 1007.8 700.3 1009.8 704 1013C707.7 1016.2 709 1020.5 712 1025C715 1029.5 718.7 1034.5 722 1040C725.3 1045.5 728.7 1052.7 732 1058C735.3 1063.3 738.7 1067 742 1072C745.3 1077 750.3 1085.3 752 1088M752 1088C750.8 1085 747.8 1076 745 1070C742.2 1064 738.3 1058.2 735 1052C731.7 1045.8 727.8 1038.7 725 1033C722.2 1027.3 719.5 1022.7 718 1018C716.5 1013.3 716.3 1008.8 716 1005C715.7 1001.2 715.3 998.5 716 995C716.7 991.5 718.2 987.7 720 984C721.8 980.3 724 976 727 973C730 970 734.5 968 738 966C741.5 964 748.5 962.5 748 961C747.5 959.5 739.3 958.8 735 957C730.7 955.2 725.3 952.7 722 950C718.7 947.3 715.7 944 715 941C714.3 938 716.5 934.6 718 932C719.5 929.4 720.6 927 724 925.5C727.4 924 733.9 923.7 738.6 923.2C743.4 922.7 748.6 923.4 752.5 922.4C756.4 921.4 755.1 919.1 761.8 917C768.5 914.9 782.4 911.2 792.7 910C803 908.8 813.3 909.2 823.6 910C833.9 910.8 844.1 911.6 854.4 914.7C864.7 917.8 877.7 924.4 885.3 928.6C892.9 932.8 897.5 938.1 900 940" stroke="#d895c5" stroke-width="11"/><path d="M500 921C502.3 919.4 509.3 913.9 514 911.6C518.7 909.3 522.8 907.3 528 907C533.2 906.7 541.3 908.5 545 910C548.7 911.5 548.2 915.5 550 916C551.8 916.5 550.7 912.6 556 913C561.3 913.4 575 917.3 582 918.6C589 919.9 592.8 919.6 598 921C603.2 922.4 608.5 924.2 613 927C617.5 929.8 619.8 934.4 625 938C630.2 941.6 638.3 945.6 644 948.7C649.7 951.8 654.8 952.8 659 956.4C663.2 960 666.3 965.4 669 970.3C671.7 975.2 674.5 981.2 675 985.8C675.5 990.4 671.2 995.5 672 998C672.8 1000.5 677 999.7 680 1001C683 1002.3 686 1003.8 690 1005.8C694 1007.8 700.3 1009.8 704 1013C707.7 1016.2 709 1020.5 712 1025C715 1029.5 718.7 1034.5 722 1040C725.3 1045.5 728.7 1052.7 732 1058C735.3 1063.3 738.7 1067 742 1072C745.3 1077 750.3 1085.3 752 1088M752 1088C750.8 1085 747.8 1076 745 1070C742.2 1064 738.3 1058.2 735 1052C731.7 1045.8 727.8 1038.7 725 1033C722.2 1027.3 719.5 1022.7 718 1018C716.5 1013.3 716.3 1008.8 716 1005C715.7 1001.2 715.3 998.5 716 995C716.7 991.5 718.2 987.7 720 984C721.8 980.3 724 976 727 973C730 970 734.5 968 738 966C741.5 964 748.5 962.5 748 961C747.5 959.5 739.3 958.8 735 957C730.7 955.2 725.3 952.7 722 950C718.7 947.3 715.7 944 715 941C714.3 938 716.5 934.6 718 932C719.5 929.4 720.6 927 724 925.5C727.4 924 733.9 923.7 738.6 923.2C743.4 922.7 748.6 923.4 752.5 922.4C756.4 921.4 755.1 919.1 761.8 917C768.5 914.9 782.4 911.2 792.7 910C803 908.8 813.3 909.2 823.6 910C833.9 910.8 844.1 911.6 854.4 914.7C864.7 917.8 877.7 924.4 885.3 928.6C892.9 932.8 897.5 938.1 900 940" stroke="#e58cbf" stroke-width="3"/></g>
<g clip-path="url(#c14)" fill="none" stroke-linecap="round"><path stroke="#4a2882" stroke-width="2.6" d="M654 1074l1 1M587 967l2 0M842 1089l-1 1M589 1063l1 2M764 1134l0 1M670 1127l-1 1M852 1060l-0 1M879 1148l-1 1M887 1107l-2 1M530 912l1 0M651 1150l-1 1M576 995l0 0M821 1097l2 0M858 1133l-2 0M775 928l2 1M733 968l1 2M569 953l-2 1M826 1131l-0 0M589 1163l1 0M783 1128l2 0M592 1024l-1 0M596 1139l-1 2M774 1092l1 0M515 1100l-0 0M573 925l1 2M527 987l0 2M621 969l1 2M578 923l2 1M747 1122l-1 1M841 1152l2 0M708 909l-1 0M643 1064l-2 0M582 963l-2 1M654 906l0 1M696 1080l1 1M603 1074l0 1M795 1075l1 1M645 985l-0 0M888 987l-1 2M851 919l-1 0M879 1178l1 1M591 1199l1 1M848 1020l-2 0M886 1184l0 1M686 985l-1 0M832 1056l-1 2M559 1119l2 1M517 917l-2 0M880 1165l1 1M523 1096l0 0M771 1043l-0 2M813 1128l-0 2M777 1025l0 0M701 934l-1 1M886 986l-1 2M685 1131l-1 2M659 949l-1 0M734 945l-1 1M811 1066l-2 0M668 1116l1 0M612 1168l-0 0M800 1177l0 1M678 1064l-1 2M611 1058l1 2M537 1036l-0 2M626 1195l0 1M624 1030l-0 0M721 1006l-1 1M688 1102l-1 2M588 1033l2 1M891 1001l0 2M833 1186l-0 0M799 1183l-1 1M710 1033l1 2M703 1076l0 2M648 1022l-0 0M800 914l-0 1M540 1025l0 0M681 1057l1 2M721 1075l0 0M608 920l0 2M812 957l0 1M666 1033l-0 1M560 1155l-1 1M642 1107l0 1M537 983l-0 0M574 915l0 1M702 1003l0 1M637 1141l-1 2M845 1031l0 0M602 928l-1 1M521 1147l-0 0M555 1010l0 2M683 1194l2 0M667 1028l0 1M513 993l1 1M596 1071l-1 1M527 1147l-0 1M788 1139l-2 0M873 1180l0 0M711 1077l-1 2M684 1057l1 0M545 923l1 1M774 1080l2 0M658 1017l-0 1M761 1123l-0 1M741 1098l1 1M775 1083l-1 0M607 1183l-0 0M790 1116l-0 0M521 930l0 1M534 959l-0 0M820 1045l2 0M892 1006l1 1M666 1044l1 2M830 1197l0 1M891 1077l0 1M617 1028l-0 1M602 1186l-0 1M885 1134l-1 2M572 1026l-1 2M770 1089l-0 0M658 1199l0 1M714 1200l1 0M680 953l0 0M587 1013l0 1M682 1036l1 0M825 919l0 0M799 1102l0 0M632 1091l-1 1M590 1119l-0 0M822 1122l1 1M718 1072l-0 2M772 1119l0 1M812 937l-2 0M723 985l-1 0M648 1067l2 1M718 954l-0 0M597 1109l1 1M575 1094l1 0M600 994l1 1M742 1178l1 2M679 1027l0 0M584 998l-0 1M746 981l0 1M726 1122l-2 1M559 1175l0 0M648 1190l2 1M717 1119l1 1M844 906l-0 0M617 988l-1 1"/><path stroke="#62399a" stroke-width="2.6" d="M511 906l1 0M536 943l-1 0M522 995l0 0M854 1144l-0 0M686 954l-0 0M834 934l2 1M759 1199l0 1M805 1107l-0 1M800 1038l-0 1M641 1122l-0 2M744 1166l-1 2M780 1114l1 2M866 1126l-0 0M633 1018l-0 0M608 1076l-1 0M739 1110l0 2M801 1132l0 0M569 1123l1 1M562 956l-0 0M613 1022l2 0M877 965l-1 0M707 978l0 0M527 1085l-2 1M661 939l1 1M688 921l0 0M687 910l0 0M862 1022l-1 0M783 960l-1 0M721 1053l2 1M615 931l-0 0M520 926l1 1M709 1002l-2 1M817 1048l-0 0M795 991l-2 1M877 1177l1 0M715 1125l1 1M825 985l1 2M727 987l-2 0M547 997l-0 1M718 1175l2 1M732 1071l-1 1M868 941l1 2M735 1168l1 1M524 1006l-0 0M623 1079l2 1M606 1062l-1 2M600 979l-0 1M803 998l-2 1M603 1154l-2 0M692 1186l-2 2M559 1137l-0 0M590 1157l0 0M664 1057l-0 1M802 1041l-2 1M784 1023l0 0M738 988l2 2M779 1169l-0 0M516 1179l0 0M656 1144l0 1M624 1129l0 0M709 981l-0 0M622 1118l1 2M617 1083l1 1M556 1055l0 2M676 1111l2 0M565 1079l-1 0M518 1187l-2 1M812 1091l0 0M513 1089l1 1M522 1141l-1 1M517 961l2 1M845 1031l-0 1M589 1166l-1 1M821 1014l-0 0M769 1117l-0 0M584 1093l-0 0M727 1048l-1 2M883 1171l-0 0M785 925l0 1M699 1028l-1 0M512 1071l0 1M518 1083l0 1M585 916l0 1M512 998l-1 2M750 1190l-0 0M741 982l-0 1M776 1011l-0 0M510 1086l0 0M678 972l-2 1M653 1159l1 0M748 949l0 0M872 1169l-0 1M601 940l0 1M618 1096l-1 2M663 1072l0 0M815 1116l1 1M885 1032l-2 1M728 1062l-0 0M511 1162l-1 1M615 1200l-2 1M512 1196l-2 1M599 1009l1 1M793 1141l1 0M709 1060l0 0M758 1009l1 0M810 1015l0 1M526 911l0 0M559 1020l0 2M645 948l1 2M758 1077l-0 1M605 1197l-2 0M863 1184l1 2M620 1085l-2 0M613 942l1 1M843 1097l1 0M870 1067l-2 1M823 921l-1 0M518 906l0 0M763 1005l0 0M685 1042l0 2M846 1176l1 2M563 968l1 0M591 1011l1 0M731 976l-1 2M556 922l1 2M823 1013l-0 0M700 1059l-0 2M600 1001l-1 1M747 967l-1 0M608 1108l-1 1M591 1056l-0 1M658 932l-0 0M676 1135l1 1M657 1163l-1 2M574 946l1 1M877 1174l-0 0M712 1176l0 2M749 987l0 1M799 1169l-1 1M806 973l1 1M838 1085l0 1M877 1101l1 1M834 1134l-0 0M767 1125l-1 1M620 1125l0 1M562 972l-0 1M856 1184l-0 0M807 1158l2 0M580 951l-0 1M779 1163l1 1M775 963l-1 1M701 932l1 0M869 974l1 0M683 1127l-0 0M841 1100l0 0M595 1068l-1 0M804 963l-0 0M635 1119l0 0M573 991l-0 0M554 1086l-2 1M536 985l-2 0M865 1068l0 0M542 1012l-1 0M545 1081l-0 0M793 1092l-1 1M711 1170l0 0M864 1015l0 0M850 909l-0 0M893 1125l0 0"/><path stroke="#4a2882" stroke-width="3.4" d="M608 1134l-1 1M541 1181l-1 2M510 906l-1 1M846 938l0 1M796 1004l0 0M666 1142l1 0M646 1187l-1 2M685 1053l2 1M732 930l1 1M580 1038l1 1M796 1055l2 0M693 922l-0 1M603 946l-1 1M731 1151l1 1M770 1101l1 0M839 1095l-1 1M886 1180l-2 1M510 921l-0 2M860 1042l-2 0M844 1101l2 1M747 1071l0 1M681 930l-2 0M783 1080l-0 0M850 908l0 1M672 969l1 0M751 914l1 2M808 915l-0 0M636 940l0 1M716 1037l1 1M853 1189l-2 0M731 1179l1 1M666 1189l-1 1M819 924l0 1M563 1107l2 0M702 1085l0 0M731 1045l-0 0M615 1194l0 0M521 1018l2 0M658 958l0 1M517 1118l-2 0M658 1105l0 0M777 1024l-1 0M835 935l-0 0M769 1074l0 0M701 1199l-0 0M778 1138l1 0M819 1107l2 0M795 1041l-1 1M635 1027l1 1M668 1142l1 1M520 1131l1 2M881 1119l-0 0M659 997l-2 1M862 1051l-1 1M578 981l1 2M663 1073l-1 0M893 1056l-1 0M640 1018l-0 0M884 999l-0 0M850 1023l2 1M723 1109l-1 1M646 1072l-1 2M893 963l1 0M586 978l0 0M883 957l-1 1M528 1124l-2 1M700 946l0 0M697 1032l1 1M534 1059l1 0M811 1036l-0 1M693 931l2 1M802 1148l-1 1M532 1066l1 0M558 1042l-1 0M807 1180l-0 0M610 913l-0 0M690 1045l-1 1M889 1074l1 0M763 996l2 1M540 950l-0 1M826 982l-2 1M636 1188l2 1M747 1016l0 0M698 1130l-1 0M708 972l0 2M868 1156l-1 0M614 910l-0 2M611 1092l0 0M667 1180l-0 1M745 1187l-0 1M549 1173l0 2M846 1128l0 0M770 1112l0 0M847 1193l0 0M864 1090l-0 0M606 1027l0 2M536 1184l1 1M570 1082l2 0M574 1040l1 2M861 1150l-0 0M892 966l2 1M721 975l1 1M532 1010l0 1M888 1052l0 0M657 1122l-0 2M644 980l0 1M711 1023l-0 0M702 1036l0 1M742 1015l-0 1M874 1162l-1 1M779 1187l1 0M704 1144l1 0M813 1131l-2 1M536 1098l0 1M870 1196l0 0M708 910l1 1M657 1058l-2 2M640 1198l-0 1M578 1022l-0 0M800 1192l-2 0M747 1109l-1 0M720 1180l-0 0M584 923l-1 0M552 1022l-1 1M656 920l1 2M681 1138l2 0M671 994l0 1M510 1153l1 0M680 1066l-0 1M514 1169l-0 1M626 1136l-0 0M533 1115l-1 1M807 916l-0 1M816 972l1 1M610 1025l-1 2M551 943l0 2M611 934l-1 0M527 1013l1 0M778 910l1 1M879 915l-0 1M630 927l0 0M510 1072l1 2M533 965l-1 1M850 1161l-1 1M554 930l-0 0M566 1172l2 1M765 1105l1 2M553 947l0 0M849 1094l1 1M609 1118l-1 0M798 1187l1 0M563 912l-1 0M823 973l-1 2M593 1158l-0 0M538 932l-1 0M807 1169l-2 0"/><path stroke="#55308f" stroke-width="2.6" d="M706 1031l1 1M600 1016l1 0M545 949l1 0M728 996l-0 0M583 1020l1 1M877 1129l1 0M809 1121l-1 1M752 964l1 2M544 955l0 0M851 1141l-1 2M542 1163l0 0M697 983l-1 0M740 1125l-1 0M714 1131l-0 1M785 1171l-1 0M679 1169l-0 1M844 1157l-1 1M874 1149l-1 2M697 909l-1 1M555 1039l-1 2M866 1134l-1 0M645 1006l0 1M582 928l-2 0M729 1118l1 1M517 923l-1 1M862 1187l0 0M583 1050l1 1M715 1060l-1 0M578 950l1 1M811 938l-1 2M564 1115l0 1M647 948l0 2M770 923l2 0M772 905l1 1M877 1114l1 1M741 926l-1 1M727 1115l1 2M551 1079l1 1M643 1030l0 0M660 1131l0 1M713 1118l-0 1M829 964l-1 1M761 994l1 1M609 1029l-2 0M867 935l-0 2M768 1101l2 2M871 1077l0 1M759 1109l2 2M684 1060l-1 2M617 1155l1 1M606 1104l-1 1M655 1106l-1 0M829 1101l-1 1M707 1056l-0 2M582 1049l1 2M657 942l1 1M510 948l1 1M547 950l0 0M695 981l-0 1M782 972l-1 1M797 1036l0 0M623 931l2 1M600 912l-0 1M817 1064l-2 1M631 1089l0 1M542 1077l-0 0M876 1019l-0 0M737 1048l-0 0M798 1078l-0 2M527 907l-1 0M677 1169l-1 1M606 921l2 1M804 1049l1 0M587 970l-0 1M781 1059l0 0M647 1060l1 0M745 1077l-1 1M889 1110l1 1M789 994l0 2M758 1079l1 1M613 919l-1 1M754 963l-0 0M582 1057l0 0M718 1076l-0 1M827 953l-2 0M731 1130l-2 0M554 985l-2 1M727 1078l-0 0M768 1086l-0 1M578 1185l-2 1M688 1027l1 0M858 1184l-1 1M520 926l0 0M846 1043l-1 1M631 915l2 1M634 1064l0 0M584 918l-0 0M601 1029l-0 1M778 1001l-1 0M594 950l-0 2M876 996l-2 0M824 1120l0 0M716 1082l-2 1M787 942l-0 0M774 1145l-1 0M777 1140l-1 0M629 923l-1 2M809 1057l2 1M579 1014l1 1M586 929l-1 2M686 1184l2 1M726 1066l-0 1M566 1066l-1 0M793 935l0 0M526 951l0 1M594 1104l-1 1M788 1157l-0 0M671 1060l-0 2M594 977l0 1M822 1154l-2 0M772 1080l1 2M633 1176l0 1M624 960l0 1M576 1180l2 1M614 933l-0 0M605 1109l-0 1M866 1125l-0 0M873 1143l-1 0M727 1151l-1 1M664 1172l1 2M728 1070l-1 2M618 1127l-1 2M509 1185l0 1M672 987l-2 1M737 922l-1 1M761 1097l0 0M753 1177l-0 0M821 1100l-2 1M568 1097l0 0M549 1019l0 0M637 1003l-1 1M521 906l0 0M619 926l1 2M617 1117l-1 2M649 1143l-1 1M824 1004l-0 1M876 1173l0 2M844 1055l0 0M844 1127l2 0"/><path stroke="#62399a" stroke-width="3.4" d="M653 1143l-1 1M775 931l-2 1M633 1031l0 0M766 1086l0 0M848 1127l0 2M878 1018l-1 0M875 1157l1 0M718 1059l-0 1M797 908l1 1M881 1078l2 0M648 1151l0 2M767 973l2 1M544 960l-0 0M778 1058l0 0M743 1030l1 0M661 1145l0 0M701 1044l-0 0M541 934l0 2M864 1027l0 0M797 970l-1 1M863 981l0 1M857 1119l1 1M789 966l1 1M861 1031l0 2M784 1013l1 2M755 1195l0 0M622 1103l0 2M677 1187l-1 0M613 989l-1 1M583 985l1 1M877 921l1 2M795 1140l1 1M605 1172l1 1M662 933l-0 1M588 998l2 2M794 1195l-0 0M739 1136l0 1M530 918l2 1M771 1044l-0 0M546 975l-2 0M513 1063l2 0M566 1143l1 1M652 1196l-0 1M658 1051l1 1M689 996l-2 0M709 1002l-1 0M604 983l-2 0M652 984l2 0M550 1182l-2 1M554 1175l-2 1M846 994l-2 1M670 1187l1 1M862 958l0 0M635 918l-0 0M660 1014l-1 2M750 996l0 0M778 1108l-0 0M569 906l1 1M638 939l-0 1M654 1048l-0 0M765 1127l1 0M737 988l-0 0M621 1095l1 1M689 961l1 2M728 1097l-2 1M704 1121l-1 1M810 1141l0 0M519 942l-0 0M627 1021l1 2M823 915l0 0M694 950l0 1M843 1061l-1 0M692 1116l0 0M740 1070l-1 0M520 1119l2 0M609 1106l1 0M531 961l-0 0M863 1057l1 1M724 927l1 2M647 1134l-1 1M645 916l-1 0M670 1135l1 1M768 1157l1 1M766 1146l-2 1M550 1172l-1 1M740 924l1 0M893 1086l0 2M659 1008l2 1M653 1083l-1 1M515 1163l0 1M795 1181l0 0M872 930l1 0M891 1172l-2 1M861 972l-1 2M755 1022l1 0M511 1030l-0 0M519 1133l-0 1M717 940l1 1M528 972l1 1M832 1071l-1 0M852 1093l1 1M602 937l-1 0M511 1188l-1 1M683 923l1 1M547 1011l-1 0M642 1062l-2 0M527 978l0 1M705 945l2 0M536 1009l0 1M525 1102l-1 2M516 988l-0 0M893 907l1 1M883 939l-0 2M614 1187l2 1M644 1055l-0 0M892 948l-2 2M565 1014l-0 1M563 1199l-1 1M836 1025l0 0M853 1029l2 1M877 1002l-0 0M743 1135l0 1M741 918l0 1M725 1004l-1 0M789 959l-0 2M674 1130l0 0M844 1042l0 2M798 1083l1 1M741 1094l-0 0M603 966l-1 0M694 941l-1 0M543 1071l-1 1M844 1037l0 1M700 1182l1 1M888 1085l-0 2M824 1009l0 0M716 966l-0 2M646 944l2 0M894 1135l0 2M880 905l1 1M836 1066l-2 1M582 1174l-1 1"/><path stroke="#55308f" stroke-width="3.4" d="M759 1073l1 0M868 1016l-0 1M577 1047l-2 1M544 1175l-1 0M519 1022l0 0M718 977l-0 0M571 1179l-0 2M615 1165l-1 1M542 1041l-1 1M707 1065l2 1M711 958l0 0M531 1036l-0 1M678 957l2 1M700 1045l0 1M704 1077l0 0M821 918l1 0M614 1144l-0 1M557 1166l-0 2M687 1155l-1 0M816 1017l1 1M582 983l1 1M631 962l1 1M840 1187l-0 2M860 1061l2 0M653 924l-2 1M807 989l-1 1M762 909l-1 1M798 1072l-0 1M534 1177l-1 0M608 1172l-1 2M633 1030l2 1M600 1098l1 2M585 1054l-0 0M750 1127l1 2M578 962l2 1M873 925l0 0M809 1100l-2 0M733 1185l2 1M795 1124l0 0M719 1065l1 1M508 946l1 0M622 967l1 0M768 935l-0 0M574 1047l2 1M877 1093l1 0M816 913l0 0M699 929l0 0M801 965l-1 1M623 986l-0 0M572 1003l1 1M764 980l-0 0M816 1114l-0 2M848 1150l1 2M529 1041l1 1M676 958l1 1M635 1097l2 1M540 1175l2 1M841 1192l-0 0M682 1153l0 1M567 931l2 0M819 1015l0 1M839 1124l-0 0M546 1103l0 2M702 1168l0 1M558 1169l0 2M876 939l-0 1M798 993l-1 0M645 1190l-0 1M841 1165l-0 1M710 1099l1 1M785 915l-1 0M557 1176l0 0M691 1117l2 0M784 1059l1 0M631 1089l-2 1M618 1084l0 2M553 1050l1 2M735 1006l-1 0M865 1186l-2 0M807 1104l1 0M710 968l1 1M663 1194l1 1M844 1109l1 0M557 972l-1 0M744 1079l0 0M771 1127l1 1M894 1049l-1 1M741 1030l-0 0M872 1194l-2 0M676 1053l-1 1M855 913l2 1M891 1031l-0 0M605 907l0 0M703 947l-1 1M783 1142l-1 1M887 968l0 0M661 1155l-1 1M590 1091l-1 0M721 1152l-1 2M790 915l2 1M615 1086l-0 0M686 989l1 2M521 907l2 1M762 1161l1 2M524 920l-0 0M837 1049l0 1M593 1032l1 1M751 1171l0 0M866 1001l1 1M593 1176l-0 0M867 1117l0 2M892 944l-1 2M841 1056l1 1M828 1155l-0 2M745 1034l-0 1M580 907l-1 1M738 1048l-0 0M752 1018l-1 1M837 1060l-0 1M557 1032l0 0M653 1160l-1 1M842 955l-0 2M659 926l-2 0M887 925l-1 1M677 997l-2 1M793 1138l-0 1M638 1125l-0 2M724 1178l2 1M671 1054l1 1M727 1199l1 2M711 940l-0 0M836 1023l-0 1M630 907l-0 2"/></g>
<g clip-path="url(#c14)" fill="none" stroke-linecap="round"><path stroke="#62399a" stroke-width="3" d="M729 1266l-0 0M728 1198l1 2M711 1320l0 0M714 1225l2 2M748 1259l1 1M685 1212l3 0M593 1290l-0 0M532 1275l1 1M807 1286l-2 0M771 1203l-2 1M735 1253l0 0M761 1297l-2 0M616 1292l-0 0M597 1291l3 1M589 1209l1 1M833 1263l-0 0M734 1213l3 2M641 1314l0 1M819 1238l2 3M891 1257l1 1"/><path stroke="#4a2882" stroke-width="3" d="M887 1294l2 1M717 1276l-2 3M584 1297l0 0M631 1231l-1 3M842 1311l-1 0M679 1196l-2 3M631 1286l2 0M610 1313l-0 0M675 1241l2 0M562 1289l3 1M753 1218l0 0M684 1209l1 0M571 1298l0 1M785 1221l0 4M630 1252l1 1M549 1271l0 0M817 1239l-3 1M594 1234l-0 0M549 1238l-0 0"/><path stroke="#55308f" stroke-width="3" d="M773 1278l3 0M687 1303l2 1M835 1252l4 1M629 1266l2 1M761 1214l2 2M874 1302l-0 2M644 1318l1 1M873 1319l-1 0M840 1240l-0 4M636 1294l0 3M820 1297l1 1M585 1221l0 1M662 1224l1 2M633 1197l0 0M718 1215l2 0M633 1261l-2 3M665 1257l0 1"/><path stroke="#62399a" stroke-width="2.4" d="M766 1215l-0 0M833 1264l2 1M805 1227l-0 0M588 1204l0 1M692 1284l-0 3M536 1231l0 1M666 1251l1 3M706 1305l-2 3M695 1208l-0 2M650 1250l-0 3M531 1262l-2 1M832 1249l1 0M758 1277l-2 1M635 1301l-2 2M844 1302l2 2M717 1309l0 1M770 1302l-1 0"/><path stroke="#4a2882" stroke-width="2.4" d="M778 1218l0 3M517 1292l-0 0M768 1256l3 1M639 1264l-3 1M737 1295l-0 2M524 1293l-1 1M583 1282l-1 1M646 1287l2 3M849 1198l-1 1M669 1316l0 0M523 1259l1 0M793 1305l0 1M721 1315l-0 0M810 1270l3 0M710 1289l0 0M793 1210l-0 3M576 1251l1 2M745 1308l0 1M750 1286l-3 0M890 1249l0 0M754 1250l1 0M752 1304l1 4M882 1250l-1 0"/><path stroke="#55308f" stroke-width="2.4" d="M597 1232l2 0M744 1262l-1 1M650 1276l-3 2M580 1291l1 0M696 1295l-4 1M510 1309l3 1M857 1309l0 1M537 1288l-2 0M589 1232l2 2M640 1280l3 2M781 1223l-2 2M617 1287l2 2M517 1264l-1 2M743 1285l2 1M588 1235l2 1M828 1254l-0 0M720 1299l1 0M569 1258l1 3M774 1199l0 4M518 1216l-3 1M663 1233l-2 0M513 1262l-1 2M637 1227l-3 3M852 1300l-3 1"/></g>
<g clip-path="url(#c14)" fill="none" stroke-linecap="round"><path stroke="#e5404f" stroke-width="2.2" d="M786 1147l-0 0M685 960l1 0M812 952l0 0M865 972l1 0M649 1028l0 1M873 1074l-1 1M786 1113l0 1M806 1146l-0 0M801 969l-0 0M764 1049l1 0M814 962l1 1M851 1008l0 0M658 986l1 0M816 1073l1 1M779 1175l-1 1M804 1096l-1 0M809 1010l-0 0M714 1157l0 0M824 990l1 1M684 957l-0 1M727 959l-0 1M795 1142l-0 0M659 1035l-1 0M812 1175l-1 1M710 937l-0 1M805 947l0 0M804 939l0 0M887 1073l-0 1M871 1078l-1 1M875 1029l1 0M779 1151l0 0M699 1024l-1 1M721 941l-0 1M705 1125l1 0M672 932l-0 0M888 1106l0 0M788 974l-1 1M644 958l-0 0M889 948l-1 1M778 961l0 0M871 1020l0 0M758 1151l0 0M693 1046l-0 0M821 982l1 0M831 1193l-0 0M868 1140l0 1M814 937l0 1M767 1003l0 1M862 1043l-1 0M873 1048l-0 1M793 1069l-0 1M793 1095l0 1M831 951l-1 0M813 1123l-0 0M748 1171l-0 0M706 1010l0 1M708 1048l1 1M797 936l-1 0M832 1003l-0 0M695 969l-0 0M853 1064l0 0M870 1189l0 0M863 970l-1 0M806 1108l-0 0M884 1121l1 1M752 961l1 0M661 1054l-1 0M875 1028l0 0M722 984l0 0M659 1146l-0 0M874 1190l0 0M656 964l0 1M885 1078l0 0M721 1155l0 0M683 1095l0 0M850 1060l1 0M871 1040l-1 1M734 935l-1 1M873 1062l0 0M672 953l0 1M828 1017l-0 1M641 1104l0 1M757 1152l0 1M686 1183l-0 0M784 946l0 0M839 1083l1 1M844 1000l0 1M670 1010l1 1M878 995l0 0M758 1037l-0 0M790 931l0 0M824 1066l0 1M741 1187l0 1M874 1176l1 0M721 939l1 0M705 1166l0 1M659 1183l0 0M750 1112l-0 0M746 1171l0 1M737 1179l-0 0M807 990l-0 1M763 1111l0 1M891 983l1 0M739 1111l0 1M685 1178l0 0M865 1036l0 0M778 1094l1 0M731 1152l0 0M875 989l-1 1M655 1057l1 0M828 1100l-0 1M888 1037l0 0M764 1112l-0 1M847 1104l-1 0M865 1043l0 0M666 1134l1 0M805 1017l-0 0M776 943l1 1M689 1014l-1 0M770 1091l-1 1M730 1103l-0 0M663 1174l-0 1M664 1131l-0 1M857 1089l-0 1M780 959l-0 0M814 1006l0 0M736 1077l1 1M671 1017l1 0M831 1191l0 1M770 1049l-0 0M756 1195l-1 0M847 1163l-0 0M748 1019l1 1M754 1176l0 1M845 1023l0 0M640 1157l0 1M709 998l0 0M740 934l0 1M737 1182l0 0M856 1081l1 1M814 935l1 0M752 1138l-1 1M756 1116l1 1M772 1031l-0 1M867 991l-0 0M888 1092l-1 0M687 992l1 0M773 947l-0 0M665 1167l-1 1M752 1052l-0 0M802 1008l-1 1M708 1132l0 0M651 974l1 0M700 1184l1 0M883 981l-1 1M761 962l0 0"/><path stroke="#e5404f" stroke-width="2.8" d="M880 966l-0 1M699 1171l-0 1M763 997l0 1M788 1144l-1 0M824 1099l1 0M796 1052l1 1M785 1057l-1 0M807 1120l-0 0M686 1026l1 0M775 932l-1 0M708 1006l-0 0M894 1050l-0 1M648 1044l-0 0M737 1016l0 1M674 1126l0 0M829 1067l-1 0M730 1124l1 0M782 1007l-1 0M790 1057l-1 0M846 1128l-1 0M766 1079l-0 1M648 1094l-0 0M650 1117l-0 1M781 1182l1 1M721 1067l0 0M749 997l-0 0M800 1078l1 1M863 970l-0 0M680 987l1 0M681 1059l-1 0M858 1087l-1 1M744 944l1 1M733 1121l1 1M778 1029l-1 1M870 1108l-0 1M879 1051l-1 0M861 1047l-1 0M852 1049l0 0M706 930l1 0M699 1162l1 1M811 1131l-0 0M783 1048l-1 0M680 1197l-1 0M882 996l-1 1M776 947l1 0M894 1149l0 0M712 1092l1 0M738 995l0 1M755 1148l0 0M680 1140l1 0M723 973l-0 0M722 1140l1 1M672 1136l-1 1M709 991l1 1M869 944l-0 0M655 1151l0 1M882 982l-1 0M811 1043l0 0M661 986l-0 1M889 1170l0 1M874 959l0 1M666 1153l-0 0M738 1097l-1 1M834 1047l1 1M873 960l1 0M797 1142l1 1M762 1030l-1 0M821 999l-0 0M769 1080l-1 0M674 940l-1 0M719 980l1 1M877 984l0 0M794 1167l1 0M872 935l1 1M655 1195l-0 0M791 1149l1 0M777 972l0 0M873 954l-1 0M702 1029l0 1M861 1072l-1 0M773 1125l-0 0M788 984l-0 0M714 1115l-1 0M772 987l0 1M841 1178l-1 1M667 1068l-0 1M777 1058l1 1M806 1082l0 0M813 1009l0 0M718 1154l0 0M782 1184l0 0M884 1031l1 1M745 978l-0 0M876 1041l0 1M760 1094l-1 0M650 1103l1 0M870 1017l1 0M793 1189l0 0M821 1055l0 0M822 1035l-1 1M766 1013l0 0M772 1096l0 1M684 1069l0 1M744 1132l-0 0M700 992l1 0M661 1002l-1 1M642 1116l1 0M685 1036l0 1M697 1110l0 0M858 988l-1 0M767 1147l1 0M778 1004l0 0M823 957l0 0M885 970l0 0M883 1094l0 1M812 1117l1 0M812 968l-1 1M826 1083l-0 0M810 1171l0 0M715 1058l0 0M693 1108l-0 0M709 1105l0 0M788 1185l-1 1M721 1192l0 0M677 1160l0 1M840 1114l0 1M840 977l-1 1M647 934l-1 0M801 1061l1 0M661 969l1 0M875 964l0 0M699 1104l0 0M712 1164l-1 0M890 1001l0 0M805 1158l1 0M856 1100l1 1M667 1047l0 0M728 1189l-0 0M889 1061l-0 0M752 1133l0 0M888 931l0 1M873 1077l-1 1M754 1182l-0 1M714 1105l0 0"/></g>
<g clip-path="url(#c14)" fill="none" stroke-linecap="round"><path stroke="#e5404f" stroke-width="2.8" d="M629 1150l-0 1M520 1177l-0 0M829 1166l1 1M729 1187l0 0M772 1225l-0 0M545 1214l0 0M569 1238l0 0M702 1151l-0 1M585 1202l0 0M820 1217l1 0M779 1172l-0 0M756 1155l-0 1M521 1203l1 1M510 1182l-0 1M592 1234l0 0M644 1237l0 1M598 1165l-1 0M830 1197l0 0M753 1204l-1 1M816 1170l-1 0M615 1202l0 0M632 1173l-1 0M696 1181l-0 1M733 1174l-1 1M802 1179l-0 1M683 1232l-1 0M551 1198l0 0M727 1143l-1 0M634 1219l0 0M623 1144l0 1M829 1145l-1 0"/><path stroke="#e5404f" stroke-width="2.2" d="M550 1213l-0 0M695 1204l-1 1M593 1218l-0 0M854 1192l1 1M613 1159l-0 0M744 1215l-0 0M825 1164l0 0M596 1223l1 1M706 1239l-0 0M608 1152l-0 1M891 1176l-0 1M711 1189l-1 0M513 1148l-1 0M528 1219l0 1M715 1228l-0 0M633 1198l1 1M582 1146l-1 0M808 1185l1 0M625 1212l-0 0M700 1205l0 1M654 1199l-1 1M632 1194l-0 1M737 1177l0 0M513 1150l1 1M514 1224l0 0M516 1192l-1 1M785 1231l1 1M841 1166l0 1M808 1184l1 1M709 1212l-0 1M618 1216l1 1M574 1201l-0 1M811 1171l-1 0M711 1226l-1 1M750 1208l-0 0M880 1201l-1 1M803 1196l-0 1M862 1178l-1 1M703 1160l1 1"/></g>
<g clip-path="url(#c14)" fill="none" stroke-linecap="round"><path stroke="#e5404f" stroke-width="2.4" d="M769 1314l-1 1M533 1251l-1 0M659 1241l-1 0M770 1256l-0 0M753 1265l1 0M834 1310l0 0M541 1270l0 1M698 1307l-0 1M542 1264l-0 1M889 1272l-0 0M801 1284l-0 0M759 1272l1 0M850 1243l-0 0M518 1241l1 0M533 1305l0 0M805 1301l-0 0M772 1253l0 0M701 1250l-1 1M782 1295l-1 0M826 1268l-0 0"/><path stroke="#e5404f" stroke-width="2" d="M540 1266l-0 0M603 1317l0 0M541 1304l0 0M604 1318l0 1M689 1261l-0 0M543 1297l1 0M741 1242l-0 1M563 1253l0 1M697 1273l-0 1M706 1303l-0 0M812 1266l0 0M662 1263l-0 1M737 1294l-1 0M811 1245l-0 0M550 1278l-0 1M774 1319l0 0M521 1244l-0 0M728 1273l0 0M668 1297l-0 0M774 1293l-0 0M593 1319l0 0M677 1253l0 0M809 1262l-1 0M701 1267l-1 0M510 1294l-1 0M595 1280l-0 0M541 1313l0 0M883 1306l0 0M608 1279l0 0M656 1288l-0 0"/></g>
<g clip-path="url(#c14)" fill="#dcc6e2"><circle cx="516" cy="928" r="4"/><circle cx="531" cy="937" r="4"/><circle cx="565" cy="936" r="4"/><circle cx="538" cy="960" r="4"/><circle cx="530" cy="1000" r="5"/><circle cx="517" cy="1005" r="4"/><circle cx="545" cy="1003" r="4"/><circle cx="521" cy="1040" r="4"/><circle cx="533" cy="1065" r="5"/><circle cx="545" cy="1055" r="5"/><circle cx="555" cy="1062" r="4"/><circle cx="543" cy="1075" r="4"/><circle cx="565" cy="1080" r="4"/><circle cx="570" cy="1052" r="4"/><circle cx="723" cy="1005" r="4"/><circle cx="737" cy="1024" r="5"/><circle cx="747" cy="1053" r="4"/><circle cx="752" cy="1063" r="5"/><circle cx="822" cy="918" r="4"/><circle cx="840" cy="923" r="4"/><circle cx="888" cy="940" r="4"/><circle cx="885" cy="965" r="4"/><circle cx="598" cy="1112" r="5"/><circle cx="610" cy="1120" r="4"/><circle cx="870" cy="1020" r="4"/><circle cx="524" cy="1120" r="4"/><circle cx="535" cy="1128" r="3"/><circle cx="560" cy="1098" r="3"/></g>
<path d="M713 851C715.7 848 723.8 845.5 730 845C736.2 844.5 743.3 848.5 750 848C756.7 847.5 763.3 842.8 770 842C776.7 841.2 785.7 840.8 790 843C794.3 845.2 796 851.2 796 855C796 858.8 794.3 863.5 790 866C785.7 868.5 777.5 870 770 870C762.5 870 752.5 866 745 866C737.5 866 730.2 870.5 725 870C719.8 869.5 716 866.2 714 863C712 859.8 710.3 854 713 851Z" fill="#c9a6d2" opacity="0.85"/>
<path d="M608 862C620 848 635 838 647 838C655 838 662 840 665 848C668 858 672 870 677 879M644 856C647 862 650 868 651 874M536 805C545 812 560 820 571 831M514 797L526 799M744 829C755 822 770 818 792 815M770 835L780 825" stroke="#8f7ac0" stroke-width="1.3" fill="none"/>
<path d="M529 782C530.2 780 534.3 778.7 537 779C539.7 779.3 543.8 781.5 545 784C546.2 786.5 545.7 791.8 544 794C542.3 796.2 537.3 797.5 535 797C532.7 796.5 531 793.5 530 791C529 788.5 527.8 784 529 782Z" fill="#a58cc8" opacity="0.9"/>
<path d="M847 835C848.2 833.8 853.8 832.8 855 834C856.2 835.2 855.2 840.8 854 842C852.8 843.2 849.2 842.2 848 841C846.8 839.8 845.8 836.2 847 835Z" fill="#d8c6e4"/>
<path d="M884 838C885.3 836.5 892.3 834.7 894 836C895.7 837.3 895.3 844.5 894 846C892.7 847.5 887.7 846.3 886 845C884.3 843.7 882.7 839.5 884 838Z" fill="#cdb6e0"/>
<path d="M873 1401l4 1l-3 3" stroke="#4a3a9a" stroke-width="1.8" fill="none"/><circle cx="879" cy="1420" r="2.5" fill="#f2c4d8"/>
<rect x="465.1" y="716.3" width="4.4" height="54.8" fill="#000"/>
<text transform="translate(456.1 744) rotate(-90)" font-size="21" text-anchor="middle" font-family="Liberation Sans, sans-serif">50 µm</text>
<rect x="873.8" y="716.1" width="4.4" height="55" fill="#000"/>
<text transform="translate(864.5 743.9) rotate(-90)" font-size="21" text-anchor="middle" font-family="Liberation Sans, sans-serif">50 µm</text>
<text x="1.8" y="45.8" font-size="61.5" font-weight="bold" font-family="Liberation Sans, sans-serif">A</text>
<text x="934.3" y="45.4" font-size="61" font-weight="bold" font-family="Liberation Sans, sans-serif">B</text>
<text x="2" y="683" font-size="60" font-weight="bold" font-family="Liberation Sans, sans-serif">C</text>
<text x="934.3" y="683.7" font-size="61.5" font-weight="bold" font-family="Liberation Sans, sans-serif">D</text>
<path d="M136.9 70.7 V528 M134.9 525.9 H819.5" stroke="#000" stroke-width="4.2" fill="none"/>
<line x1="118" y1="525.9" x2="136.9" y2="525.9" stroke="#000" stroke-width="4.2"/>
<text x="113.6" y="537.2" font-size="35.3" text-anchor="end" font-family="Liberation Sans, sans-serif">60</text>
<line x1="118" y1="412.1" x2="136.9" y2="412.1" stroke="#000" stroke-width="4.2"/>
<text x="113.6" y="423.4" font-size="35.3" text-anchor="end" font-family="Liberation Sans, sans-serif">80</text>
<line x1="118" y1="298.3" x2="136.9" y2="298.3" stroke="#000" stroke-width="4.2"/>
<text x="113.6" y="309.6" font-size="35.3" text-anchor="end" font-family="Liberation Sans, sans-serif">100</text>
<line x1="118" y1="184.5" x2="136.9" y2="184.5" stroke="#000" stroke-width="4.2"/>
<text x="113.6" y="195.8" font-size="35.3" text-anchor="end" font-family="Liberation Sans, sans-serif">120</text>
<line x1="118" y1="70.7" x2="136.9" y2="70.7" stroke="#000" stroke-width="4.2"/>
<text x="113.6" y="82.0" font-size="35.3" text-anchor="end" font-family="Liberation Sans, sans-serif">140</text>
<line x1="136.8" y1="525.9" x2="136.8" y2="545.5" stroke="#000" stroke-width="4.2"/>
<text x="136.8" y="582.3" font-size="35" text-anchor="middle" font-family="Liberation Sans, sans-serif">0</text>
<line x1="250.3" y1="525.9" x2="250.3" y2="545.5" stroke="#000" stroke-width="4.2"/>
<text x="250.3" y="582.3" font-size="35" text-anchor="middle" font-family="Liberation Sans, sans-serif">5</text>
<line x1="363.8" y1="525.9" x2="363.8" y2="545.5" stroke="#000" stroke-width="4.2"/>
<text x="363.8" y="582.3" font-size="35" text-anchor="middle" font-family="Liberation Sans, sans-serif">10</text>
<line x1="477.3" y1="525.9" x2="477.3" y2="545.5" stroke="#000" stroke-width="4.2"/>
<text x="477.3" y="582.3" font-size="35" text-anchor="middle" font-family="Liberation Sans, sans-serif">15</text>
<line x1="590.7" y1="525.9" x2="590.7" y2="545.5" stroke="#000" stroke-width="4.2"/>
<text x="590.7" y="582.3" font-size="35" text-anchor="middle" font-family="Liberation Sans, sans-serif">20</text>
<line x1="704.2" y1="525.9" x2="704.2" y2="545.5" stroke="#000" stroke-width="4.2"/>
<text x="704.2" y="582.3" font-size="35" text-anchor="middle" font-family="Liberation Sans, sans-serif">25</text>
<line x1="817.7" y1="525.9" x2="817.7" y2="545.5" stroke="#000" stroke-width="4.2"/>
<text x="817.7" y="582.3" font-size="35" text-anchor="middle" font-family="Liberation Sans, sans-serif">30</text>
<text x="460.5" y="617" font-size="38.6" text-anchor="middle" font-family="Liberation Sans, sans-serif">days (d)</text>
<text transform="translate(36 297.2) rotate(-90)" x="0" y="0" font-size="37.3" text-anchor="middle" font-family="Liberation Sans, sans-serif">% of basial body weight</text>
<path d="M136.8 306.2 V295.5 M131.8 295.5 H141.8" stroke="#ff0000" stroke-width="1.8" fill="none"/>
<path d="M250.3 284.7 V265.0 M245.3 265.0 H255.3" stroke="#ff0000" stroke-width="1.8" fill="none"/>
<path d="M363.8 395.3 V365.8 M358.8 365.8 H368.8" stroke="#ff0000" stroke-width="1.8" fill="none"/>
<path d="M477.3 418.6 V395.9 M472.3 395.9 H482.3" stroke="#ff0000" stroke-width="1.8" fill="none"/>
<path d="M590.7 329.4 V309.2 M585.7 309.2 H595.7" stroke="#ff0000" stroke-width="1.8" fill="none"/>
<path d="M704.2 268.4 V238.2 M699.2 238.2 H709.2" stroke="#ff0000" stroke-width="1.8" fill="none"/>
<path d="M817.7 193.0 V157.5 M812.7 157.5 H822.7" stroke="#ff0000" stroke-width="1.8" fill="none"/>
<polyline points="136.8,306.2 250.3,284.7 363.8,395.3 477.3,418.6 590.7,329.4 704.2,268.4 817.7,193.0" stroke="#ff0000" stroke-width="4.6" fill="none" stroke-linejoin="miter"/>
<circle cx="136.8" cy="306.2" r="2.9" fill="#ff0000"/>
<circle cx="250.3" cy="284.7" r="2.9" fill="#ff0000"/>
<circle cx="363.8" cy="395.3" r="2.9" fill="#ff0000"/>
<circle cx="477.3" cy="418.6" r="2.9" fill="#ff0000"/>
<circle cx="590.7" cy="329.4" r="2.9" fill="#ff0000"/>
<circle cx="704.2" cy="268.4" r="2.9" fill="#ff0000"/>
<circle cx="817.7" cy="193.0" r="2.9" fill="#ff0000"/>
<path d="M250.3 281.5 V268.2 M245.3 268.2 H255.3" stroke="#0000ff" stroke-width="1.8" fill="none"/>
<path d="M363.8 257.5 V233.4 M358.8 233.4 H368.8" stroke="#0000ff" stroke-width="1.8" fill="none"/>
<path d="M477.3 250.5 V217.7 M472.3 217.7 H482.3" stroke="#0000ff" stroke-width="1.8" fill="none"/>
<path d="M590.7 222.8 V207.4 M585.7 207.4 H595.7" stroke="#0000ff" stroke-width="1.8" fill="none"/>
<path d="M704.2 211.3 V185.6 M699.2 185.6 H709.2" stroke="#0000ff" stroke-width="1.8" fill="none"/>
<path d="M817.7 179.2 V157.0 M812.7 157.0 H822.7" stroke="#0000ff" stroke-width="1.8" fill="none"/>
<polyline points="136.8,298.4 250.3,281.5 363.8,257.5 477.3,250.5 590.7,222.8 704.2,211.3 817.7,179.2" stroke="#0000ff" stroke-width="4.6" fill="none" stroke-linejoin="miter"/>
<circle cx="136.8" cy="298.4" r="2.9" fill="#0000ff"/>
<circle cx="250.3" cy="281.5" r="2.9" fill="#0000ff"/>
<circle cx="363.8" cy="257.5" r="2.9" fill="#0000ff"/>
<circle cx="477.3" cy="250.5" r="2.9" fill="#0000ff"/>
<circle cx="590.7" cy="222.8" r="2.9" fill="#0000ff"/>
<circle cx="704.2" cy="211.3" r="2.9" fill="#0000ff"/>
<circle cx="817.7" cy="179.2" r="2.9" fill="#0000ff"/>
<line x1="202" y1="82.3" x2="251" y2="82.3" stroke="#0000ff" stroke-width="4.6"/><circle cx="226.5" cy="82.3" r="2.9" fill="#0000ff"/>
<line x1="202" y1="143.3" x2="251" y2="143.3" stroke="#ff0000" stroke-width="4.6"/><circle cx="226.5" cy="143.3" r="2.9" fill="#ff0000"/>
<text x="278" y="94.8" font-size="37" font-family="Liberation Sans, sans-serif">Control</text>
<text x="277.3" y="156.6" font-size="37.9" font-family="Liberation Sans, sans-serif">2% DSS</text>
<path d="M829.2 171.5 H863 V412.3 H829.2" stroke="#000" stroke-width="2.2" fill="none"/>
<text x="901.2" y="303.2" font-size="37" text-anchor="middle" letter-spacing="1.9" font-family="Liberation Sans, sans-serif">***</text>
<path d="M1063.8 62.1 V534.6 M1044.1 532.4 H1485.5" stroke="#000" stroke-width="4.2" fill="none"/>
<line x1="1044.1" y1="532.4" x2="1063.8" y2="532.4" stroke="#000" stroke-width="4.2"/>
<text x="1039.9" y="544.3" font-size="36" text-anchor="end" font-family="Liberation Sans, sans-serif">0</text>
<line x1="1044.1" y1="376.3" x2="1063.8" y2="376.3" stroke="#000" stroke-width="4.2"/>
<text x="1039.9" y="388.2" font-size="36" text-anchor="end" font-family="Liberation Sans, sans-serif">5</text>
<line x1="1044.1" y1="220.3" x2="1063.8" y2="220.3" stroke="#000" stroke-width="4.2"/>
<text x="1039.9" y="232.2" font-size="36" text-anchor="end" font-family="Liberation Sans, sans-serif">10</text>
<line x1="1044.1" y1="64.2" x2="1063.8" y2="64.2" stroke="#000" stroke-width="4.2"/>
<text x="1039.9" y="76.1" font-size="36" text-anchor="end" font-family="Liberation Sans, sans-serif">15</text>
<line x1="1183.6" y1="532.4" x2="1183.6" y2="552.2" stroke="#000" stroke-width="4.2"/>
<line x1="1363.1" y1="532.4" x2="1363.1" y2="552.2" stroke="#000" stroke-width="4.2"/>
<text x="1184.1" y="589" font-size="36" text-anchor="middle" font-family="Liberation Sans, sans-serif">Control</text>
<text x="1363.3" y="589" font-size="36" text-anchor="middle" font-family="Liberation Sans, sans-serif">2% DSS</text>
<text transform="translate(978.2 297.5) rotate(-90)" font-size="38.5" text-anchor="middle" font-family="Liberation Sans, sans-serif">Colon length (cm)</text>
<path d="M1182.5 99.4 H1362.7 M1182.5 89.5 V109.5 M1362.7 89.5 V109.5" stroke="#000" stroke-width="4.6" stroke-linecap="round" fill="none"/>
<text x="1286.8" y="93.7" font-size="37" text-anchor="middle" font-family="Liberation Sans, sans-serif">***</text>
<circle cx="1163.7" cy="137.1" r="8.7" fill="#0000ff"/>
<circle cx="1203.5" cy="146.4" r="8.7" fill="#0000ff"/>
<circle cx="1203.5" cy="179.3" r="8.7" fill="#0000ff"/>
<circle cx="1163.7" cy="185.9" r="8.7" fill="#0000ff"/>
<circle cx="1143.7" cy="196.3" r="8.7" fill="#0000ff"/>
<circle cx="1183.5" cy="197" r="8.7" fill="#0000ff"/>
<circle cx="1223.4" cy="216.3" r="8.7" fill="#0000ff"/>
<circle cx="1183.5" cy="261.2" r="8.7" fill="#0000ff"/>
<path d="M1123.8 189.8 H1243.6 M1153.8 150.9 H1213.3 M1153.8 228.9 H1213.3 M1183.5 150.9 V228.9" stroke="#0000ff" stroke-width="3.9" fill="none"/>
<rect x="1354.1" y="308.9" width="17.9" height="17.9" rx="3" fill="#ff0000"/>
<rect x="1314.2" y="357.2" width="17.9" height="17.9" rx="3" fill="#ff0000"/>
<rect x="1354.1" y="354.2" width="17.9" height="17.9" rx="3" fill="#ff0000"/>
<rect x="1354.1" y="360.4" width="17.9" height="17.9" rx="3" fill="#ff0000"/>
<rect x="1394.1" y="350.7" width="17.9" height="17.9" rx="3" fill="#ff0000"/>
<rect x="1394.1" y="380.1" width="17.9" height="17.9" rx="3" fill="#ff0000"/>
<rect x="1354.1" y="405.1" width="17.9" height="17.9" rx="3" fill="#ff0000"/>
<path d="M1303 368 H1422.9 M1333.3 340.6 H1392.8 M1333.3 395 H1392.8 M1363.1 340.6 V395" stroke="#ff0000" stroke-width="3.9" fill="none"/>
<path d="M1061.2 840.1 V1318.5 M1041.5 1316.2 H1492.4" stroke="#000" stroke-width="4.2" fill="none"/>
<line x1="1041.5" y1="1316.2" x2="1061.2" y2="1316.2" stroke="#000" stroke-width="4.2"/>
<text x="1036.3" y="1328.0" font-size="36.3" text-anchor="end" font-family="Liberation Sans, sans-serif">0</text>
<line x1="1041.5" y1="1197.7" x2="1061.2" y2="1197.7" stroke="#000" stroke-width="4.2"/>
<text x="1036.3" y="1209.5" font-size="36.3" text-anchor="end" font-family="Liberation Sans, sans-serif">20</text>
<line x1="1041.5" y1="1079.2" x2="1061.2" y2="1079.2" stroke="#000" stroke-width="4.2"/>
<text x="1036.3" y="1091.0" font-size="36.3" text-anchor="end" font-family="Liberation Sans, sans-serif">40</text>
<line x1="1041.5" y1="960.6" x2="1061.2" y2="960.6" stroke="#000" stroke-width="4.2"/>
<text x="1036.3" y="972.4" font-size="36.3" text-anchor="end" font-family="Liberation Sans, sans-serif">60</text>
<line x1="1041.5" y1="842.1" x2="1061.2" y2="842.1" stroke="#000" stroke-width="4.2"/>
<text x="1036.3" y="853.9" font-size="36.3" text-anchor="end" font-family="Liberation Sans, sans-serif">80</text>
<line x1="1183.2" y1="1316.2" x2="1183.2" y2="1335.9" stroke="#000" stroke-width="4.2"/>
<line x1="1367.3" y1="1316.2" x2="1367.3" y2="1335.9" stroke="#000" stroke-width="4.2"/>
<text x="1184.6" y="1373.1" font-size="36.2" text-anchor="middle" font-family="Liberation Sans, sans-serif">Control</text>
<text x="1367.4" y="1373.1" font-size="36.4" text-anchor="middle" font-family="Liberation Sans, sans-serif">2% DSS</text>
<text transform="translate(974.5 1078) rotate(-90)" font-size="39.3" text-anchor="middle" font-family="Liberation Sans, sans-serif">Positive expression of CD45 (%)</text>
<path d="M1170 868.1 H1355.2 M1170 857.5 V878.7 M1355.2 857.5 V878.7" stroke="#000" stroke-width="4.6" stroke-linecap="round" fill="none"/>
<text x="1261.6" y="865.5" font-size="36" text-anchor="middle" font-family="Liberation Sans, sans-serif">***</text>
<circle cx="1168.2" cy="1084.6" r="8.95" fill="#0000ff"/>
<circle cx="1198.5" cy="1086.3" r="8.95" fill="#0000ff"/>
<circle cx="1229.1" cy="1123.7" r="8.95" fill="#0000ff"/>
<circle cx="1137.8" cy="1131.7" r="8.95" fill="#0000ff"/>
<circle cx="1168.2" cy="1132.7" r="8.95" fill="#0000ff"/>
<circle cx="1198.5" cy="1136.8" r="8.95" fill="#0000ff"/>
<circle cx="1168.2" cy="1151.8" r="8.95" fill="#0000ff"/>
<circle cx="1198.5" cy="1158.1" r="8.95" fill="#0000ff"/>
<path d="M1122.2 1125.7 H1245 M1153.1 1098.6 H1213.8 M1153.1 1153.3 H1213.8 M1183.5 1098.6 V1153.3" stroke="#0000ff" stroke-width="3.9" fill="none"/>
<rect x="1349.2" y="902.2" width="17.6" height="17.6" rx="3" fill="#ff0000"/>
<rect x="1367.2" y="915.8" width="17.6" height="17.6" rx="3" fill="#ff0000"/>
<rect x="1367.2" y="929.8" width="17.6" height="17.6" rx="3" fill="#ff0000"/>
<rect x="1349.2" y="945.0" width="17.6" height="17.6" rx="3" fill="#ff0000"/>
<rect x="1349.2" y="955.0" width="17.6" height="17.6" rx="3" fill="#ff0000"/>
<rect x="1367.2" y="971.6" width="17.6" height="17.6" rx="3" fill="#ff0000"/>
<rect x="1349.2" y="1004.5" width="17.6" height="17.6" rx="3" fill="#ff0000"/>
<rect x="1367.2" y="1005.6" width="17.6" height="17.6" rx="3" fill="#ff0000"/>
<path d="M1306.1 962.6 H1428.4 M1336.8 924 H1397.7 M1336.8 1001 H1397.7 M1367.2 924 V1001" stroke="#ff0000" stroke-width="3.9" fill="none"/>
<text x="306" y="682.9" font-size="37" text-anchor="middle" font-family="Liberation Sans, sans-serif">Control</text>
<text x="701.8" y="683.5" font-size="37.5" text-anchor="middle" font-family="Liberation Sans, sans-serif">2% DSS</text>
</svg>
</body></html>
